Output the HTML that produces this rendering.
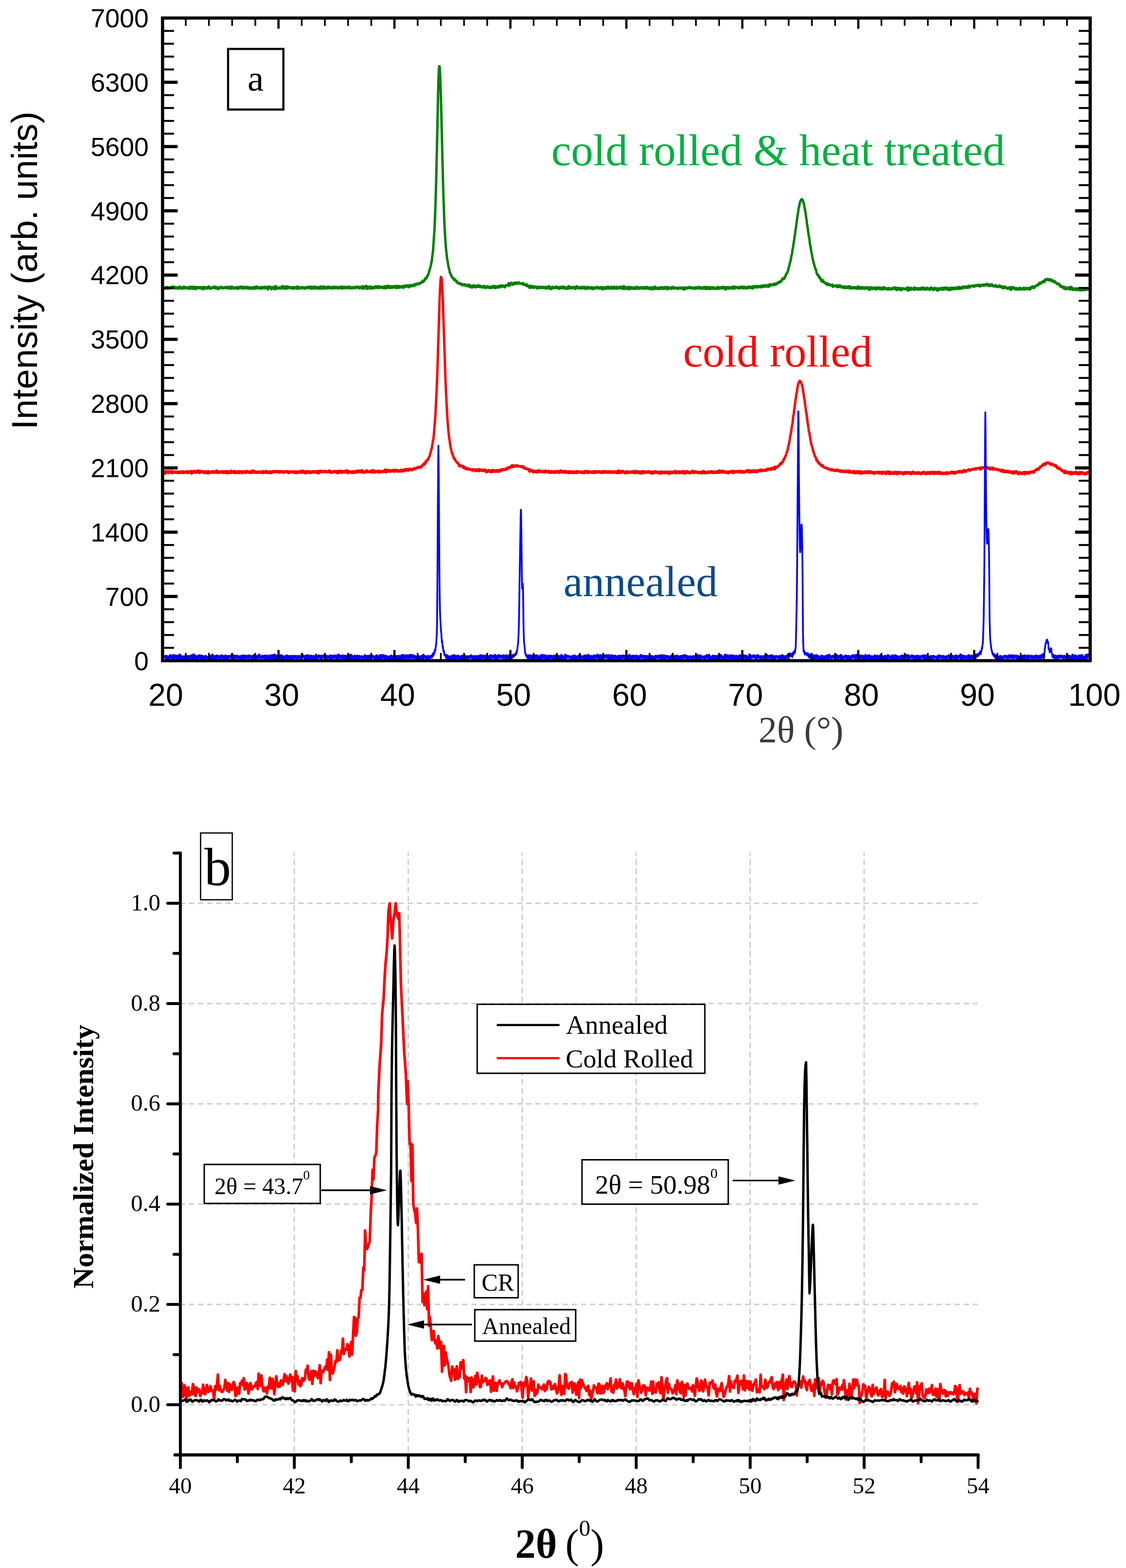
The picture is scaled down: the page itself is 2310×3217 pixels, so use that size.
<!DOCTYPE html><html><head><meta charset="utf-8"><title>XRD patterns</title><style>html,body{margin:0;padding:0;background:#fff;width:2310px;height:3217px;overflow:hidden}svg{display:block}</style></head><body><svg width="2310" height="3217" viewBox="0 0 2310 3217">
<rect width="100%" height="100%" fill="#fff"/>
<polyline fill="none" stroke="#008000" stroke-width="5" stroke-linejoin="round"  points="337,590.5 337.7,591.8 338.4,591.7 339.1,589.9 339.8,590.1 340.5,589.9 341.2,591 341.9,590.4 342.6,591.2 343.3,588.6 344,592 344.7,590.3 345.4,591.1 346.1,590.3 346.8,590.1 347.5,590.9 348.2,591.3 348.9,590.2 349.6,590.3 350.3,591.1 351,589.6 351.7,588.9 352.4,590.8 353.1,589.8 353.8,588.5 354.5,589.6 355.2,590 355.9,589.2 356.6,588.9 357.3,590.5 358,591.3 358.7,590.2 359.4,589.7 360.1,590.8 360.8,591.1 361.5,590.1 362.2,591 362.9,591.5 363.6,590.2 364.3,589.6 365,590.8 365.7,590.7 366.4,591.5 367.1,589.1 367.8,589.8 368.5,589.6 369.2,588.7 369.9,590.6 370.6,591 371.3,589.7 372,591.8 372.7,591.2 373.4,591.1 374.1,590.8 374.8,591.4 375.5,589.1 376.2,591 376.9,591 377.6,588.7 378.3,590.8 379,590.2 379.7,591.2 380.4,590 381.1,590.4 381.8,590.8 382.5,589.5 383.2,591 383.9,590.3 384.6,590.9 385.3,589.9 386,591.5 386.7,591 387.4,590.2 388.1,591.1 388.8,591.7 389.5,592.2 390.2,588.8 390.9,591.3 391.6,590.9 392.3,590.3 393,589.4 393.7,591.7 394.4,589.2 395.1,591 395.8,591.7 396.5,588.8 397.2,590.1 397.9,589.1 398.6,590.7 399.3,591.9 400,592.4 400.7,588.6 401.4,589.8 402.1,591.1 402.8,592 403.5,590.8 404.2,589.7 404.9,590.7 405.6,590.4 406.3,590.2 407,589.7 407.7,590.8 408.4,590.7 409.1,590.3 409.8,590.2 410.5,589.1 411.2,589.9 411.9,591.6 412.6,590.2 413.3,589 414,591.7 414.7,590.9 415.4,592.5 416.1,590.5 416.8,590 417.5,589 418.2,591.7 418.9,593 419.6,589.6 420.3,589.8 421,591 421.7,589.6 422.4,590.1 423.1,590.1 423.8,590.6 424.5,591.5 425.2,590.4 425.9,591.3 426.6,590 427.3,590.7 428,588.3 428.7,589 429.4,591.2 430.1,589.8 430.8,591 431.5,591 432.2,591.7 432.9,591.2 433.6,591.4 434.3,590.3 435,589.7 435.7,589.7 436.4,589.9 437.1,589.3 437.8,589.9 438.5,590.3 439.2,590.7 439.9,590.1 440.6,588.5 441.3,590.3 442,590.6 442.7,591.5 443.4,591 444.1,589.8 444.8,589.7 445.5,592.4 446.2,591.2 446.9,592.2 447.6,592.5 448.3,589.6 449,590.8 449.7,590.9 450.4,591 451.1,590.9 451.8,590.6 452.5,590.6 453.2,588.9 453.9,590.2 454.6,589.7 455.3,590.5 456,589.9 456.7,591 457.4,591.2 458.1,590.7 458.8,590.7 459.5,590.5 460.2,590 460.9,590.2 461.6,589.9 462.3,590.8 463,590.4 463.7,591 464.4,589.1 465.1,591.3 465.8,589.6 466.5,589.7 467.2,590.2 467.9,589.8 468.6,590.7 469.3,589.8 470,589.3 470.7,589.5 471.4,591.7 472.1,590.4 472.8,589.2 473.5,590.4 474.2,588.8 474.9,592.2 475.6,588.9 476.3,590.9 477,590.9 477.7,588.9 478.4,590.7 479.1,591.4 479.8,590.9 480.5,590.7 481.2,591.3 481.9,590.6 482.6,590.7 483.3,590.3 484,591 484.7,589.4 485.4,591.2 486.1,589.9 486.8,589.3 487.5,590.8 488.2,592.1 488.9,591.3 489.6,589.9 490.3,591.1 491,589.9 491.7,590.3 492.4,590.5 493.1,588.1 493.8,590.6 494.5,589.4 495.2,589.7 495.9,588.9 496.6,588.9 497.3,589.4 498,591.2 498.7,592 499.4,590.4 500.1,591.5 500.8,590.1 501.5,588.5 502.2,590.5 502.9,590.8 503.6,590 504.3,590.7 505,591 505.7,589.5 506.4,588.9 507.1,590.2 507.8,590.2 508.5,590 509.2,591.4 509.9,592.1 510.6,590 511.3,591.1 512,591.3 512.7,591.1 513.4,591.4 514.1,590 514.8,591.1 515.5,592.4 516.2,591.2 516.9,589.8 517.6,591 518.3,591.6 519,590.7 519.7,589.8 520.4,591.9 521.1,589.1 521.8,590.9 522.5,590.4 523.2,589.2 523.9,591.6 524.6,590.7 525.3,589.2 526,591 526.7,589.9 527.4,588.5 528.1,589.7 528.8,590.6 529.5,591 530.2,590.5 530.9,590.4 531.6,590.8 532.3,590.2 533,591.5 533.7,590.5 534.4,590.7 535.1,590.9 535.8,589.3 536.5,589.6 537.2,591.9 537.9,590.7 538.6,590.1 539.3,590.7 540,589.9 540.7,590.6 541.4,589.7 542.1,590.6 542.8,588.8 543.5,591.7 544.2,589.8 544.9,588.8 545.6,590.1 546.3,590 547,590.5 547.7,589.2 548.4,590.7 549.1,594 549.8,589.1 550.5,590.7 551.2,590 551.9,590.5 552.6,588.5 553.3,589.2 554,590.8 554.7,590.3 555.4,592 556.1,589.6 556.8,590.5 557.5,593.3 558.2,589.6 558.9,589.4 559.6,590.3 560.3,590.3 561,591.2 561.7,590.5 562.4,589.6 563.1,590.6 563.8,593 564.5,591.6 565.2,587.6 565.9,590.2 566.6,589.5 567.3,591 568,590.2 568.7,592.3 569.4,591.3 570.1,591.2 570.8,590.5 571.5,590.3 572.2,590.7 572.9,591.6 573.6,590.9 574.3,590 575,591.6 575.7,590.5 576.4,590.2 577.1,589.5 577.8,589.8 578.5,589.7 579.2,587.5 579.9,591.3 580.6,590.9 581.3,590.1 582,591.4 582.7,590.8 583.4,590.7 584.1,587.8 584.8,590.1 585.5,590.9 586.2,591.9 586.9,592.2 587.6,591.7 588.3,589.2 589,588.1 589.7,590.9 590.4,590.3 591.1,591.3 591.8,590.2 592.5,590.5 593.2,588.8 593.9,590.8 594.6,589.9 595.3,590.7 596,590.8 596.7,590.2 597.4,590.6 598.1,590.3 598.8,591.1 599.5,590.8 600.2,589.8 600.9,589.7 601.6,592 602.3,590.2 603,591.3 603.7,590.7 604.4,589.7 605.1,589.5 605.8,590.4 606.5,590.6 607.2,590.9 607.9,589 608.6,589.7 609.3,590.2 610,591.9 610.7,587.9 611.4,590.7 612.1,589.7 612.8,590.7 613.5,589.8 614.2,590.6 614.9,591.8 615.6,590.6 616.3,590.7 617,590.7 617.7,589.5 618.4,590.8 619.1,590.1 619.8,589.5 620.5,590.2 621.2,590 621.9,591 622.6,590.2 623.3,589.7 624,591.7 624.7,591.3 625.4,591.5 626.1,590.9 626.8,590.2 627.5,589.8 628.2,590 628.9,591.2 629.6,590.4 630.3,588.8 631,590.2 631.7,588.8 632.4,590.4 633.1,589.1 633.8,589 634.5,590.4 635.2,590.2 635.9,588.6 636.6,591 637.3,592.4 638,588.8 638.7,592.1 639.4,589.6 640.1,589.7 640.8,590.1 641.5,588.8 642.2,591.5 642.9,590.7 643.6,589.5 644.3,590 645,588.7 645.7,589.9 646.4,591.2 647.1,588.5 647.8,589.8 648.5,590.4 649.2,591.3 649.9,591.6 650.6,589.8 651.3,589.5 652,590.7 652.7,589.9 653.4,589.9 654.1,591.3 654.8,591.9 655.5,590.5 656.2,590 656.9,590.8 657.6,588.3 658.3,590.2 659,589.1 659.7,592.6 660.4,590.9 661.1,590.3 661.8,590 662.5,587.7 663.2,590.9 663.9,591.8 664.6,589.5 665.3,590.9 666,590.9 666.7,588.6 667.4,591.1 668.1,591.5 668.8,590.4 669.5,590.1 670.2,591 670.9,588.6 671.6,590.3 672.3,591.2 673,588.9 673.7,591.2 674.4,589.7 675.1,588.1 675.8,590.1 676.5,589.2 677.2,590.5 677.9,589 678.6,591.2 679.3,589.4 680,590.5 680.7,589.6 681.4,589.8 682.1,591.3 682.8,590.4 683.5,589.7 684.2,588.9 684.9,591.3 685.6,590.9 686.3,589.8 687,590.4 687.7,589.1 688.4,589.1 689.1,589.3 689.8,590.5 690.5,590.4 691.2,589.4 691.9,590.9 692.6,590.9 693.3,590.3 694,591.1 694.7,589.8 695.4,590 696.1,590.6 696.8,590.1 697.5,590.9 698.2,588.8 698.9,591.5 699.6,589.3 700.3,589.9 701,588.7 701.7,590.7 702.4,591.3 703.1,591.1 703.8,590.9 704.5,588.5 705.2,589.3 705.9,589.6 706.6,589.1 707.3,591.2 708,590.2 708.7,590 709.4,590.5 710.1,589.1 710.8,589.1 711.5,589.2 712.2,590.5 712.9,590.4 713.6,590.6 714.3,591.1 715,588.7 715.7,589.5 716.4,590.2 717.1,588.7 717.8,589.5 718.5,591 719.2,591.1 719.9,591.1 720.6,590 721.3,589.8 722,591.1 722.7,589.6 723.4,590.3 724.1,591.3 724.8,589.6 725.5,589.4 726.2,590 726.9,590.6 727.6,590.4 728.3,590.1 729,590.5 729.7,588.3 730.4,589.1 731.1,590.1 731.8,589 732.5,588.6 733.2,588.7 733.9,589 734.6,589.7 735.3,588.9 736,590.1 736.7,591.6 737.4,589.7 738.1,591.2 738.8,590.2 739.5,588.8 740.2,589.6 740.9,588.9 741.6,590.6 742.3,588.7 743,591.2 743.7,590.4 744.4,587.8 745.1,590.6 745.8,591.4 746.5,589 747.2,590.8 747.9,588 748.6,590.1 749.3,588.1 750,590.3 750.7,588 751.4,587.1 752.1,590.2 752.8,592.1 753.5,589.2 754.2,590.6 754.9,589.9 755.6,589.4 756.3,590.3 757,591.4 757.7,588.5 758.4,590.3 759.1,590 759.8,588.3 760.5,591.3 761.2,591.6 761.9,588.7 762.6,591.4 763.3,589.7 764,589.5 764.7,591.1 765.4,589.9 766.1,589.9 766.8,591.1 767.5,590.9 768.2,590.5 768.9,588.2 769.6,588 770.3,590.7 771,588.6 771.7,589.7 772.4,588.5 773.1,589.3 773.8,588.2 774.5,591.1 775.2,588.5 775.9,589.4 776.6,589.3 777.3,590.7 778,588 778.7,589.4 779.4,589.2 780.1,589.9 780.8,589.9 781.5,588.9 782.2,589.6 782.9,589 783.6,589.8 784.3,589.2 785,588.7 785.7,589.3 786.4,589.7 787.1,591.5 787.8,588.8 788.5,589.6 789.2,590.7 789.9,587.1 790.6,587.5 791.3,588 792,589.1 792.7,591.6 793.4,589.5 794.1,590.3 794.8,588.9 795.5,586.6 796.2,586.8 796.9,590.1 797.6,589.2 798.3,587.7 799,590.1 799.7,587.4 800.4,590.1 801.1,590.4 801.8,588.1 802.5,587.8 803.2,589.7 803.9,587.7 804.6,589.7 805.3,587.6 806,589.6 806.7,588.8 807.4,588.3 808.1,587.8 808.8,588.9 809.5,586.7 810.2,588.3 810.9,588.2 811.6,589.2 812.3,587.3 813,590.2 813.7,588.2 814.4,587.3 815.1,589.8 815.8,590 816.5,588.1 817.2,587.4 817.9,588.3 818.6,587.5 819.3,587.9 820,589.7 820.7,588.5 821.4,588.2 822.1,588.4 822.8,587.9 823.5,588.8 824.2,588.8 824.9,587.5 825.6,587.9 826.3,590.2 827,588.1 827.7,587.5 828.4,589.6 829.1,587.5 829.8,586.4 830.5,588.1 831.2,586.5 831.9,586.8 832.6,587.6 833.3,587 834,586.3 834.7,586.5 835.4,586.4 836.1,588 836.8,586.1 837.5,586.1 838.2,588.7 838.9,586 839.6,588 840.3,587.7 841,586.1 841.7,584.8 842.4,586.5 843.1,586.6 843.8,586.8 844.5,585.8 845.2,586.8 845.9,586.9 846.6,584.3 847.3,586.7 848,585.3 848.7,584.4 849.4,584.5 850.1,586.6 850.8,585.5 851.5,582.6 852.2,584.3 852.9,583.9 853.6,583.7 854.3,583.1 855,582 855.7,584.1 856.4,582.1 857.1,582.4 857.8,581.9 858.5,581.5 859.2,582.7 859.9,582.1 860.6,580.7 861.3,580.2 862,580.3 862.7,581.4 863.4,580.2 864.1,579.9 864.8,579 865.5,578.6 866.2,578.6 866.9,576.1 867.6,579 868.3,576.1 869,575.7 869.7,577 870.4,575.3 871.1,574.4 871.8,573 872.5,571.2 873.2,572.1 873.9,572.2 874.6,569.2 875.3,570.4 876,566.7 876.7,565.9 877.4,565.8 878.1,563.8 878.8,563 879.5,559.8 880.2,557.6 880.9,554.7 881.6,553.1 882.3,550.8 883,547.7 883.7,546.3 884.4,541.9 885.1,536.8 885.8,537 886.5,528.8 887.2,522.8 887.9,519 888.6,511.6 889.3,501 890,491 890.7,480.4 891.4,469.6 892.1,453.3 892.8,435.6 893.5,416.5 894.2,395.1 894.9,366.8 895.6,339.1 896.3,306.7 897,276.7 897.7,242.2 898.4,208.5 899.1,178.3 899.8,156.4 900.5,139.1 901.2,135.8 901.9,136.8 902.6,146.3 903.3,161.8 904,181.5 904.7,205.6 905.4,232 906.1,260.2 906.8,288.9 907.5,320.3 908.2,348 908.9,375.9 909.6,398 910.3,417.7 911,439 911.7,458.2 912.4,471 913.1,482.9 913.8,494.9 914.5,503.9 915.2,512.1 915.9,518.2 916.6,525 917.3,530.6 918,534.6 918.7,538.4 919.4,543.4 920.1,547.6 920.8,550.3 921.5,552.9 922.2,555.3 922.9,559.6 923.6,559.4 924.3,562 925,564.6 925.7,564.2 926.4,565.9 927.1,568 927.8,569.8 928.5,569.6 929.2,570.7 929.9,571.4 930.6,571 931.3,574.1 932,573.5 932.7,572.8 933.4,575.1 934.1,574.1 934.8,575.4 935.5,577 936.2,576.6 936.9,579.1 937.6,577 938.3,579.2 939,579.9 939.7,581.2 940.4,581.1 941.1,580.8 941.8,580.9 942.5,581.1 943.2,582.6 943.9,581.1 944.6,582.6 945.3,582.2 946,582.8 946.7,582.6 947.4,585.2 948.1,582.6 948.8,583.7 949.5,584 950.2,584.5 950.9,584.5 951.6,584.7 952.3,585.4 953,583.1 953.7,584.7 954.4,583.6 955.1,585.3 955.8,584 956.5,584.3 957.2,585.4 957.9,586.9 958.6,586.2 959.3,586.1 960,587.3 960.7,585.1 961.4,584 962.1,585.8 962.8,586 963.5,587.6 964.2,588.6 964.9,585.2 965.6,589.1 966.3,588.3 967,587.7 967.7,587.3 968.4,589.4 969.1,587.1 969.8,586.6 970.5,587.3 971.2,585.9 971.9,587.8 972.6,587.3 973.3,587.8 974,587.8 974.7,586.5 975.4,588.9 976.1,586.6 976.8,588.6 977.5,586.2 978.2,588.2 978.9,587 979.6,587.9 980.3,587.3 981,585.8 981.7,586.9 982.4,588.1 983.1,588.7 983.8,586.7 984.5,586.1 985.2,587.3 985.9,588 986.6,587.7 987.3,587.5 988,589.2 988.7,589.4 989.4,589.2 990.1,587.5 990.8,588.6 991.5,588.3 992.2,587.1 992.9,589.5 993.6,588.7 994.3,588.1 995,590.1 995.7,589.4 996.4,589.6 997.1,589.9 997.8,589.5 998.5,587.5 999.2,588.4 999.9,589.8 1000.6,588.1 1001.3,588.9 1002,589.3 1002.7,590.3 1003.4,590.2 1004.1,589.8 1004.8,588.8 1005.5,589.9 1006.2,589.5 1006.9,588.8 1007.6,590.3 1008.3,589.5 1009,588.3 1009.7,590.3 1010.4,588.8 1011.1,589.6 1011.8,587.5 1012.5,589 1013.2,588.1 1013.9,588 1014.6,587.1 1015.3,591.1 1016,588.8 1016.7,589.2 1017.4,590 1018.1,588.8 1018.8,589.4 1019.5,587.5 1020.2,589 1020.9,588.4 1021.6,589.2 1022.3,588.9 1023,587.3 1023.7,586.7 1024.4,587.5 1025.1,589.2 1025.8,588.8 1026.5,588.7 1027.2,586.2 1027.9,585.4 1028.6,587.4 1029.3,587.6 1030,587.2 1030.7,588 1031.4,587.4 1032.1,586.2 1032.8,586.4 1033.5,587.2 1034.2,587 1034.9,586.7 1035.6,588.9 1036.3,586.2 1037,586.4 1037.7,585.1 1038.4,585.5 1039.1,586.2 1039.8,586 1040.5,585.1 1041.2,585.5 1041.9,584.9 1042.6,582.7 1043.3,581.1 1044,586.5 1044.7,584.8 1045.4,583.7 1046.1,581.8 1046.8,582.1 1047.5,584.5 1048.2,580.1 1048.9,582.4 1049.6,583.4 1050.3,582.5 1051,582.9 1051.7,581.8 1052.4,584.2 1053.1,580.6 1053.8,580.2 1054.5,581.7 1055.2,582.7 1055.9,581.1 1056.6,582.1 1057.3,580.5 1058,579.7 1058.7,582.3 1059.4,582.4 1060.1,582.3 1060.8,580.4 1061.5,579.7 1062.2,579.7 1062.9,580.6 1063.6,581.5 1064.3,581.5 1065,579.6 1065.7,581.4 1066.4,581.3 1067.1,581.5 1067.8,581.5 1068.5,581.5 1069.2,582.4 1069.9,582.1 1070.6,582.4 1071.3,581.7 1072,583 1072.7,582.7 1073.4,580.9 1074.1,583.7 1074.8,583.2 1075.5,584.6 1076.2,583.7 1076.9,584 1077.6,584.5 1078.3,584.5 1079,584.3 1079.7,583.2 1080.4,587.1 1081.1,583.9 1081.8,585.3 1082.5,586.5 1083.2,586.5 1083.9,586.9 1084.6,587.3 1085.3,588 1086,587.2 1086.7,590 1087.4,586.2 1088.1,587.7 1088.8,587.2 1089.5,587.2 1090.2,588.2 1090.9,589.5 1091.6,587.5 1092.3,587.6 1093,589.2 1093.7,589.1 1094.4,590.6 1095.1,589.8 1095.8,589.1 1096.5,588.6 1097.2,589.3 1097.9,589 1098.6,587.9 1099.3,589.3 1100,589.2 1100.7,589.2 1101.4,589.1 1102.1,591.2 1102.8,590.3 1103.5,590.6 1104.2,589.1 1104.9,588.7 1105.6,589.5 1106.3,590 1107,589.5 1107.7,589.7 1108.4,590.8 1109.1,590.2 1109.8,588.9 1110.5,589.5 1111.2,589.3 1111.9,590.2 1112.6,588.8 1113.3,589.8 1114,590.7 1114.7,590.1 1115.4,589.1 1116.1,589.4 1116.8,590.2 1117.5,590.6 1118.2,590.9 1118.9,590 1119.6,588.8 1120.3,591.5 1121,590.4 1121.7,590.5 1122.4,590.4 1123.1,589.1 1123.8,589.8 1124.5,590.4 1125.2,591.2 1125.9,590.2 1126.6,587.1 1127.3,589.9 1128,590.5 1128.7,591.5 1129.4,590.9 1130.1,592.7 1130.8,591.6 1131.5,591.6 1132.2,591.1 1132.9,588.8 1133.6,591.1 1134.3,590.8 1135,589.7 1135.7,590.8 1136.4,590.6 1137.1,589.8 1137.8,590.1 1138.5,590 1139.2,590.5 1139.9,589.8 1140.6,590.8 1141.3,588.3 1142,590 1142.7,588.6 1143.4,589.8 1144.1,590.8 1144.8,590.3 1145.5,590.2 1146.2,590.4 1146.9,591.9 1147.6,589.2 1148.3,591.2 1149,588.8 1149.7,589.8 1150.4,590.5 1151.1,589.5 1151.8,590.5 1152.5,591 1153.2,589.1 1153.9,590.2 1154.6,590 1155.3,588.4 1156,590.1 1156.7,589.5 1157.4,591.7 1158.1,589.5 1158.8,592 1159.5,589.8 1160.2,592.3 1160.9,590.9 1161.6,590.8 1162.3,591.2 1163,591.3 1163.7,591.8 1164.4,592.1 1165.1,590 1165.8,589.1 1166.5,587.7 1167.2,590 1167.9,591.2 1168.6,590.8 1169.3,590.5 1170,590.1 1170.7,589.8 1171.4,590.1 1172.1,590.8 1172.8,588.6 1173.5,591.1 1174.2,589 1174.9,590.3 1175.6,589.8 1176.3,590.1 1177,589.4 1177.7,589.3 1178.4,590.2 1179.1,589.4 1179.8,592.9 1180.5,590 1181.2,589.8 1181.9,589.9 1182.6,589.4 1183.3,588 1184,590.2 1184.7,590.8 1185.4,589 1186.1,590.5 1186.8,589.3 1187.5,590.4 1188.2,590.8 1188.9,591 1189.6,590.9 1190.3,589.8 1191,591.4 1191.7,590 1192.4,590.8 1193.1,591.2 1193.8,590.2 1194.5,589.2 1195.2,591.1 1195.9,589.4 1196.6,589.6 1197.3,589.4 1198,591.4 1198.7,590.4 1199.4,588.3 1200.1,591.3 1200.8,592.6 1201.5,592.3 1202.2,590 1202.9,590.6 1203.6,591 1204.3,591.4 1205,590.6 1205.7,589.4 1206.4,591.3 1207.1,591.2 1207.8,589.2 1208.5,590.2 1209.2,590.8 1209.9,590.6 1210.6,591.1 1211.3,591.4 1212,591.1 1212.7,590.5 1213.4,589.2 1214.1,591.2 1214.8,592 1215.5,592.6 1216.2,590.5 1216.9,590.5 1217.6,592 1218.3,592 1219,590.9 1219.7,591.3 1220.4,589.8 1221.1,591.2 1221.8,589.8 1222.5,590.5 1223.2,590.5 1223.9,590.1 1224.6,588.5 1225.3,589.8 1226,590.9 1226.7,590.6 1227.4,590.2 1228.1,591.1 1228.8,591.3 1229.5,591.5 1230.2,589.8 1230.9,590.7 1231.6,590.3 1232.3,589.8 1233,589.1 1233.7,590.5 1234.4,589.8 1235.1,592.8 1235.8,590.6 1236.5,590.4 1237.2,590.3 1237.9,592.5 1238.6,589.7 1239.3,590.5 1240,589.9 1240.7,590.5 1241.4,590.6 1242.1,591.8 1242.8,589.3 1243.5,590.7 1244.2,592.3 1244.9,590.2 1245.6,590.5 1246.3,589.8 1247,588.1 1247.7,590.6 1248.4,591.9 1249.1,590.2 1249.8,588.9 1250.5,591 1251.2,590.8 1251.9,591.7 1252.6,591.6 1253.3,590.4 1254,591.1 1254.7,588.9 1255.4,591.8 1256.1,590.9 1256.8,591.8 1257.5,591.8 1258.2,590.4 1258.9,590.6 1259.6,589.9 1260.3,588.7 1261,590.6 1261.7,590.9 1262.4,589.7 1263.1,591.5 1263.8,590.8 1264.5,591.2 1265.2,590 1265.9,589 1266.6,591.5 1267.3,591.4 1268,590.6 1268.7,590.3 1269.4,590.5 1270.1,590.6 1270.8,590.3 1271.5,588.8 1272.2,591.6 1272.9,589.3 1273.6,590.4 1274.3,590.5 1275,591 1275.7,589.2 1276.4,592 1277.1,591.4 1277.8,591.6 1278.5,592.1 1279.2,590 1279.9,587.7 1280.6,591.1 1281.3,592.1 1282,592 1282.7,590.3 1283.4,590.7 1284.1,591.1 1284.8,589 1285.5,590.1 1286.2,590.2 1286.9,592.4 1287.6,590.2 1288.3,592.4 1289,590.8 1289.7,589.2 1290.4,593.1 1291.1,589.9 1291.8,591.5 1292.5,592.5 1293.2,590.3 1293.9,589.6 1294.6,591.9 1295.3,590.9 1296,589.6 1296.7,589.8 1297.4,590.5 1298.1,591.8 1298.8,590.6 1299.5,591.5 1300.2,592.5 1300.9,592.1 1301.6,592.3 1302.3,592.1 1303,589.3 1303.7,592.1 1304.4,591.2 1305.1,590.8 1305.8,589.8 1306.5,589.3 1307.2,589.8 1307.9,590.9 1308.6,589.7 1309.3,590.1 1310,590.3 1310.7,591.6 1311.4,590.6 1312.1,590.7 1312.8,592.2 1313.5,590.6 1314.2,591.5 1314.9,589.8 1315.6,591.2 1316.3,591 1317,591.1 1317.7,590.4 1318.4,589.9 1319.1,590.6 1319.8,590.4 1320.5,591.9 1321.2,591.8 1321.9,589.7 1322.6,591.5 1323.3,590.4 1324,591.4 1324.7,590.4 1325.4,589.5 1326.1,591.9 1326.8,591.4 1327.5,589.7 1328.2,589 1328.9,590.4 1329.6,589.8 1330.3,590.6 1331,591.6 1331.7,592.4 1332.4,590.6 1333.1,592.3 1333.8,592.1 1334.5,590.5 1335.2,589.3 1335.9,591.8 1336.6,591.6 1337.3,593.3 1338,592.4 1338.7,591.7 1339.4,592.6 1340.1,589.9 1340.8,591.2 1341.5,590.7 1342.2,592.7 1342.9,591.5 1343.6,587.9 1344.3,592.3 1345,590.1 1345.7,591.7 1346.4,590.5 1347.1,591.2 1347.8,591.6 1348.5,591.2 1349.2,590 1349.9,592.4 1350.6,591.4 1351.3,591 1352,591.7 1352.7,590.5 1353.4,592.9 1354.1,591.2 1354.8,591.4 1355.5,591.3 1356.2,590.1 1356.9,589.8 1357.6,591.2 1358.3,591.4 1359,592.3 1359.7,591.5 1360.4,589.9 1361.1,591.5 1361.8,591.8 1362.5,592 1363.2,591.3 1363.9,589.8 1364.6,592.2 1365.3,590.3 1366,591.6 1366.7,589.4 1367.4,591.8 1368.1,590.2 1368.8,592.1 1369.5,592.8 1370.2,592.2 1370.9,589.8 1371.6,590.1 1372.3,590.1 1373,591.7 1373.7,591.4 1374.4,591.2 1375.1,591.3 1375.8,591.6 1376.5,591.7 1377.2,592.7 1377.9,591 1378.6,591.2 1379.3,589.2 1380,589.7 1380.7,590.3 1381.4,589.8 1382.1,591.2 1382.8,592.1 1383.5,590.6 1384.2,590.5 1384.9,590.5 1385.6,591.1 1386.3,590.5 1387,591.4 1387.7,591.3 1388.4,591.4 1389.1,591.8 1389.8,591 1390.5,591.2 1391.2,592.8 1391.9,591 1392.6,591.8 1393.3,591.1 1394,590.6 1394.7,590.6 1395.4,590.2 1396.1,591 1396.8,590.4 1397.5,590.6 1398.2,592.2 1398.9,590.9 1399.6,592.1 1400.3,591.3 1401,591.9 1401.7,590.4 1402.4,591.2 1403.1,593.6 1403.8,591.8 1404.5,592 1405.2,591.2 1405.9,591.9 1406.6,589.8 1407.3,590.1 1408,591.4 1408.7,591.8 1409.4,590.6 1410.1,590.8 1410.8,590.6 1411.5,590.8 1412.2,589.8 1412.9,589.6 1413.6,590.9 1414.3,589.3 1415,590 1415.7,590.3 1416.4,589.9 1417.1,591.2 1417.8,590.5 1418.5,590.9 1419.2,590 1419.9,590.2 1420.6,591.5 1421.3,591.3 1422,590.5 1422.7,591.3 1423.4,591.2 1424.1,591.1 1424.8,592.6 1425.5,590.6 1426.2,591.4 1426.9,591.4 1427.6,590.7 1428.3,589.8 1429,591.6 1429.7,591.2 1430.4,591 1431.1,591 1431.8,591 1432.5,590 1433.2,591.2 1433.9,589.1 1434.6,590.9 1435.3,589.4 1436,590.6 1436.7,591.6 1437.4,590.7 1438.1,590.4 1438.8,591.4 1439.5,590.6 1440.2,590.5 1440.9,590.5 1441.6,592.4 1442.3,591.6 1443,591.4 1443.7,589.7 1444.4,591.5 1445.1,589.6 1445.8,591.4 1446.5,589.8 1447.2,592.8 1447.9,589.2 1448.6,592.1 1449.3,591.7 1450,589.1 1450.7,590.6 1451.4,592.3 1452.1,592 1452.8,589.2 1453.5,590.3 1454.2,589.7 1454.9,589.8 1455.6,590.2 1456.3,592.7 1457,590.9 1457.7,590.6 1458.4,590.5 1459.1,591.5 1459.8,591.5 1460.5,589.9 1461.2,592.3 1461.9,589.7 1462.6,590.5 1463.3,591.2 1464,592.5 1464.7,590.4 1465.4,591 1466.1,592.1 1466.8,591.4 1467.5,591.9 1468.2,591.8 1468.9,591 1469.6,591.4 1470.3,591.6 1471,590.7 1471.7,592.3 1472.4,588.7 1473.1,589.8 1473.8,592.1 1474.5,591.1 1475.2,590 1475.9,591.1 1476.6,591.8 1477.3,590.1 1478,591.4 1478.7,590.5 1479.4,590.5 1480.1,590.6 1480.8,591.8 1481.5,589.5 1482.2,590.3 1482.9,591.3 1483.6,589.4 1484.3,589 1485,591.2 1485.7,590.6 1486.4,590.4 1487.1,590.7 1487.8,589.6 1488.5,593.5 1489.2,589.6 1489.9,590.1 1490.6,589.1 1491.3,590.1 1492,592 1492.7,590.5 1493.4,591.1 1494.1,590 1494.8,592.3 1495.5,590.6 1496.2,589.2 1496.9,591.2 1497.6,590.1 1498.3,591 1499,590.6 1499.7,590.7 1500.4,590.5 1501.1,589.5 1501.8,588.9 1502.5,591.3 1503.2,590.2 1503.9,590.6 1504.6,589.9 1505.3,588.3 1506,589 1506.7,591.7 1507.4,589.5 1508.1,589.9 1508.8,588.8 1509.5,589.7 1510.2,589.8 1510.9,590 1511.6,590.1 1512.3,589.5 1513,589.6 1513.7,590.1 1514.4,590.5 1515.1,590 1515.8,591.8 1516.5,590.3 1517.2,590.2 1517.9,589.4 1518.6,591.1 1519.3,589 1520,588.4 1520.7,589 1521.4,590.6 1522.1,588.8 1522.8,591.2 1523.5,589.9 1524.2,588.4 1524.9,589.6 1525.6,591.6 1526.3,588.9 1527,588.5 1527.7,590.3 1528.4,591 1529.1,590.7 1529.8,589.4 1530.5,589.9 1531.2,590 1531.9,590.8 1532.6,591.7 1533.3,589.5 1534,590.8 1534.7,589.2 1535.4,590.1 1536.1,588.5 1536.8,588.7 1537.5,589.8 1538.2,588.5 1538.9,590.2 1539.6,588.8 1540.3,589.4 1541,589.2 1541.7,588.9 1542.4,589.3 1543.1,590.2 1543.8,592.2 1544.5,587.9 1545.2,589.3 1545.9,588.8 1546.6,588 1547.3,589.2 1548,588 1548.7,588.8 1549.4,590 1550.1,586.7 1550.8,588.9 1551.5,589.1 1552.2,587.6 1552.9,589.1 1553.6,588.9 1554.3,588.1 1555,589.6 1555.7,587 1556.4,588.9 1557.1,588 1557.8,587.1 1558.5,588 1559.2,587.7 1559.9,588.8 1560.6,586.5 1561.3,587.7 1562,587.4 1562.7,589.3 1563.4,586.6 1564.1,588.7 1564.8,585.8 1565.5,587.8 1566.2,587.3 1566.9,587.7 1567.6,586.5 1568.3,585.2 1569,585.5 1569.7,588.3 1570.4,587.1 1571.1,585.9 1571.8,587.6 1572.5,585.9 1573.2,585.8 1573.9,585.2 1574.6,587.5 1575.3,588.1 1576,585.1 1576.7,586.2 1577.4,586.8 1578.1,587.8 1578.8,583.2 1579.5,585.6 1580.2,586 1580.9,583.7 1581.6,585.4 1582.3,585.1 1583,585.5 1583.7,584 1584.4,584.8 1585.1,583.6 1585.8,584.7 1586.5,584.1 1587.2,583.3 1587.9,582.1 1588.6,585 1589.3,584.2 1590,583.8 1590.7,582 1591.4,582.1 1592.1,583.9 1592.8,582.7 1593.5,580.8 1594.2,581.4 1594.9,581.2 1595.6,580.6 1596.3,579.5 1597,581.4 1597.7,580.4 1598.4,579.2 1599.1,577.5 1599.8,578 1600.5,578.2 1601.2,578.6 1601.9,576.9 1602.6,577.8 1603.3,576.3 1604,574.8 1604.7,572.1 1605.4,573.1 1606.1,572 1606.8,572.6 1607.5,572.3 1608.2,572.4 1608.9,570.1 1609.6,567.9 1610.3,570.3 1611,567.1 1611.7,565.3 1612.4,564 1613.1,561.5 1613.8,561.9 1614.5,560 1615.2,559.5 1615.9,557.1 1616.6,554.9 1617.3,553.2 1618,549.4 1618.7,546.8 1619.4,544.7 1620.1,540.8 1620.8,539 1621.5,535.9 1622.2,533.7 1622.9,529.7 1623.6,524.3 1624.3,522.6 1625,520.2 1625.7,513 1626.4,509.9 1627.1,506.4 1627.8,500.6 1628.5,496.8 1629.2,492.7 1629.9,486.5 1630.6,483.2 1631.3,478.3 1632,471.5 1632.7,467.7 1633.4,463.6 1634.1,457.2 1634.8,452.7 1635.5,447.9 1636.2,442.2 1636.9,438.6 1637.6,433.5 1638.3,427.9 1639,425.4 1639.7,422.1 1640.4,418.8 1641.1,414.5 1641.8,413.2 1642.5,412.3 1643.2,409.8 1643.9,409.9 1644.6,409.7 1645.3,408.6 1646,410 1646.7,410.3 1647.4,413.4 1648.1,414.5 1648.8,416.6 1649.5,420.2 1650.2,423.5 1650.9,427.7 1651.6,431.7 1652.3,434.3 1653,439.3 1653.7,444.9 1654.4,449.7 1655.1,454.2 1655.8,461.6 1656.5,465.1 1657.2,468.8 1657.9,474.6 1658.6,480.1 1659.3,483.9 1660,486.6 1660.7,493.1 1661.4,497.6 1662.1,504.1 1662.8,504.4 1663.5,512 1664.2,514.3 1664.9,519.2 1665.6,521.7 1666.3,525.8 1667,530.1 1667.7,532.4 1668.4,536.4 1669.1,538.3 1669.8,540.7 1670.5,543.6 1671.2,545.8 1671.9,548.6 1672.6,552.3 1673.3,551.9 1674,553.5 1674.7,557 1675.4,560.5 1676.1,561.5 1676.8,563.3 1677.5,564.7 1678.2,564.1 1678.9,566.3 1679.6,564.7 1680.3,567.9 1681,570.2 1681.7,569 1682.4,569.4 1683.1,571.1 1683.8,573.4 1684.5,575.1 1685.2,577.3 1685.9,576.8 1686.6,574.5 1687.3,574.3 1688,577.3 1688.7,578.8 1689.4,576.6 1690.1,578.1 1690.8,578.7 1691.5,579.6 1692.2,579.8 1692.9,580.8 1693.6,581.7 1694.3,581.1 1695,582.1 1695.7,583.7 1696.4,581 1697.1,581.2 1697.8,583 1698.5,584.6 1699.2,583.2 1699.9,584.4 1700.6,583.2 1701.3,584.7 1702,583.3 1702.7,584.8 1703.4,584.8 1704.1,584.9 1704.8,586.1 1705.5,586 1706.2,584.5 1706.9,586.1 1707.6,583.7 1708.3,586.6 1709,588.5 1709.7,586.4 1710.4,586.5 1711.1,586.2 1711.8,587.1 1712.5,586 1713.2,587.2 1713.9,586.4 1714.6,586.4 1715.3,587.1 1716,587 1716.7,585.4 1717.4,589.3 1718.1,587.5 1718.8,585.8 1719.5,588.6 1720.2,587.6 1720.9,588 1721.6,588.6 1722.3,587 1723,585.1 1723.7,588 1724.4,588.4 1725.1,589.3 1725.8,587.6 1726.5,588.2 1727.2,588.9 1727.9,588.3 1728.6,588.4 1729.3,589 1730,587.8 1730.7,590.4 1731.4,588 1732.1,589 1732.8,588.7 1733.5,588.4 1734.2,589.7 1734.9,590.2 1735.6,590.7 1736.3,589.9 1737,588.9 1737.7,590.3 1738.4,588.1 1739.1,589.6 1739.8,590.1 1740.5,590.2 1741.2,588.5 1741.9,588.2 1742.6,591.4 1743.3,589.3 1744,588.2 1744.7,588.7 1745.4,590 1746.1,591.2 1746.8,590 1747.5,591.3 1748.2,590.3 1748.9,590.6 1749.6,591.2 1750.3,589.8 1751,590.6 1751.7,589.9 1752.4,589.7 1753.1,591 1753.8,589.6 1754.5,590.5 1755.2,589.7 1755.9,590.4 1756.6,590 1757.3,591.6 1758,590.7 1758.7,590.7 1759.4,592.3 1760.1,587.8 1760.8,589.6 1761.5,588 1762.2,590.7 1762.9,591.2 1763.6,591.4 1764.3,591.1 1765,590 1765.7,592.6 1766.4,591.2 1767.1,590.6 1767.8,589.8 1768.5,591.4 1769.2,590.5 1769.9,590.5 1770.6,591.2 1771.3,591.3 1772,590.2 1772.7,592.3 1773.4,590.1 1774.1,590 1774.8,591.5 1775.5,591.3 1776.2,591.3 1776.9,590.8 1777.6,591.3 1778.3,590.7 1779,589.6 1779.7,592 1780.4,590.3 1781.1,591.1 1781.8,592.1 1782.5,591.4 1783.2,594.1 1783.9,590 1784.6,590.7 1785.3,591.5 1786,592.8 1786.7,591.2 1787.4,590 1788.1,592.6 1788.8,590.6 1789.5,591.3 1790.2,592.4 1790.9,590.9 1791.6,591.1 1792.3,592.1 1793,591.4 1793.7,591.9 1794.4,590.7 1795.1,591.5 1795.8,590.6 1796.5,590.1 1797.2,593.4 1797.9,592.2 1798.6,592.6 1799.3,590.8 1800,591.7 1800.7,591.5 1801.4,590.3 1802.1,592.3 1802.8,591.1 1803.5,591.6 1804.2,590.3 1804.9,592.8 1805.6,592.6 1806.3,592.2 1807,590.9 1807.7,591.3 1808.4,593.1 1809.1,591.6 1809.8,592.1 1810.5,592 1811.2,590.8 1811.9,593.4 1812.6,589.9 1813.3,592.1 1814,591.8 1814.7,590.3 1815.4,592.3 1816.1,592.5 1816.8,592 1817.5,591.1 1818.2,592.4 1818.9,593.1 1819.6,592.2 1820.3,593.7 1821,592.9 1821.7,592.8 1822.4,593.4 1823.1,591.4 1823.8,591.5 1824.5,592.6 1825.2,592.6 1825.9,593.6 1826.6,593.2 1827.3,592.3 1828,592.3 1828.7,591.8 1829.4,591.7 1830.1,591.7 1830.8,593 1831.5,591.7 1832.2,591.8 1832.9,592.3 1833.6,591.6 1834.3,591.9 1835,590 1835.7,592.5 1836.4,591.9 1837.1,592.4 1837.8,592.6 1838.5,590.4 1839.2,594.6 1839.9,592.4 1840.6,592.4 1841.3,590.5 1842,592.9 1842.7,592.7 1843.4,591.9 1844.1,592.6 1844.8,593.6 1845.5,592 1846.2,591.5 1846.9,593.7 1847.6,592.7 1848.3,592.2 1849,594.7 1849.7,592.6 1850.4,592.2 1851.1,592.7 1851.8,592 1852.5,592.6 1853.2,592.6 1853.9,591.8 1854.6,592.2 1855.3,592.8 1856,592.8 1856.7,593 1857.4,593.2 1858.1,592.7 1858.8,593 1859.5,592.1 1860.2,592.2 1860.9,593.5 1861.6,590.5 1862.3,592.8 1863,595.6 1863.7,590.6 1864.4,594 1865.1,590.7 1865.8,592.8 1866.5,594.1 1867.2,594 1867.9,591.6 1868.6,591.2 1869.3,591 1870,593.2 1870.7,592.1 1871.4,592.5 1872.1,592.7 1872.8,592.9 1873.5,593 1874.2,592.6 1874.9,590.9 1875.6,593.9 1876.3,589.7 1877,593.7 1877.7,591.9 1878.4,592.3 1879.1,592 1879.8,592.1 1880.5,592.5 1881.2,592.2 1881.9,591.4 1882.6,593.3 1883.3,591.9 1884,593.8 1884.7,592.3 1885.4,591.8 1886.1,592.9 1886.8,593.4 1887.5,591.6 1888.2,592.2 1888.9,593.9 1889.6,591.5 1890.3,591.7 1891,592.7 1891.7,591.3 1892.4,590.1 1893.1,590.9 1893.8,592.9 1894.5,593.2 1895.2,593.1 1895.9,592.9 1896.6,591.3 1897.3,593.2 1898,593.7 1898.7,591.9 1899.4,593.5 1900.1,592.2 1900.8,592.7 1901.5,592.9 1902.2,591.1 1902.9,594 1903.6,591.7 1904.3,592.5 1905,592.1 1905.7,593 1906.4,593 1907.1,592.6 1907.8,594 1908.5,592.9 1909.2,592.2 1909.9,589.7 1910.6,592.3 1911.3,592.3 1912,591.7 1912.7,591.7 1913.4,593.2 1914.1,593.6 1914.8,594.5 1915.5,593.7 1916.2,591.9 1916.9,592.9 1917.6,591.2 1918.3,593.3 1919,593 1919.7,592 1920.4,592.5 1921.1,592.3 1921.8,592 1922.5,593.9 1923.2,595.7 1923.9,593.4 1924.6,593.7 1925.3,592.8 1926,592.2 1926.7,594.8 1927.4,592.2 1928.1,593 1928.8,592.5 1929.5,593.2 1930.2,592.5 1930.9,593.2 1931.6,591.3 1932.3,592.5 1933,593.9 1933.7,591.5 1934.4,591.9 1935.1,593.9 1935.8,592.9 1936.5,593.6 1937.2,590.3 1937.9,592.6 1938.6,591.2 1939.3,591.1 1940,592.9 1940.7,593.6 1941.4,590.9 1942.1,591.3 1942.8,591.8 1943.5,592.3 1944.2,591 1944.9,594.6 1945.6,592.9 1946.3,592 1947,591.8 1947.7,594.6 1948.4,594.5 1949.1,591.7 1949.8,592.6 1950.5,593.4 1951.2,591 1951.9,591.5 1952.6,593.4 1953.3,591.4 1954,591.6 1954.7,590.6 1955.4,591.2 1956.1,592.6 1956.8,591 1957.5,590.5 1958.2,591.1 1958.9,593.5 1959.6,591.9 1960.3,591.1 1961,591.7 1961.7,592 1962.4,591.6 1963.1,589.6 1963.8,591.7 1964.5,591.1 1965.2,592.1 1965.9,589.8 1966.6,592.2 1967.3,590.5 1968,589.3 1968.7,592.2 1969.4,590.3 1970.1,591.1 1970.8,590.5 1971.5,591.7 1972.2,591.6 1972.9,591.6 1973.6,591.1 1974.3,588.6 1975,588.5 1975.7,590.3 1976.4,589 1977.1,590.4 1977.8,590 1978.5,588.3 1979.2,588.6 1979.9,588.4 1980.6,588.5 1981.3,589.1 1982,589.9 1982.7,590.4 1983.4,588 1984.1,588.3 1984.8,590.3 1985.5,589.5 1986.2,588.8 1986.9,586.1 1987.6,587.3 1988.3,588.4 1989,587.5 1989.7,590 1990.4,587.9 1991.1,588 1991.8,586.5 1992.5,586.5 1993.2,586.7 1993.9,586.7 1994.6,586.9 1995.3,587.5 1996,587.2 1996.7,587.9 1997.4,585.4 1998.1,586.9 1998.8,586.8 1999.5,588 2000.2,586.1 2000.9,586.6 2001.6,585.3 2002.3,586.5 2003,586.4 2003.7,585.2 2004.4,585.3 2005.1,585.7 2005.8,586.2 2006.5,584.4 2007.2,586.4 2007.9,585.1 2008.6,587.2 2009.3,586.7 2010,584.8 2010.7,584.5 2011.4,587.6 2012.1,585.7 2012.8,585.6 2013.5,584.5 2014.2,584.8 2014.9,585.7 2015.6,585.5 2016.3,584 2017,586.1 2017.7,585.1 2018.4,583.8 2019.1,585.8 2019.8,584.6 2020.5,585.6 2021.2,584.2 2021.9,585.2 2022.6,583.2 2023.3,585.2 2024,583.3 2024.7,585 2025.4,582.3 2026.1,584.9 2026.8,585.7 2027.5,585.5 2028.2,586.3 2028.9,584 2029.6,586.8 2030.3,586.9 2031,584.1 2031.7,584.6 2032.4,584.9 2033.1,585.5 2033.8,585.8 2034.5,583.2 2035.2,586.4 2035.9,585.6 2036.6,584.9 2037.3,587 2038,585.8 2038.7,587.4 2039.4,586.9 2040.1,586.1 2040.8,587.7 2041.5,587.4 2042.2,586.2 2042.9,585.2 2043.6,586.4 2044.3,587.7 2045,586.9 2045.7,589.1 2046.4,587.7 2047.1,587.7 2047.8,588 2048.5,586.9 2049.2,587.7 2049.9,587.3 2050.6,585.7 2051.3,586.4 2052,589.1 2052.7,588 2053.4,588.4 2054.1,587.2 2054.8,588.2 2055.5,589.7 2056.2,589.1 2056.9,588.6 2057.6,590.8 2058.3,589.3 2059,589.1 2059.7,590.7 2060.4,587.9 2061.1,590.3 2061.8,588.7 2062.5,589.1 2063.2,589.3 2063.9,590.3 2064.6,590.3 2065.3,590.6 2066,590.6 2066.7,591.9 2067.4,592.3 2068.1,591.4 2068.8,591.5 2069.5,590.4 2070.2,589.8 2070.9,591.6 2071.6,591.1 2072.3,592 2073,589.3 2073.7,594 2074.4,590 2075.1,591.4 2075.8,592.4 2076.5,590.1 2077.2,591 2077.9,589.6 2078.6,590.2 2079.3,589.8 2080,591.9 2080.7,592.1 2081.4,591.6 2082.1,593.2 2082.8,593.4 2083.5,592 2084.2,591.8 2084.9,591.8 2085.6,591.7 2086.3,593.5 2087,592.4 2087.7,591.9 2088.4,592 2089.1,592.8 2089.8,591.9 2090.5,592.6 2091.2,592.3 2091.9,593.7 2092.6,593.5 2093.3,591 2094,592.2 2094.7,593.1 2095.4,592 2096.1,593.3 2096.8,592.8 2097.5,593 2098.2,592.4 2098.9,592.7 2099.6,593 2100.3,590.9 2101,591.5 2101.7,591.4 2102.4,594.1 2103.1,592.6 2103.8,592.7 2104.5,592.4 2105.2,591.7 2105.9,591.4 2106.6,593 2107.3,591.7 2108,593.6 2108.7,592.1 2109.4,591.9 2110.1,591.5 2110.8,591.5 2111.5,591.5 2112.2,592.9 2112.9,593.6 2113.6,590 2114.3,591.2 2115,591.5 2115.7,589.7 2116.4,589.8 2117.1,589.8 2117.8,587.6 2118.5,590.4 2119.2,589.5 2119.9,589.2 2120.6,589.1 2121.3,589 2122,590.7 2122.7,588.3 2123.4,588.6 2124.1,586.9 2124.8,587.4 2125.5,586.4 2126.2,586.2 2126.9,585 2127.6,584.7 2128.3,585.5 2129,585.4 2129.7,584.7 2130.4,583.1 2131.1,583.6 2131.8,580.3 2132.5,583.3 2133.2,581.9 2133.9,581.7 2134.6,582.1 2135.3,580.1 2136,581 2136.7,579.1 2137.4,579.6 2138.1,578.2 2138.8,578.5 2139.5,579.2 2140.2,576.7 2140.9,576.4 2141.6,576.3 2142.3,576.5 2143,578.6 2143.7,575 2144.4,573.2 2145.1,574.3 2145.8,573.2 2146.5,574 2147.2,574.4 2147.9,573.2 2148.6,573.4 2149.3,572.1 2150,574.1 2150.7,573.2 2151.4,575 2152.1,575 2152.8,573.1 2153.5,573.7 2154.2,574.3 2154.9,575.2 2155.6,572.9 2156.3,574.7 2157,576.9 2157.7,575.2 2158.4,575.9 2159.1,576 2159.8,575.1 2160.5,577.6 2161.2,577.3 2161.9,577.6 2162.6,578.6 2163.3,579.1 2164,576.8 2164.7,579.7 2165.4,579.1 2166.1,580.3 2166.8,579.9 2167.5,580.2 2168.2,582.5 2168.9,582 2169.6,582.2 2170.3,582.7 2171,583.5 2171.7,583.9 2172.4,582 2173.1,583.9 2173.8,585 2174.5,586.4 2175.2,587.4 2175.9,585.5 2176.6,588.8 2177.3,587.3 2178,588.1 2178.7,587.4 2179.4,587.6 2180.1,590 2180.8,588.7 2181.5,589.1 2182.2,590.6 2182.9,591.4 2183.6,588.4 2184.3,590 2185,590.4 2185.7,592.4 2186.4,593.3 2187.1,590.9 2187.8,591.5 2188.5,592.2 2189.2,592.6 2189.9,591.3 2190.6,592.6 2191.3,591.1 2192,589.3 2192.7,590.7 2193.4,592.4 2194.1,593 2194.8,590 2195.5,590.6 2196.2,592.4 2196.9,589.1 2197.6,593.1 2198.3,593.6 2199,589.7 2199.7,593.5 2200.4,592.5 2201.1,594.2 2201.8,593.1 2202.5,592.6 2203.2,593 2203.9,593.8 2204.6,593.1 2205.3,592.9 2206,591.5 2206.7,593.4 2207.4,593 2208.1,594.8 2208.8,593 2209.5,592.9 2210.2,592.4 2210.9,593.7 2211.6,592.8 2212.3,592.3 2213,594.6 2213.7,594.8 2214.4,592.6 2215.1,592 2215.8,594.2 2216.5,592.2 2217.2,595.9 2217.9,592.9 2218.6,594 2219.3,591.7 2220,593 2220.7,594.1 2221.4,593.5 2222.1,592.5 2222.8,595.5 2223.5,593.8 2224.2,592.8 2224.9,592.4 2225.6,592.8 2226.3,594.4 2227,592.3 2227.7,593.1 2228.4,592.2 2229.1,594.3 2229.8,592.9 2230.5,593.9 2231.2,593.6 2231.9,592.5 2232.6,593.8"/>
<polyline fill="none" stroke="#008000" stroke-width="6" stroke-linejoin="round"  points="337,590.5 338.4,591.7 339.8,590.1 341.2,591 342.6,591.2 344,592 345.4,591.1 346.8,590.1 348.2,591.3 349.6,590.3 351,589.6 352.4,590.8 353.8,588.5 355.2,590 356.6,588.9 358,591.3 359.4,589.7 360.8,591.1 362.2,591 363.6,590.2 365,590.8 366.4,591.5 367.8,589.8 369.2,588.7 370.6,591 372,591.8 373.4,591.1 374.8,591.4 376.2,591 377.6,588.7 379,590.2 380.4,590 381.8,590.8 383.2,591 384.6,590.9 386,591.5 387.4,590.2 388.8,591.7 390.2,588.8 391.6,590.9 393,589.4 394.4,589.2 395.8,591.7 397.2,590.1 398.6,590.7 400,592.4 401.4,589.8 402.8,592 404.2,589.7 405.6,590.4 407,589.7 408.4,590.7 409.8,590.2 411.2,589.9 412.6,590.2 414,591.7 415.4,592.5 416.8,590 418.2,591.7 419.6,589.6 421,591 422.4,590.1 423.8,590.6 425.2,590.4 426.6,590 428,588.3 429.4,591.2 430.8,591 432.2,591.7 433.6,591.4 435,589.7 436.4,589.9 437.8,589.9 439.2,590.7 440.6,588.5 442,590.6 443.4,591 444.8,589.7 446.2,591.2 447.6,592.5 449,590.8 450.4,591 451.8,590.6 453.2,588.9 454.6,589.7 456,589.9 457.4,591.2 458.8,590.7 460.2,590 461.6,589.9 463,590.4 464.4,589.1 465.8,589.6 467.2,590.2 468.6,590.7 470,589.3 471.4,591.7 472.8,589.2 474.2,588.8 475.6,588.9 477,590.9 478.4,590.7 479.8,590.9 481.2,591.3 482.6,590.7 484,591 485.4,591.2 486.8,589.3 488.2,592.1 489.6,589.9 491,589.9 492.4,590.5 493.8,590.6 495.2,589.7 496.6,588.9 498,591.2 499.4,590.4 500.8,590.1 502.2,590.5 503.6,590 505,591 506.4,588.9 507.8,590.2 509.2,591.4 510.6,590 512,591.3 513.4,591.4 514.8,591.1 516.2,591.2 517.6,591 519,590.7 520.4,591.9 521.8,590.9 523.2,589.2 524.6,590.7 526,591 527.4,588.5 528.8,590.6 530.2,590.5 531.6,590.8 533,591.5 534.4,590.7 535.8,589.3 537.2,591.9 538.6,590.1 540,589.9 541.4,589.7 542.8,588.8 544.2,589.8 545.6,590.1 547,590.5 548.4,590.7 549.8,589.1 551.2,590 552.6,588.5 554,590.8 555.4,592 556.8,590.5 558.2,589.6 559.6,590.3 561,591.2 562.4,589.6 563.8,593 565.2,587.6 566.6,589.5 568,590.2 569.4,591.3 570.8,590.5 572.2,590.7 573.6,590.9 575,591.6 576.4,590.2 577.8,589.8 579.2,587.5 580.6,590.9 582,591.4 583.4,590.7 584.8,590.1 586.2,591.9 587.6,591.7 589,588.1 590.4,590.3 591.8,590.2 593.2,588.8 594.6,589.9 596,590.8 597.4,590.6 598.8,591.1 600.2,589.8 601.6,592 603,591.3 604.4,589.7 605.8,590.4 607.2,590.9 608.6,589.7 610,591.9 611.4,590.7 612.8,590.7 614.2,590.6 615.6,590.6 617,590.7 618.4,590.8 619.8,589.5 621.2,590 622.6,590.2 624,591.7 625.4,591.5 626.8,590.2 628.2,590 629.6,590.4 631,590.2 632.4,590.4 633.8,589 635.2,590.2 636.6,591 638,588.8 639.4,589.6 640.8,590.1 642.2,591.5 643.6,589.5 645,588.7 646.4,591.2 647.8,589.8 649.2,591.3 650.6,589.8 652,590.7 653.4,589.9 654.8,591.9 656.2,590 657.6,588.3 659,589.1 660.4,590.9 661.8,590 663.2,590.9 664.6,589.5 666,590.9 667.4,591.1 668.8,590.4 670.2,591 671.6,590.3 673,588.9 674.4,589.7 675.8,590.1 677.2,590.5 678.6,591.2 680,590.5 681.4,589.8 682.8,590.4 684.2,588.9 685.6,590.9 687,590.4 688.4,589.1 689.8,590.5 691.2,589.4 692.6,590.9 694,591.1 695.4,590 696.8,590.1 698.2,588.8 699.6,589.3 701,588.7 702.4,591.3 703.8,590.9 705.2,589.3 706.6,589.1 708,590.2 709.4,590.5 710.8,589.1 712.2,590.5 713.6,590.6 715,588.7 716.4,590.2 717.8,589.5 719.2,591.1 720.6,590 722,591.1 723.4,590.3 724.8,589.6 726.2,590 727.6,590.4 729,590.5 730.4,589.1 731.8,589 733.2,588.7 734.6,589.7 736,590.1 737.4,589.7 738.8,590.2 740.2,589.6 741.6,590.6 743,591.2 744.4,587.8 745.8,591.4 747.2,590.8 748.6,590.1 750,590.3 751.4,587.1 752.8,592.1 754.2,590.6 755.6,589.4 757,591.4 758.4,590.3 759.8,588.3 761.2,591.6 762.6,591.4 764,589.5 765.4,589.9 766.8,591.1 768.2,590.5 769.6,588 771,588.6 772.4,588.5 773.8,588.2 775.2,588.5 776.6,589.3 778,588 779.4,589.2 780.8,589.9 782.2,589.6 783.6,589.8 785,588.7 786.4,589.7 787.8,588.8 789.2,590.7 790.6,587.5 792,589.1 793.4,589.5 794.8,588.9 796.2,586.8 797.6,589.2 799,590.1 800.4,590.1 801.8,588.1 803.2,589.7 804.6,589.7 806,589.6 807.4,588.3 808.8,588.9 810.2,588.3 811.6,589.2 813,590.2 814.4,587.3 815.8,590 817.2,587.4 818.6,587.5 820,589.7 821.4,588.2 822.8,587.9 824.2,588.8 825.6,587.9 827,588.1 828.4,589.6 829.8,586.4 831.2,586.5 832.6,587.6 834,586.3 835.4,586.4 836.8,586.1 838.2,588.7 839.6,588 841,586.1"/><polyline fill="none" stroke="#008000" stroke-width="6" stroke-linejoin="round"  points="842.4,586.5 843.8,586.8 845.2,586.8 845.9,586.9"/><polyline fill="none" stroke="#008000" stroke-width="6" stroke-linejoin="round"  points="957.9,586.9 959.3,586.1 960,587.3"/><polyline fill="none" stroke="#008000" stroke-width="6" stroke-linejoin="round"  points="962.1,585.8 963.5,587.6 964.2,588.6"/><polyline fill="none" stroke="#008000" stroke-width="6" stroke-linejoin="round"  points="965.6,589.1 967,587.7 968.4,589.4 969.8,586.6 971.2,585.9 972.6,587.3 974,587.8 975.4,588.9 976.8,588.6 978.2,588.2 979.6,587.9 981,585.8 982.4,588.1 983.8,586.7 985.2,587.3 986.6,587.7 988,589.2 989.4,589.2 990.8,588.6 992.2,587.1 993.6,588.7 995,590.1 996.4,589.6 997.8,589.5 999.2,588.4 1000.6,588.1 1002,589.3 1003.4,590.2 1004.8,588.8 1006.2,589.5 1007.6,590.3 1009,588.3 1010.4,588.8 1011.8,587.5 1013.2,588.1 1014.6,587.1 1016,588.8 1017.4,590 1018.8,589.4 1020.2,589 1021.6,589.2 1023,587.3 1024.4,587.5 1025.8,588.8 1027.2,586.2"/><polyline fill="none" stroke="#008000" stroke-width="6" stroke-linejoin="round"  points="1028.6,587.4 1030,587.2 1031.4,587.4 1032.8,586.4 1034.2,587 1035.6,588.9 1037,586.4"/><polyline fill="none" stroke="#008000" stroke-width="6" stroke-linejoin="round"  points="1038.4,585.5 1039.8,586"/><polyline fill="none" stroke="#008000" stroke-width="6" stroke-linejoin="round"  points="1082.5,586.5 1083.9,586.9 1085.3,588 1086.7,590 1088.1,587.7 1089.5,587.2 1090.9,589.5 1092.3,587.6 1093.7,589.1 1095.1,589.8 1096.5,588.6 1097.9,589 1099.3,589.3 1100.7,589.2 1102.1,591.2 1103.5,590.6 1104.9,588.7 1106.3,590 1107.7,589.7 1109.1,590.2 1110.5,589.5 1111.9,590.2 1113.3,589.8 1114.7,590.1 1116.1,589.4 1117.5,590.6 1118.9,590 1120.3,591.5 1121.7,590.5 1123.1,589.1 1124.5,590.4 1125.9,590.2 1127.3,589.9 1128.7,591.5 1130.1,592.7 1131.5,591.6 1132.9,588.8 1134.3,590.8 1135.7,590.8 1137.1,589.8 1138.5,590 1139.9,589.8 1141.3,588.3 1142.7,588.6 1144.1,590.8 1145.5,590.2 1146.9,591.9 1148.3,591.2 1149.7,589.8 1151.1,589.5 1152.5,591 1153.9,590.2 1155.3,588.4 1156.7,589.5 1158.1,589.5 1159.5,589.8 1160.9,590.9 1162.3,591.2 1163.7,591.8 1165.1,590 1166.5,587.7 1167.9,591.2 1169.3,590.5 1170.7,589.8 1172.1,590.8 1173.5,591.1 1174.9,590.3 1176.3,590.1 1177.7,589.3 1179.1,589.4 1180.5,590 1181.9,589.9 1183.3,588 1184.7,590.8 1186.1,590.5 1187.5,590.4 1188.9,591 1190.3,589.8 1191.7,590 1193.1,591.2 1194.5,589.2 1195.9,589.4 1197.3,589.4 1198.7,590.4 1200.1,591.3 1201.5,592.3 1202.9,590.6 1204.3,591.4 1205.7,589.4 1207.1,591.2 1208.5,590.2 1209.9,590.6 1211.3,591.4 1212.7,590.5 1214.1,591.2 1215.5,592.6 1216.9,590.5 1218.3,592 1219.7,591.3 1221.1,591.2 1222.5,590.5 1223.9,590.1 1225.3,589.8 1226.7,590.6 1228.1,591.1 1229.5,591.5 1230.9,590.7 1232.3,589.8 1233.7,590.5 1235.1,592.8 1236.5,590.4 1237.9,592.5 1239.3,590.5 1240.7,590.5 1242.1,591.8 1243.5,590.7 1244.9,590.2 1246.3,589.8 1247.7,590.6 1249.1,590.2 1250.5,591 1251.9,591.7 1253.3,590.4 1254.7,588.9 1256.1,590.9 1257.5,591.8 1258.9,590.6 1260.3,588.7 1261.7,590.9 1263.1,591.5 1264.5,591.2 1265.9,589 1267.3,591.4 1268.7,590.3 1270.1,590.6 1271.5,588.8 1272.9,589.3 1274.3,590.5 1275.7,589.2 1277.1,591.4 1278.5,592.1 1279.9,587.7 1281.3,592.1 1282.7,590.3 1284.1,591.1 1285.5,590.1 1286.9,592.4 1288.3,592.4 1289.7,589.2 1291.1,589.9 1292.5,592.5 1293.9,589.6 1295.3,590.9 1296.7,589.8 1298.1,591.8 1299.5,591.5 1300.9,592.1 1302.3,592.1 1303.7,592.1 1305.1,590.8 1306.5,589.3 1307.9,590.9 1309.3,590.1 1310.7,591.6 1312.1,590.7 1313.5,590.6 1314.9,589.8 1316.3,591 1317.7,590.4 1319.1,590.6 1320.5,591.9 1321.9,589.7 1323.3,590.4 1324.7,590.4 1326.1,591.9 1327.5,589.7 1328.9,590.4 1330.3,590.6 1331.7,592.4 1333.1,592.3 1334.5,590.5 1335.9,591.8 1337.3,593.3 1338.7,591.7 1340.1,589.9 1341.5,590.7 1342.9,591.5 1344.3,592.3 1345.7,591.7 1347.1,591.2 1348.5,591.2 1349.9,592.4 1351.3,591 1352.7,590.5 1354.1,591.2 1355.5,591.3 1356.9,589.8 1358.3,591.4 1359.7,591.5 1361.1,591.5 1362.5,592 1363.9,589.8 1365.3,590.3 1366.7,589.4 1368.1,590.2 1369.5,592.8 1370.9,589.8 1372.3,590.1 1373.7,591.4 1375.1,591.3 1376.5,591.7 1377.9,591 1379.3,589.2 1380.7,590.3 1382.1,591.2 1383.5,590.6 1384.9,590.5 1386.3,590.5 1387.7,591.3 1389.1,591.8 1390.5,591.2 1391.9,591 1393.3,591.1 1394.7,590.6 1396.1,591 1397.5,590.6 1398.9,590.9 1400.3,591.3 1401.7,590.4 1403.1,593.6 1404.5,592 1405.9,591.9 1407.3,590.1 1408.7,591.8 1410.1,590.8 1411.5,590.8 1412.9,589.6 1414.3,589.3 1415.7,590.3 1417.1,591.2 1418.5,590.9 1419.9,590.2 1421.3,591.3 1422.7,591.3 1424.1,591.1 1425.5,590.6 1426.9,591.4 1428.3,589.8 1429.7,591.2 1431.1,591 1432.5,590 1433.9,589.1 1435.3,589.4 1436.7,591.6 1438.1,590.4 1439.5,590.6 1440.9,590.5 1442.3,591.6 1443.7,589.7 1445.1,589.6 1446.5,589.8 1447.9,589.2 1449.3,591.7 1450.7,590.6 1452.1,592 1453.5,590.3 1454.9,589.8 1456.3,592.7 1457.7,590.6 1459.1,591.5 1460.5,589.9 1461.9,589.7 1463.3,591.2 1464.7,590.4 1466.1,592.1 1467.5,591.9 1468.9,591 1470.3,591.6 1471.7,592.3 1473.1,589.8 1474.5,591.1 1475.9,591.1 1477.3,590.1 1478.7,590.5 1480.1,590.6 1481.5,589.5 1482.9,591.3 1484.3,589 1485.7,590.6 1487.1,590.7 1488.5,593.5 1489.9,590.1 1491.3,590.1 1492.7,590.5 1494.1,590 1495.5,590.6 1496.9,591.2 1498.3,591 1499.7,590.7 1501.1,589.5 1502.5,591.3 1503.9,590.6 1505.3,588.3 1506.7,591.7 1508.1,589.9 1509.5,589.7 1510.9,590 1512.3,589.5 1513.7,590.1 1515.1,590 1516.5,590.3 1517.9,589.4 1519.3,589 1520.7,589 1522.1,588.8 1523.5,589.9 1524.9,589.6 1526.3,588.9 1527.7,590.3 1529.1,590.7 1530.5,589.9 1531.9,590.8 1533.3,589.5 1534.7,589.2 1536.1,588.5 1537.5,589.8 1538.9,590.2 1540.3,589.4 1541.7,588.9 1543.1,590.2 1544.5,587.9 1545.9,588.8 1547.3,589.2 1548.7,588.8 1549.4,590"/><polyline fill="none" stroke="#008000" stroke-width="6" stroke-linejoin="round"  points="1550.8,588.9 1552.2,587.6 1553.6,588.9 1555,589.6"/><polyline fill="none" stroke="#008000" stroke-width="6" stroke-linejoin="round"  points="1558.5,588 1559.9,588.8"/><polyline fill="none" stroke="#008000" stroke-width="6" stroke-linejoin="round"  points="1561.3,587.7 1562.7,589.3"/><polyline fill="none" stroke="#008000" stroke-width="6" stroke-linejoin="round"  points="1565.5,587.8 1566.9,587.7"/><polyline fill="none" stroke="#008000" stroke-width="6" stroke-linejoin="round"  points="1723.7,588 1725.1,589.3"/><polyline fill="none" stroke="#008000" stroke-width="6" stroke-linejoin="round"  points="1726.5,588.2 1727.9,588.3 1729.3,589 1730.7,590.4 1732.1,589 1733.5,588.4 1734.9,590.2 1736.3,589.9 1737.7,590.3 1739.1,589.6 1740.5,590.2 1741.9,588.2 1743.3,589.3 1744.7,588.7 1746.1,591.2 1747.5,591.3 1748.9,590.6 1750.3,589.8 1751.7,589.9 1753.1,591 1754.5,590.5 1755.9,590.4 1757.3,591.6 1758.7,590.7 1759.4,592.3"/><polyline fill="none" stroke="#008000" stroke-width="6" stroke-linejoin="round"  points="1760.8,589.6 1762.2,590.7 1763.6,591.4 1765,590 1766.4,591.2 1767.8,589.8 1769.2,590.5 1770.6,591.2 1772,590.2 1773.4,590.1 1774.8,591.5 1776.2,591.3 1777.6,591.3 1779,589.6 1780.4,590.3 1781.8,592.1 1783.2,594.1 1784.6,590.7 1786,592.8 1787.4,590 1788.8,590.6 1790.2,592.4 1791.6,591.1 1793,591.4 1794.4,590.7 1795.8,590.6 1797.2,593.4 1798.6,592.6 1800,591.7 1801.4,590.3 1802.8,591.1 1804.2,590.3 1805.6,592.6 1807,590.9 1808.4,593.1 1809.8,592.1 1811.2,590.8 1812.6,589.9 1814,591.8 1815.4,592.3 1816.8,592 1818.2,592.4 1819.6,592.2 1821,592.9 1822.4,593.4 1823.8,591.5 1825.2,592.6 1826.6,593.2 1828,592.3 1829.4,591.7 1830.8,593 1832.2,591.8 1833.6,591.6 1835,590 1836.4,591.9 1837.8,592.6 1839.2,594.6 1840.6,592.4 1842,592.9 1843.4,591.9 1844.8,593.6 1846.2,591.5 1847.6,592.7 1849,594.7 1850.4,592.2 1851.8,592 1853.2,592.6 1854.6,592.2 1856,592.8 1857.4,593.2 1858.8,593 1860.2,592.2 1861.6,590.5 1863,595.6 1864.4,594 1865.8,592.8 1867.2,594 1868.6,591.2 1870,593.2 1871.4,592.5 1872.8,592.9 1874.2,592.6 1875.6,593.9 1877,593.7 1878.4,592.3 1879.8,592.1 1881.2,592.2 1882.6,593.3 1884,593.8 1885.4,591.8 1886.8,593.4 1888.2,592.2 1889.6,591.5 1891,592.7 1892.4,590.1 1893.8,592.9 1895.2,593.1 1896.6,591.3 1898,593.7 1899.4,593.5 1900.8,592.7 1902.2,591.1 1903.6,591.7 1905,592.1 1906.4,593 1907.8,594 1909.2,592.2 1910.6,592.3 1912,591.7 1913.4,593.2 1914.8,594.5 1916.2,591.9 1917.6,591.2 1919,593 1920.4,592.5 1921.8,592 1923.2,595.7 1924.6,593.7 1926,592.2 1927.4,592.2 1928.8,592.5 1930.2,592.5 1931.6,591.3 1933,593.9 1934.4,591.9 1935.8,592.9 1937.2,590.3 1938.6,591.2 1940,592.9 1941.4,590.9 1942.8,591.8 1944.2,591 1945.6,592.9 1947,591.8 1948.4,594.5 1949.8,592.6 1951.2,591 1952.6,593.4 1954,591.6 1955.4,591.2 1956.8,591 1958.2,591.1 1959.6,591.9 1961,591.7 1962.4,591.6 1963.8,591.7 1965.2,592.1 1966.6,592.2 1968,589.3 1969.4,590.3 1970.8,590.5 1972.2,591.6 1973.6,591.1 1975,588.5 1976.4,589 1977.8,590 1979.2,588.6 1980.6,588.5 1982,589.9 1982.7,590.4"/><polyline fill="none" stroke="#008000" stroke-width="6" stroke-linejoin="round"  points="1984.1,588.3 1985.5,589.5 1986.2,588.8"/><polyline fill="none" stroke="#008000" stroke-width="6" stroke-linejoin="round"  points="2054.8,588.2 2056.2,589.1 2057.6,590.8 2059,589.1 2059.7,590.7"/><polyline fill="none" stroke="#008000" stroke-width="6" stroke-linejoin="round"  points="2061.1,590.3 2062.5,589.1 2063.9,590.3 2065.3,590.6 2066.7,591.9 2068.1,591.4 2069.5,590.4 2070.9,591.6 2072.3,592 2073.7,594 2075.1,591.4 2076.5,590.1 2077.9,589.6 2079.3,589.8 2080.7,592.1 2082.1,593.2 2083.5,592 2084.9,591.8 2086.3,593.5 2087.7,591.9 2089.1,592.8 2090.5,592.6 2091.9,593.7 2093.3,591 2094.7,593.1 2096.1,593.3 2097.5,593 2098.9,592.7 2100.3,590.9 2101.7,591.4 2103.1,592.6 2104.5,592.4 2105.9,591.4 2107.3,591.7 2108.7,592.1 2110.1,591.5 2111.5,591.5 2112.9,593.6 2114.3,591.2 2115.7,589.7 2117.1,589.8"/><polyline fill="none" stroke="#008000" stroke-width="6" stroke-linejoin="round"  points="2118.5,590.4 2119.9,589.2 2121.3,589 2122.7,588.3 2123.4,588.6"/><polyline fill="none" stroke="#008000" stroke-width="6" stroke-linejoin="round"  points="2180.1,590 2181.5,589.1 2182.9,591.4 2184.3,590 2185.7,592.4 2187.1,590.9 2188.5,592.2 2189.9,591.3 2191.3,591.1 2192.7,590.7 2194.1,593 2195.5,590.6 2196.9,589.1 2198.3,593.6 2199.7,593.5 2201.1,594.2 2202.5,592.6 2203.9,593.8 2205.3,592.9 2206.7,593.4 2208.1,594.8 2209.5,592.9 2210.9,593.7 2212.3,592.3 2213.7,594.8 2215.1,592 2216.5,592.2 2217.9,592.9 2219.3,591.7 2220.7,594.1 2222.1,592.5 2223.5,593.8 2224.9,592.4 2226.3,594.4 2227.7,593.1 2229.1,594.3 2230.5,593.9 2231.9,592.5 2232.6,593.8"/>
<polyline fill="none" stroke="#ff0000" stroke-width="5" stroke-linejoin="round"  points="337,969.5 337.7,967.4 338.4,969.3 339.1,972.1 339.8,968.3 340.5,969.2 341.2,967.2 341.9,969 342.6,968 343.3,969.3 344,968.5 344.7,967.4 345.4,969.7 346.1,968.4 346.8,967.5 347.5,968.6 348.2,967.6 348.9,969 349.6,968.5 350.3,968.2 351,969.2 351.7,967.3 352.4,969.5 353.1,966.5 353.8,970.2 354.5,968.8 355.2,968.3 355.9,967.8 356.6,969.1 357.3,968.4 358,968.4 358.7,969.6 359.4,968.1 360.1,968.3 360.8,969 361.5,969.7 362.2,968.4 362.9,968.7 363.6,968.6 364.3,969.3 365,970.1 365.7,967.6 366.4,968.4 367.1,968.5 367.8,969.2 368.5,970.1 369.2,968.5 369.9,968.8 370.6,969.7 371.3,967.3 372,967.8 372.7,968.1 373.4,968.6 374.1,968.8 374.8,968 375.5,970.3 376.2,967.8 376.9,968.4 377.6,969.7 378.3,969.3 379,968.5 379.7,968.9 380.4,969.4 381.1,968.5 381.8,969.2 382.5,967.6 383.2,968.6 383.9,966.9 384.6,967.6 385.3,967.4 386,969.8 386.7,968.1 387.4,968.8 388.1,967.6 388.8,968.3 389.5,968.3 390.2,967.7 390.9,969.4 391.6,966.9 392.3,969.2 393,971.2 393.7,967.7 394.4,968.6 395.1,966.9 395.8,968.5 396.5,966.8 397.2,969.2 397.9,968 398.6,966.6 399.3,967.2 400,966.9 400.7,968.2 401.4,969.4 402.1,968.1 402.8,967.3 403.5,967.6 404.2,968.6 404.9,966 405.6,969.1 406.3,968.9 407,966 407.7,969.7 408.4,966.8 409.1,968.2 409.8,969.7 410.5,966.8 411.2,966.6 411.9,967.3 412.6,967.3 413.3,968.3 414,967.9 414.7,967.9 415.4,967.9 416.1,968.2 416.8,967.6 417.5,968.8 418.2,968.4 418.9,967.4 419.6,970.3 420.3,967.1 421,969.2 421.7,967.7 422.4,968.8 423.1,969 423.8,969.3 424.5,969.9 425.2,967.6 425.9,971.4 426.6,968.9 427.3,967.6 428,967.1 428.7,970.8 429.4,970.1 430.1,968.4 430.8,969.2 431.5,969.8 432.2,968.6 432.9,968 433.6,968.4 434.3,969.3 435,968.5 435.7,967.2 436.4,969.2 437.1,966.7 437.8,967.7 438.5,969.7 439.2,968.7 439.9,968.7 440.6,968.6 441.3,969.5 442,968.4 442.7,966.5 443.4,968.7 444.1,965.3 444.8,966.4 445.5,970.1 446.2,969.5 446.9,968 447.6,968.4 448.3,968.5 449,969.5 449.7,967.7 450.4,967.6 451.1,967.8 451.8,968.6 452.5,968.7 453.2,968 453.9,969.2 454.6,967.4 455.3,968.4 456,967.7 456.7,967.4 457.4,969.7 458.1,968.1 458.8,967.4 459.5,968.5 460.2,967.4 460.9,969.1 461.6,969.3 462.3,969.5 463,967.4 463.7,968.3 464.4,970.3 465.1,968.2 465.8,969.7 466.5,970 467.2,967 467.9,969.7 468.6,969.2 469.3,969.3 470,970.2 470.7,968.9 471.4,968.5 472.1,969.1 472.8,968.1 473.5,968.9 474.2,966.4 474.9,970.2 475.6,967.9 476.3,969 477,968.8 477.7,968.5 478.4,968.6 479.1,968.5 479.8,966.8 480.5,967.9 481.2,969.7 481.9,967.4 482.6,967.4 483.3,970.6 484,969.7 484.7,970 485.4,968.4 486.1,968.7 486.8,969.2 487.5,969 488.2,968.3 488.9,966.9 489.6,967.7 490.3,966.9 491,970 491.7,968 492.4,968.2 493.1,968.7 493.8,968.4 494.5,969 495.2,967.8 495.9,966.9 496.6,970.2 497.3,967.7 498,967.9 498.7,967.6 499.4,967.8 500.1,968.4 500.8,969.2 501.5,967.3 502.2,968.7 502.9,967.7 503.6,969.6 504.3,967.1 505,968.5 505.7,969.1 506.4,967 507.1,968.5 507.8,968.5 508.5,967.6 509.2,968.2 509.9,969.4 510.6,968.6 511.3,968 512,968.2 512.7,968.8 513.4,969.7 514.1,969.2 514.8,969.1 515.5,969.9 516.2,966.8 516.9,966.9 517.6,966.1 518.3,969.2 519,966 519.7,968.3 520.4,969.1 521.1,966.9 521.8,967.7 522.5,968.1 523.2,969.1 523.9,966.8 524.6,968.7 525.3,969 526,968.5 526.7,968.5 527.4,969.6 528.1,968.6 528.8,968.3 529.5,968 530.2,969 530.9,968 531.6,969 532.3,968.4 533,969.5 533.7,967.5 534.4,968.4 535.1,968.7 535.8,968.7 536.5,969.5 537.2,968.7 537.9,969.2 538.6,970.3 539.3,969.2 540,967.3 540.7,966.9 541.4,969 542.1,967.9 542.8,968.6 543.5,968.1 544.2,969.6 544.9,969.5 545.6,967.2 546.3,968.6 547,968 547.7,967 548.4,969 549.1,968.2 549.8,968.8 550.5,970.8 551.2,969.6 551.9,969.4 552.6,967.9 553.3,967.1 554,969.6 554.7,968 555.4,968.4 556.1,967.9 556.8,968.4 557.5,970.7 558.2,968 558.9,968 559.6,968.5 560.3,968.6 561,967.1 561.7,966.5 562.4,967.7 563.1,968.1 563.8,967.5 564.5,967.3 565.2,967.3 565.9,967.9 566.6,968.2 567.3,966.6 568,967.7 568.7,968.6 569.4,968.1 570.1,966.9 570.8,967.9 571.5,968.2 572.2,969 572.9,966.6 573.6,968.9 574.3,967.8 575,968.5 575.7,968.9 576.4,967.4 577.1,967.4 577.8,968.1 578.5,969 579.2,967.7 579.9,966.8 580.6,967.5 581.3,968.6 582,969.4 582.7,967.7 583.4,967.9 584.1,968.1 584.8,968.1 585.5,967.3 586.2,967.8 586.9,968.4 587.6,968.3 588.3,968.2 589,967.2 589.7,967.7 590.4,967.5 591.1,969.3 591.8,969.7 592.5,968.6 593.2,969.8 593.9,967.9 594.6,967.9 595.3,966.9 596,968.4 596.7,967.8 597.4,968.3 598.1,968.7 598.8,968 599.5,967.1 600.2,968.2 600.9,968.1 601.6,968.2 602.3,968.9 603,968 603.7,967.9 604.4,969.9 605.1,969.3 605.8,968.1 606.5,967.3 607.2,967.8 607.9,968.6 608.6,969 609.3,970.6 610,968 610.7,968.4 611.4,967.9 612.1,968.3 612.8,967.8 613.5,967.2 614.2,969.2 614.9,968.3 615.6,969.5 616.3,967.7 617,968.5 617.7,968.9 618.4,966.4 619.1,966.9 619.8,969 620.5,968.3 621.2,966.4 621.9,967.5 622.6,967.2 623.3,967.7 624,969.7 624.7,967.6 625.4,970.2 626.1,968 626.8,967.5 627.5,969.8 628.2,969.2 628.9,969.6 629.6,970.1 630.3,969.3 631,969.4 631.7,966.5 632.4,967.4 633.1,968.7 633.8,968.4 634.5,968.9 635.2,967.7 635.9,969.3 636.6,970.2 637.3,968.8 638,969 638.7,968.7 639.4,969.1 640.1,968.4 640.8,967.7 641.5,968.4 642.2,968.3 642.9,966.7 643.6,968.4 644.3,968.2 645,968.4 645.7,967.7 646.4,968.7 647.1,968.8 647.8,967.5 648.5,968.5 649.2,969 649.9,968.9 650.6,967.3 651.3,967.2 652,968.2 652.7,967.1 653.4,970.7 654.1,967.4 654.8,967.4 655.5,968.8 656.2,967.7 656.9,965.8 657.6,968 658.3,967.2 659,967.6 659.7,966.5 660.4,967.2 661.1,967.9 661.8,968 662.5,967 663.2,967.4 663.9,967.2 664.6,968.2 665.3,967.9 666,966.8 666.7,968.7 667.4,967.4 668.1,968.4 668.8,967.1 669.5,968.3 670.2,967.9 670.9,968.1 671.6,968.5 672.3,968.5 673,968.2 673.7,968.2 674.4,966.8 675.1,968 675.8,965.9 676.5,965.8 677.2,967.7 677.9,967.8 678.6,969.5 679.3,968.7 680,969.1 680.7,967.7 681.4,968.4 682.1,969.1 682.8,968.5 683.5,968.3 684.2,968.1 684.9,967.1 685.6,967.1 686.3,966.6 687,968.4 687.7,967.7 688.4,967.3 689.1,968.3 689.8,967.4 690.5,969 691.2,969.9 691.9,968.4 692.6,967.3 693.3,966.5 694,970 694.7,968.4 695.4,966.8 696.1,969 696.8,966.3 697.5,967.5 698.2,967.7 698.9,967.6 699.6,966.8 700.3,970.3 701,967.6 701.7,968.3 702.4,968 703.1,966.4 703.8,967.4 704.5,968.1 705.2,968.9 705.9,967.6 706.6,968.3 707.3,967.6 708,968.5 708.7,965.5 709.4,968.5 710.1,967.3 710.8,967.3 711.5,965.1 712.2,966.8 712.9,968.5 713.6,970.2 714.3,967.2 715,967.2 715.7,968.4 716.4,968.2 717.1,967.3 717.8,967.7 718.5,967.5 719.2,968.5 719.9,968.6 720.6,969.6 721.3,968.8 722,968.5 722.7,968 723.4,968.8 724.1,966.9 724.8,970 725.5,968.1 726.2,969.2 726.9,967 727.6,968.8 728.3,968.2 729,967.6 729.7,967.1 730.4,966.9 731.1,969.6 731.8,969 732.5,967.9 733.2,968 733.9,967 734.6,965.9 735.3,966 736,967.1 736.7,967.6 737.4,966.6 738.1,968.5 738.8,968.2 739.5,967.9 740.2,966 740.9,967.5 741.6,967.7 742.3,966.4 743,965.5 743.7,969.6 744.4,968.3 745.1,967.3 745.8,969.2 746.5,968.8 747.2,968.1 747.9,967.9 748.6,968.4 749.3,969.1 750,967.7 750.7,967.4 751.4,968.2 752.1,964.8 752.8,967.7 753.5,967.2 754.2,967.5 754.9,967.4 755.6,967.9 756.3,967.6 757,967.6 757.7,967.4 758.4,968 759.1,967 759.8,968.5 760.5,965.8 761.2,967.7 761.9,967.9 762.6,966.2 763.3,967 764,968.8 764.7,967.3 765.4,966.5 766.1,964.4 766.8,967.7 767.5,967.5 768.2,968 768.9,969.4 769.6,967.3 770.3,967.5 771,966.6 771.7,967.2 772.4,967.3 773.1,968 773.8,967.8 774.5,966.5 775.2,966.8 775.9,968.6 776.6,966.3 777.3,968 778,968.8 778.7,967.8 779.4,967.4 780.1,968.5 780.8,967.5 781.5,967.1 782.2,966.9 782.9,968.2 783.6,967.8 784.3,968.6 785,966.7 785.7,966.7 786.4,966.6 787.1,967.3 787.8,966.3 788.5,967.9 789.2,967.3 789.9,965.9 790.6,963.9 791.3,965.1 792,968.3 792.7,966.8 793.4,967 794.1,966.4 794.8,967.2 795.5,964.8 796.2,964.7 796.9,965.1 797.6,966.8 798.3,967.4 799,967.1 799.7,966.5 800.4,965.3 801.1,967.4 801.8,966.3 802.5,966.5 803.2,966.4 803.9,966 804.6,965.7 805.3,965.8 806,965.1 806.7,966.6 807.4,966.1 808.1,967.3 808.8,964.4 809.5,967.4 810.2,966.1 810.9,966 811.6,965.3 812.3,965.3 813,964.6 813.7,966.9 814.4,965.8 815.1,966.7 815.8,966.7 816.5,965.4 817.2,965.6 817.9,965.4 818.6,966.8 819.3,965.8 820,965.8 820.7,966.3 821.4,965.5 822.1,967.5 822.8,964.5 823.5,966.7 824.2,966.7 824.9,964.1 825.6,966.1 826.3,965.5 827,966 827.7,963.9 828.4,965.2 829.1,964 829.8,964.5 830.5,966.2 831.2,964.6 831.9,962.4 832.6,963.2 833.3,963.4 834,965.5 834.7,963.7 835.4,962.7 836.1,965.3 836.8,964.4 837.5,964.4 838.2,963.1 838.9,965.3 839.6,963.6 840.3,961.7 841,962.4 841.7,962.6 842.4,963.1 843.1,964 843.8,962.3 844.5,962.3 845.2,965 845.9,962.8 846.6,962 847.3,962.4 848,961 848.7,962.6 849.4,962.9 850.1,961.2 850.8,962.6 851.5,961.2 852.2,961.6 852.9,960.3 853.6,960.1 854.3,959.2 855,960.7 855.7,959.9 856.4,959.7 857.1,958.6 857.8,958.3 858.5,958.6 859.2,959.4 859.9,959 860.6,957.7 861.3,958.4 862,959.5 862.7,957.5 863.4,959 864.1,957.1 864.8,957.6 865.5,955.3 866.2,956.5 866.9,953.7 867.6,954.7 868.3,953.6 869,951.3 869.7,951.4 870.4,953.3 871.1,952 871.8,952.1 872.5,950.3 873.2,946.4 873.9,948.7 874.6,947 875.3,946.2 876,945.2 876.7,943.8 877.4,942.5 878.1,943.5 878.8,941.3 879.5,938.8 880.2,937.5 880.9,937.2 881.6,934.8 882.3,932.7 883,929.1 883.7,927.5 884.4,924.2 885.1,920.6 885.8,920.2 886.5,915.5 887.2,911.5 887.9,906.5 888.6,903.3 889.3,899.1 890,891.4 890.7,884.8 891.4,874.7 892.1,867.3 892.8,857.3 893.5,847.4 894.2,833.5 894.9,818.6 895.6,804 896.3,786.7 897,770 897.7,749.1 898.4,727.3 899.1,704.5 899.8,681.9 900.5,657.3 901.2,634.4 901.9,612.7 902.6,597.9 903.3,583.1 904,573.5 904.7,568.1 905.4,569.7 906.1,571.7 906.8,582.8 907.5,593.2 908.2,609.3 908.9,626.7 909.6,648.1 910.3,669 911,691.6 911.7,712.5 912.4,733 913.1,755.4 913.8,775.3 914.5,792.5 915.2,808 915.9,823.3 916.6,834.7 917.3,848.1 918,860.4 918.7,869.4 919.4,876.7 920.1,886.1 920.8,891.9 921.5,898.9 922.2,902.1 922.9,907.8 923.6,913 924.3,916.8 925,920.5 925.7,923.1 926.4,925.7 927.1,928.9 927.8,931.6 928.5,931.4 929.2,934.5 929.9,936.4 930.6,938.4 931.3,940.8 932,939.9 932.7,943 933.4,942 934.1,944.1 934.8,945.4 935.5,946.6 936.2,947.2 936.9,948.1 937.6,949.1 938.3,950 939,949.1 939.7,950.2 940.4,951.8 941.1,953.4 941.8,954.5 942.5,956.8 943.2,954.6 943.9,954.2 944.6,955.6 945.3,956.6 946,956.4 946.7,955.6 947.4,957 948.1,957.4 948.8,956.4 949.5,956.9 950.2,959.6 950.9,956.5 951.6,959.2 952.3,959 953,960.9 953.7,960.4 954.4,959.2 955.1,961.5 955.8,959.9 956.5,962.7 957.2,962.5 957.9,961 958.6,962 959.3,961.6 960,960.7 960.7,962.9 961.4,962.4 962.1,963 962.8,963.3 963.5,963.8 964.2,963.6 964.9,962.6 965.6,962.9 966.3,963.4 967,963 967.7,963 968.4,965.2 969.1,963.9 969.8,965.4 970.5,962.9 971.2,963.7 971.9,963.4 972.6,963.5 973.3,963.7 974,964 974.7,963.8 975.4,966.1 976.1,965 976.8,963.7 977.5,964 978.2,965.3 978.9,965.2 979.6,964.1 980.3,965.7 981,963.4 981.7,964.5 982.4,966.7 983.1,962.5 983.8,964.9 984.5,966.1 985.2,965.1 985.9,964.5 986.6,964.5 987.3,963.3 988,964.1 988.7,965.5 989.4,965 990.1,965.6 990.8,965.5 991.5,966 992.2,964.1 992.9,965.4 993.6,965.5 994.3,965.5 995,965 995.7,963.7 996.4,966.6 997.1,966.8 997.8,968.4 998.5,966.8 999.2,967.7 999.9,966.7 1000.6,965.8 1001.3,966.7 1002,965 1002.7,966.5 1003.4,966.1 1004.1,965.2 1004.8,967.5 1005.5,967.4 1006.2,966.8 1006.9,967.2 1007.6,968 1008.3,966.2 1009,965 1009.7,965.5 1010.4,967.1 1011.1,966.6 1011.8,964.9 1012.5,967.7 1013.2,966.6 1013.9,968 1014.6,967.5 1015.3,965.9 1016,966.4 1016.7,965.6 1017.4,965.4 1018.1,965.9 1018.8,966.7 1019.5,967.5 1020.2,965.2 1020.9,966.7 1021.6,966 1022.3,965.7 1023,967 1023.7,965.4 1024.4,967 1025.1,965.2 1025.8,964.5 1026.5,966.1 1027.2,963.8 1027.9,963.9 1028.6,964.7 1029.3,964.8 1030,964.3 1030.7,962.5 1031.4,962.9 1032.1,964.6 1032.8,964.4 1033.5,962.6 1034.2,963.7 1034.9,963.4 1035.6,964 1036.3,962 1037,963.9 1037.7,961.9 1038.4,963.4 1039.1,962.6 1039.8,960.4 1040.5,960.8 1041.2,961.1 1041.9,961.6 1042.6,958.9 1043.3,959.5 1044,960.3 1044.7,959.9 1045.4,958.1 1046.1,957.9 1046.8,959 1047.5,957.3 1048.2,958.2 1048.9,958.7 1049.6,957.5 1050.3,954.6 1051,958.2 1051.7,958 1052.4,958 1053.1,957.3 1053.8,954.6 1054.5,957.5 1055.2,956.3 1055.9,956.8 1056.6,955.6 1057.3,955.5 1058,955.4 1058.7,957.2 1059.4,955.9 1060.1,955.4 1060.8,954.3 1061.5,956.1 1062.2,955.7 1062.9,955.9 1063.6,956.9 1064.3,956.7 1065,956.1 1065.7,956.5 1066.4,956.6 1067.1,957.4 1067.8,957.6 1068.5,957.2 1069.2,956.5 1069.9,958.4 1070.6,958.7 1071.3,957 1072,958.7 1072.7,958.2 1073.4,956.7 1074.1,959.2 1074.8,960.5 1075.5,959.1 1076.2,959.4 1076.9,961.4 1077.6,959.6 1078.3,960.1 1079,961 1079.7,962.2 1080.4,962.5 1081.1,961.7 1081.8,962.2 1082.5,962.9 1083.2,962.7 1083.9,962.5 1084.6,962.5 1085.3,964.5 1086,963.9 1086.7,967.2 1087.4,965.2 1088.1,964 1088.8,965 1089.5,965.5 1090.2,965.7 1090.9,966 1091.6,966.2 1092.3,965.7 1093,966.7 1093.7,968.3 1094.4,965.9 1095.1,966 1095.8,967.3 1096.5,967.9 1097.2,967.6 1097.9,968.1 1098.6,966.9 1099.3,966.8 1100,967.8 1100.7,967.9 1101.4,968.9 1102.1,968.9 1102.8,965.6 1103.5,968.2 1104.2,966.8 1104.9,965.4 1105.6,968 1106.3,967.5 1107,967.3 1107.7,966.4 1108.4,966.7 1109.1,967.5 1109.8,966.3 1110.5,967.7 1111.2,967.9 1111.9,967.7 1112.6,968.2 1113.3,967.8 1114,966.7 1114.7,966.9 1115.4,968.1 1116.1,968.9 1116.8,968.1 1117.5,967.5 1118.2,968.1 1118.9,966.2 1119.6,967 1120.3,967.6 1121,967.9 1121.7,967.7 1122.4,967.7 1123.1,966.8 1123.8,967.5 1124.5,968.3 1125.2,966.2 1125.9,966.9 1126.6,967.7 1127.3,969.5 1128,968.7 1128.7,969.6 1129.4,969.4 1130.1,967.6 1130.8,968 1131.5,966.9 1132.2,969.3 1132.9,968.8 1133.6,968.7 1134.3,968.8 1135,968.6 1135.7,968.3 1136.4,968.4 1137.1,969.3 1137.8,967.3 1138.5,967.1 1139.2,968.1 1139.9,969.3 1140.6,968.4 1141.3,968 1142,969 1142.7,968.3 1143.4,966.3 1144.1,967.2 1144.8,966.1 1145.5,968 1146.2,967.7 1146.9,968.6 1147.6,970.3 1148.3,967.6 1149,968.2 1149.7,967.8 1150.4,965.4 1151.1,967.5 1151.8,967.5 1152.5,968.5 1153.2,967.4 1153.9,966.9 1154.6,968.8 1155.3,968.2 1156,967.4 1156.7,967.5 1157.4,968 1158.1,969.1 1158.8,969.7 1159.5,967 1160.2,969.4 1160.9,968.3 1161.6,968.6 1162.3,969.3 1163,967.3 1163.7,969.1 1164.4,967 1165.1,967.8 1165.8,967.5 1166.5,970 1167.2,969.9 1167.9,969.1 1168.6,968.8 1169.3,967.8 1170,970.1 1170.7,969.7 1171.4,969.2 1172.1,968.2 1172.8,968 1173.5,968.3 1174.2,969.7 1174.9,967.4 1175.6,968.5 1176.3,970 1177,969.3 1177.7,970.1 1178.4,968.8 1179.1,968.8 1179.8,969.8 1180.5,969 1181.2,968.7 1181.9,967.9 1182.6,966.9 1183.3,969.9 1184,968 1184.7,967.7 1185.4,969.3 1186.1,967.6 1186.8,967.1 1187.5,967.9 1188.2,968.4 1188.9,968.7 1189.6,969 1190.3,969.4 1191,968.3 1191.7,968.8 1192.4,968.4 1193.1,967.8 1193.8,968.9 1194.5,968.8 1195.2,970.3 1195.9,969.1 1196.6,967.8 1197.3,969.1 1198,968.3 1198.7,970.1 1199.4,966.8 1200.1,967.9 1200.8,967.9 1201.5,968.6 1202.2,968.4 1202.9,967 1203.6,966.7 1204.3,968.7 1205,970 1205.7,970 1206.4,968.1 1207.1,969 1207.8,967.7 1208.5,967.1 1209.2,969.8 1209.9,969.2 1210.6,968.2 1211.3,968.2 1212,969.5 1212.7,968.9 1213.4,968.2 1214.1,968.9 1214.8,968.6 1215.5,968.2 1216.2,967.9 1216.9,969.5 1217.6,968.1 1218.3,967.4 1219,970.4 1219.7,969.8 1220.4,969.1 1221.1,968.5 1221.8,968.8 1222.5,967.2 1223.2,968.6 1223.9,968.9 1224.6,968.4 1225.3,969.1 1226,967.9 1226.7,968.8 1227.4,967.1 1228.1,968.6 1228.8,968 1229.5,967.3 1230.2,968.2 1230.9,968.7 1231.6,968.1 1232.3,969.5 1233,968 1233.7,969.6 1234.4,969.4 1235.1,968.1 1235.8,970.1 1236.5,967.3 1237.2,969.2 1237.9,968.7 1238.6,969.4 1239.3,967.1 1240,967.5 1240.7,967.8 1241.4,968.7 1242.1,968.7 1242.8,968.7 1243.5,968.4 1244.2,968 1244.9,967.3 1245.6,968.2 1246.3,969.2 1247,969.7 1247.7,968.2 1248.4,969.7 1249.1,967.3 1249.8,969.4 1250.5,967.6 1251.2,968.9 1251.9,967.7 1252.6,967.7 1253.3,968.2 1254,970.1 1254.7,968 1255.4,969.3 1256.1,968.8 1256.8,969 1257.5,969 1258.2,969.3 1258.9,967.5 1259.6,968.7 1260.3,969 1261,968.1 1261.7,969.1 1262.4,967.7 1263.1,969.4 1263.8,968 1264.5,968.4 1265.2,969.5 1265.9,969.8 1266.6,968.2 1267.3,968.1 1268,969.7 1268.7,965.9 1269.4,970 1270.1,970 1270.8,967.7 1271.5,969.9 1272.2,969.1 1272.9,969.2 1273.6,966.5 1274.3,968.3 1275,968.6 1275.7,968.4 1276.4,968.4 1277.1,968.5 1277.8,966 1278.5,968.6 1279.2,968.1 1279.9,968.7 1280.6,968.3 1281.3,968.8 1282,969.1 1282.7,970.5 1283.4,968 1284.1,970.4 1284.8,968.5 1285.5,967.9 1286.2,967.4 1286.9,969.6 1287.6,967.3 1288.3,969.7 1289,969.1 1289.7,968.2 1290.4,968.1 1291.1,969.3 1291.8,968.9 1292.5,969.5 1293.2,968.8 1293.9,968.3 1294.6,969.3 1295.3,967.6 1296,969.6 1296.7,968.9 1297.4,967.7 1298.1,967.8 1298.8,968.5 1299.5,967 1300.2,970.2 1300.9,969.8 1301.6,967.7 1302.3,968.7 1303,970.5 1303.7,969.2 1304.4,967.8 1305.1,966.7 1305.8,967.2 1306.5,970 1307.2,969.1 1307.9,967.6 1308.6,969.5 1309.3,968.5 1310,968.2 1310.7,968.3 1311.4,968.4 1312.1,970.5 1312.8,967.9 1313.5,968.5 1314.2,970.2 1314.9,970.3 1315.6,967.9 1316.3,970.9 1317,969.9 1317.7,967.4 1318.4,970.6 1319.1,967.4 1319.8,969.5 1320.5,967.7 1321.2,967.1 1321.9,969.7 1322.6,969.3 1323.3,968.8 1324,969.1 1324.7,968.8 1325.4,968.6 1326.1,967.8 1326.8,969.5 1327.5,968.9 1328.2,968.6 1328.9,968.3 1329.6,968.6 1330.3,967.4 1331,968.6 1331.7,967.9 1332.4,970.2 1333.1,968 1333.8,968.5 1334.5,968.9 1335.2,969.7 1335.9,969.4 1336.6,968.9 1337.3,971 1338,968.9 1338.7,969.2 1339.4,971.6 1340.1,968 1340.8,969.9 1341.5,969.4 1342.2,967.6 1342.9,968.3 1343.6,969.7 1344.3,967.5 1345,968.7 1345.7,969.8 1346.4,968.7 1347.1,969.2 1347.8,968.3 1348.5,968.3 1349.2,968.3 1349.9,968.6 1350.6,969.6 1351.3,969 1352,970.9 1352.7,969.5 1353.4,969.2 1354.1,971.2 1354.8,968.8 1355.5,968.1 1356.2,969.1 1356.9,967.9 1357.6,969.4 1358.3,970.3 1359,969.6 1359.7,968.5 1360.4,968.8 1361.1,969.4 1361.8,970.1 1362.5,968.5 1363.2,968.5 1363.9,970 1364.6,969.2 1365.3,969.3 1366,969.4 1366.7,968.2 1367.4,968.8 1368.1,970 1368.8,968.8 1369.5,968.8 1370.2,969.3 1370.9,969.3 1371.6,971.5 1372.3,968.2 1373,969.1 1373.7,971 1374.4,969 1375.1,969.3 1375.8,967.5 1376.5,969.9 1377.2,969.8 1377.9,969.8 1378.6,968.8 1379.3,969.3 1380,968.9 1380.7,969.8 1381.4,969 1382.1,969.7 1382.8,967.6 1383.5,968.6 1384.2,966.1 1384.9,968.8 1385.6,969.7 1386.3,968.7 1387,971.3 1387.7,968 1388.4,968.6 1389.1,968 1389.8,968.5 1390.5,968.5 1391.2,967.5 1391.9,968 1392.6,971 1393.3,968.7 1394,969.9 1394.7,967.7 1395.4,968.9 1396.1,969.5 1396.8,968.8 1397.5,968.5 1398.2,968.8 1398.9,969 1399.6,969.8 1400.3,970.2 1401,967.7 1401.7,966.9 1402.4,968.8 1403.1,969 1403.8,969.7 1404.5,970 1405.2,968.3 1405.9,971 1406.6,969.2 1407.3,967.2 1408,969.9 1408.7,969.2 1409.4,969.2 1410.1,967.4 1410.8,968.7 1411.5,969.1 1412.2,968.8 1412.9,969.6 1413.6,970.2 1414.3,970.5 1415,970.2 1415.7,968.8 1416.4,970.7 1417.1,969.2 1417.8,969.8 1418.5,968.7 1419.2,967.6 1419.9,966.7 1420.6,969.1 1421.3,968.3 1422,968.9 1422.7,969.8 1423.4,967.4 1424.1,967.2 1424.8,969.2 1425.5,969.3 1426.2,968.7 1426.9,968.4 1427.6,967.3 1428.3,968.8 1429,968.2 1429.7,969.3 1430.4,969.9 1431.1,968.4 1431.8,969.3 1432.5,969.1 1433.2,969.6 1433.9,970.4 1434.6,969.6 1435.3,969.6 1436,969.7 1436.7,968.5 1437.4,968.9 1438.1,969.2 1438.8,970.1 1439.5,970.2 1440.2,971.1 1440.9,967.8 1441.6,968.8 1442.3,967.2 1443,968.3 1443.7,967.2 1444.4,970 1445.1,969.6 1445.8,967.8 1446.5,969.2 1447.2,969.6 1447.9,970.6 1448.6,969.7 1449.3,969 1450,968.8 1450.7,969.5 1451.4,969.1 1452.1,968.4 1452.8,967.6 1453.5,969.9 1454.2,968.1 1454.9,968.6 1455.6,969.6 1456.3,968.8 1457,969.9 1457.7,967.7 1458.4,969.6 1459.1,967.5 1459.8,967.3 1460.5,967.7 1461.2,968.9 1461.9,968.1 1462.6,967.4 1463.3,970 1464,967.8 1464.7,968.6 1465.4,969 1466.1,968.3 1466.8,969.1 1467.5,969.4 1468.2,968.6 1468.9,969.8 1469.6,968.1 1470.3,967.7 1471,968.9 1471.7,967.7 1472.4,969.1 1473.1,968.6 1473.8,968.2 1474.5,969.3 1475.2,969.2 1475.9,965.7 1476.6,968.3 1477.3,968.8 1478,969.1 1478.7,968.1 1479.4,967.5 1480.1,968.7 1480.8,969.3 1481.5,966.6 1482.2,967.1 1482.9,968 1483.6,966 1484.3,968 1485,969.4 1485.7,967.5 1486.4,968.7 1487.1,967.7 1487.8,968.9 1488.5,969.2 1489.2,969.8 1489.9,968.6 1490.6,969.5 1491.3,968.9 1492,968 1492.7,969.9 1493.4,967.9 1494.1,968.6 1494.8,970.9 1495.5,969.3 1496.2,967.6 1496.9,968.7 1497.6,967.8 1498.3,968.2 1499,966.9 1499.7,968.6 1500.4,966.8 1501.1,968.7 1501.8,968.7 1502.5,969.1 1503.2,970.5 1503.9,966.6 1504.6,967.1 1505.3,967.2 1506,967.7 1506.7,969.1 1507.4,967.9 1508.1,967.6 1508.8,967 1509.5,967.5 1510.2,967.7 1510.9,968 1511.6,966.7 1512.3,968 1513,968.6 1513.7,968.4 1514.4,966.8 1515.1,968.8 1515.8,968.8 1516.5,968.3 1517.2,966.7 1517.9,966.5 1518.6,968 1519.3,966.9 1520,966.5 1520.7,968.7 1521.4,968.7 1522.1,968.5 1522.8,969.1 1523.5,968.7 1524.2,966.6 1524.9,968.9 1525.6,967.8 1526.3,968.1 1527,969.2 1527.7,968.1 1528.4,969.2 1529.1,967.6 1529.8,967.2 1530.5,966.8 1531.2,967.4 1531.9,965.8 1532.6,967.4 1533.3,967.3 1534,966.8 1534.7,965.1 1535.4,965.2 1536.1,968 1536.8,966.3 1537.5,968.6 1538.2,966.5 1538.9,967.5 1539.6,965.7 1540.3,966.4 1541,966.8 1541.7,967.6 1542.4,968.6 1543.1,967.9 1543.8,965.4 1544.5,966.8 1545.2,966.6 1545.9,966.1 1546.6,967.3 1547.3,968.2 1548,966.2 1548.7,967.7 1549.4,967.9 1550.1,965.4 1550.8,968.2 1551.5,968 1552.2,966.6 1552.9,968 1553.6,966.4 1554.3,967.3 1555,966.7 1555.7,965.2 1556.4,966.2 1557.1,965.7 1557.8,965.3 1558.5,964.6 1559.2,964.9 1559.9,964.4 1560.6,966.7 1561.3,963.5 1562,965.5 1562.7,964.7 1563.4,964 1564.1,965.9 1564.8,964.3 1565.5,966.2 1566.2,964.7 1566.9,965.1 1567.6,964.6 1568.3,965.3 1569,965.4 1569.7,964 1570.4,964.3 1571.1,966 1571.8,963.5 1572.5,965.8 1573.2,963.5 1573.9,963.2 1574.6,961.9 1575.3,962.6 1576,961.6 1576.7,962.6 1577.4,963.7 1578.1,962.8 1578.8,962.2 1579.5,961.6 1580.2,961.8 1580.9,960.8 1581.6,960.8 1582.3,963.9 1583,962 1583.7,960.6 1584.4,962 1585.1,962.6 1585.8,960.3 1586.5,960.6 1587.2,959.2 1587.9,958.6 1588.6,961.4 1589.3,963.2 1590,958.7 1590.7,957.5 1591.4,960.3 1592.1,959.6 1592.8,958.7 1593.5,959.4 1594.2,957.2 1594.9,957.4 1595.6,957.5 1596.3,956 1597,956.3 1597.7,955.2 1598.4,955.3 1599.1,954.5 1599.8,951.8 1600.5,953.3 1601.2,951.1 1601.9,951 1602.6,949.4 1603.3,951.1 1604,949.1 1604.7,948.1 1605.4,948.8 1606.1,947.2 1606.8,945.2 1607.5,942.1 1608.2,943.6 1608.9,941.3 1609.6,939.7 1610.3,939.2 1611,936.2 1611.7,934.9 1612.4,934 1613.1,931.6 1613.8,928.2 1614.5,928 1615.2,925.2 1615.9,923.4 1616.6,918.6 1617.3,916 1618,913.8 1618.7,909.9 1619.4,906.2 1620.1,902.4 1620.8,898.4 1621.5,894.2 1622.2,890.1 1622.9,886.9 1623.6,881.8 1624.3,876.1 1625,872.9 1625.7,869.6 1626.4,864.4 1627.1,856 1627.8,852 1628.5,848.4 1629.2,842.4 1629.9,837.1 1630.6,831.6 1631.3,826.6 1632,820.4 1632.7,817.5 1633.4,810.4 1634.1,806.7 1634.8,804 1635.5,799.4 1636.2,794.6 1636.9,791.2 1637.6,787.8 1638.3,785.4 1639,783.8 1639.7,783.9 1640.4,781.3 1641.1,782 1641.8,782.1 1642.5,782.8 1643.2,783.4 1643.9,786.2 1644.6,787.9 1645.3,790.5 1646,793.1 1646.7,794.9 1647.4,801.5 1648.1,805.7 1648.8,808.7 1649.5,813.6 1650.2,818.8 1650.9,822.4 1651.6,829.1 1652.3,834.1 1653,839.3 1653.7,844.5 1654.4,846.7 1655.1,854.2 1655.8,858.2 1656.5,864.6 1657.2,869.3 1657.9,873.8 1658.6,877.4 1659.3,884.7 1660,886.1 1660.7,889.3 1661.4,895.3 1662.1,896.7 1662.8,903.7 1663.5,906.3 1664.2,910 1664.9,912.9 1665.6,915.3 1666.3,916.5 1667,919.9 1667.7,923.7 1668.4,925.4 1669.1,928.2 1669.8,929.4 1670.5,931.3 1671.2,934.3 1671.9,936.6 1672.6,937.6 1673.3,938.2 1674,939.1 1674.7,944.1 1675.4,942.3 1676.1,943.8 1676.8,945.1 1677.5,947.8 1678.2,947.2 1678.9,949.5 1679.6,950.1 1680.3,949.5 1681,951.6 1681.7,951 1682.4,952.7 1683.1,954.3 1683.8,953.9 1684.5,953.8 1685.2,954.8 1685.9,955.6 1686.6,956.6 1687.3,954.4 1688,955.3 1688.7,958 1689.4,957.8 1690.1,958.3 1690.8,958.9 1691.5,958.8 1692.2,958.9 1692.9,959.7 1693.6,960.6 1694.3,960.5 1695,960.5 1695.7,959.7 1696.4,961.2 1697.1,960 1697.8,960.7 1698.5,961.8 1699.2,961.9 1699.9,963.1 1700.6,963.1 1701.3,962.9 1702,962.3 1702.7,962.8 1703.4,962.7 1704.1,964.8 1704.8,963.7 1705.5,962.8 1706.2,962.7 1706.9,965 1707.6,963 1708.3,964.4 1709,964.3 1709.7,965.3 1710.4,963.5 1711.1,965 1711.8,964.8 1712.5,965.5 1713.2,966.2 1713.9,965.1 1714.6,964.9 1715.3,966.1 1716,963.9 1716.7,965.6 1717.4,964.5 1718.1,964.4 1718.8,964.1 1719.5,964.1 1720.2,966.7 1720.9,966.8 1721.6,966.1 1722.3,967.1 1723,966.2 1723.7,965.8 1724.4,965.3 1725.1,967.2 1725.8,967.3 1726.5,967.8 1727.2,965.8 1727.9,966.4 1728.6,965.4 1729.3,967.9 1730,967.6 1730.7,967.4 1731.4,967 1732.1,966.9 1732.8,966.8 1733.5,968.2 1734.2,966.6 1734.9,968.2 1735.6,967.6 1736.3,966.4 1737,966 1737.7,966.7 1738.4,967.5 1739.1,966.3 1739.8,968.2 1740.5,968.8 1741.2,968.3 1741.9,966.1 1742.6,965.5 1743.3,968.7 1744,969.4 1744.7,967.5 1745.4,968.5 1746.1,967.7 1746.8,967.4 1747.5,969.1 1748.2,967.6 1748.9,969 1749.6,969.9 1750.3,968.1 1751,970.1 1751.7,967 1752.4,969.2 1753.1,968.4 1753.8,970.9 1754.5,968.5 1755.2,967.7 1755.9,970.1 1756.6,967 1757.3,969 1758,967.8 1758.7,970 1759.4,968.5 1760.1,969.5 1760.8,968.7 1761.5,967.6 1762.2,966.6 1762.9,970.6 1763.6,969 1764.3,967.7 1765,968.5 1765.7,969.9 1766.4,967.4 1767.1,971.2 1767.8,968.7 1768.5,968.6 1769.2,970.3 1769.9,969.2 1770.6,968 1771.3,970 1772,969.5 1772.7,970.2 1773.4,968.2 1774.1,968 1774.8,969.8 1775.5,968.8 1776.2,967.1 1776.9,968.6 1777.6,969.9 1778.3,968.5 1779,970.6 1779.7,968.8 1780.4,969.2 1781.1,967.7 1781.8,968.6 1782.5,969.2 1783.2,970 1783.9,969.6 1784.6,970.5 1785.3,967.3 1786,969.5 1786.7,969.3 1787.4,968.4 1788.1,969.5 1788.8,968.8 1789.5,970 1790.2,969.2 1790.9,970.1 1791.6,968.7 1792.3,970.9 1793,970 1793.7,971.4 1794.4,969.5 1795.1,969.2 1795.8,969.8 1796.5,969.2 1797.2,968.7 1797.9,969.7 1798.6,969.7 1799.3,969.1 1800,969.4 1800.7,968.8 1801.4,969.9 1802.1,968.4 1802.8,971.5 1803.5,969.8 1804.2,970.8 1804.9,968.6 1805.6,970.2 1806.3,969.7 1807,970.8 1807.7,970.7 1808.4,968.2 1809.1,971 1809.8,968.4 1810.5,971.2 1811.2,969.9 1811.9,968.7 1812.6,970.6 1813.3,970 1814,968.9 1814.7,969.2 1815.4,970.4 1816.1,968.6 1816.8,969.1 1817.5,971.8 1818.2,969.2 1818.9,970.4 1819.6,970.5 1820.3,971 1821,970.9 1821.7,967.5 1822.4,969.5 1823.1,971.2 1823.8,969.3 1824.5,971.9 1825.2,970.3 1825.9,968.8 1826.6,970.6 1827.3,972 1828,969.4 1828.7,970.7 1829.4,969.2 1830.1,969.5 1830.8,970.2 1831.5,970.6 1832.2,970.5 1832.9,970.3 1833.6,972.6 1834.3,969.1 1835,968.3 1835.7,970.7 1836.4,970.4 1837.1,968.7 1837.8,971.9 1838.5,969.5 1839.2,968.8 1839.9,970.6 1840.6,970.8 1841.3,972.6 1842,968.7 1842.7,968.9 1843.4,969.9 1844.1,969.8 1844.8,970.2 1845.5,969.5 1846.2,968.7 1846.9,969.8 1847.6,971 1848.3,971.1 1849,969.6 1849.7,970.8 1850.4,970.7 1851.1,969.8 1851.8,969.9 1852.5,970.3 1853.2,973.1 1853.9,970.5 1854.6,969.4 1855.3,970.1 1856,969.8 1856.7,971.5 1857.4,968.1 1858.1,969.2 1858.8,971.2 1859.5,970.8 1860.2,970.4 1860.9,971.1 1861.6,969 1862.3,970.7 1863,969.2 1863.7,969.1 1864.4,970.9 1865.1,969.6 1865.8,970 1866.5,971 1867.2,969.3 1867.9,971 1868.6,972.7 1869.3,970.2 1870,971.4 1870.7,971.2 1871.4,969.1 1872.1,969 1872.8,970.4 1873.5,968.3 1874.2,970.5 1874.9,970.7 1875.6,970.9 1876.3,970.9 1877,971.8 1877.7,970.1 1878.4,971.8 1879.1,971 1879.8,971 1880.5,970.3 1881.2,971.4 1881.9,969.7 1882.6,971.2 1883.3,971.6 1884,969.8 1884.7,969.5 1885.4,969.7 1886.1,970.4 1886.8,970.9 1887.5,971.4 1888.2,972.4 1888.9,972.1 1889.6,970.8 1890.3,970.1 1891,969.3 1891.7,971.3 1892.4,971 1893.1,970.2 1893.8,970.3 1894.5,970.4 1895.2,967.9 1895.9,970.5 1896.6,970.9 1897.3,970.4 1898,969.5 1898.7,970.6 1899.4,971 1900.1,972.4 1900.8,971.6 1901.5,971.1 1902.2,970.5 1902.9,969.2 1903.6,970.1 1904.3,969.2 1905,970.4 1905.7,971.6 1906.4,971.6 1907.1,971.5 1907.8,970.6 1908.5,971.6 1909.2,970.3 1909.9,968.6 1910.6,970.7 1911.3,970.6 1912,968.8 1912.7,970 1913.4,968.1 1914.1,970.1 1914.8,971.8 1915.5,969.9 1916.2,971.9 1916.9,970.8 1917.6,969.8 1918.3,968.8 1919,971.3 1919.7,971.2 1920.4,969.1 1921.1,970.1 1921.8,971.7 1922.5,969.8 1923.2,971 1923.9,968.6 1924.6,969.6 1925.3,971.3 1926,969.3 1926.7,969.1 1927.4,969.1 1928.1,970.2 1928.8,968.9 1929.5,970.4 1930.2,971.1 1930.9,972.1 1931.6,970.1 1932.3,972.1 1933,971.1 1933.7,970.3 1934.4,971 1935.1,972 1935.8,972 1936.5,971.2 1937.2,970.3 1937.9,971.3 1938.6,970.6 1939.3,970.5 1940,970.6 1940.7,972.2 1941.4,969.1 1942.1,970.2 1942.8,969.2 1943.5,971.1 1944.2,971.4 1944.9,971.6 1945.6,969.8 1946.3,970.2 1947,970.9 1947.7,970.3 1948.4,970.4 1949.1,970.2 1949.8,970.3 1950.5,969.9 1951.2,970.4 1951.9,968.4 1952.6,969.4 1953.3,968.5 1954,969.7 1954.7,969 1955.4,970.2 1956.1,970.9 1956.8,968.3 1957.5,968.7 1958.2,969.8 1958.9,970.8 1959.6,970.1 1960.3,969.7 1961,969.1 1961.7,968.7 1962.4,969.4 1963.1,969.5 1963.8,969 1964.5,968.2 1965.2,967.1 1965.9,967.8 1966.6,968.1 1967.3,967.3 1968,968.7 1968.7,966.8 1969.4,967.8 1970.1,968.4 1970.8,968.8 1971.5,968.1 1972.2,968.9 1972.9,967 1973.6,966.7 1974.3,968.5 1975,966.3 1975.7,967 1976.4,965.2 1977.1,968 1977.8,967.4 1978.5,965.8 1979.2,964.7 1979.9,966.6 1980.6,966.4 1981.3,967.2 1982,967.8 1982.7,966 1983.4,965.4 1984.1,965.2 1984.8,965 1985.5,963.8 1986.2,964.1 1986.9,964.7 1987.6,963 1988.3,963.2 1989,965.6 1989.7,963.5 1990.4,964.9 1991.1,965 1991.8,963.7 1992.5,964.4 1993.2,963.2 1993.9,962.4 1994.6,963 1995.3,963 1996,962.9 1996.7,962.7 1997.4,962.1 1998.1,963.4 1998.8,962 1999.5,961.7 2000.2,962.9 2000.9,960.8 2001.6,961.7 2002.3,963 2003,961.5 2003.7,962.7 2004.4,960.9 2005.1,960.6 2005.8,960.8 2006.5,960.3 2007.2,960.4 2007.9,960.2 2008.6,961.4 2009.3,960.9 2010,960.2 2010.7,959.6 2011.4,963.5 2012.1,960 2012.8,961.5 2013.5,958.9 2014.2,959.3 2014.9,961.2 2015.6,958.8 2016.3,958.8 2017,959.8 2017.7,959.1 2018.4,959.5 2019.1,960 2019.8,960.7 2020.5,960 2021.2,960.1 2021.9,961.2 2022.6,961.3 2023.3,959.5 2024,958 2024.7,958.9 2025.4,961.1 2026.1,959.6 2026.8,959.4 2027.5,959.7 2028.2,961.8 2028.9,960.4 2029.6,960 2030.3,959.8 2031,959.4 2031.7,963.5 2032.4,960.7 2033.1,961 2033.8,960.6 2034.5,962.1 2035.2,960.2 2035.9,959.4 2036.6,960.8 2037.3,961.9 2038,963.9 2038.7,961.7 2039.4,961.1 2040.1,961.9 2040.8,961.4 2041.5,961.6 2042.2,962.6 2042.9,963 2043.6,962.1 2044.3,964.1 2045,963 2045.7,963.4 2046.4,962.9 2047.1,964 2047.8,964.2 2048.5,964.6 2049.2,963.2 2049.9,964.9 2050.6,963.8 2051.3,964.6 2052,965.4 2052.7,966.4 2053.4,964.6 2054.1,964 2054.8,965.5 2055.5,966.7 2056.2,965.3 2056.9,968.2 2057.6,964 2058.3,967.6 2059,967.4 2059.7,967.5 2060.4,965.7 2061.1,968 2061.8,967.9 2062.5,968.2 2063.2,966.8 2063.9,966.9 2064.6,968.6 2065.3,967.8 2066,967.2 2066.7,966.8 2067.4,968.1 2068.1,966.5 2068.8,968.6 2069.5,968.3 2070.2,966.7 2070.9,968.8 2071.6,969.6 2072.3,968.8 2073,967.3 2073.7,968.1 2074.4,969.7 2075.1,967.6 2075.8,968.6 2076.5,970.2 2077.2,968.9 2077.9,968.6 2078.6,970.1 2079.3,971 2080,969.8 2080.7,968.2 2081.4,967.9 2082.1,969.4 2082.8,967.9 2083.5,969.7 2084.2,970.7 2084.9,967.2 2085.6,969.7 2086.3,970.3 2087,969.5 2087.7,970.4 2088.4,970.6 2089.1,971.2 2089.8,972.9 2090.5,970.5 2091.2,969.3 2091.9,969.2 2092.6,969 2093.3,971 2094,970.7 2094.7,970.8 2095.4,970.5 2096.1,972 2096.8,971.5 2097.5,971.4 2098.2,969.7 2098.9,970 2099.6,969.1 2100.3,969.7 2101,970.4 2101.7,969.1 2102.4,969.7 2103.1,972.3 2103.8,970.1 2104.5,968.7 2105.2,968.9 2105.9,970 2106.6,970.9 2107.3,969.9 2108,970.8 2108.7,970.1 2109.4,968.6 2110.1,970.7 2110.8,969.1 2111.5,971.3 2112.2,968.7 2112.9,969 2113.6,968.4 2114.3,968.5 2115,969.1 2115.7,968.2 2116.4,969.4 2117.1,968.4 2117.8,969.3 2118.5,967.6 2119.2,968.5 2119.9,968.1 2120.6,966.5 2121.3,968.9 2122,967.5 2122.7,966.2 2123.4,965.1 2124.1,964.8 2124.8,964.3 2125.5,964.4 2126.2,962.5 2126.9,963.3 2127.6,962.2 2128.3,964 2129,962.6 2129.7,963 2130.4,963.3 2131.1,960.8 2131.8,961.9 2132.5,959.7 2133.2,959.4 2133.9,957.3 2134.6,957.8 2135.3,958.7 2136,957.2 2136.7,955.8 2137.4,955.7 2138.1,954.5 2138.8,954 2139.5,952.8 2140.2,954.9 2140.9,954.4 2141.6,952.8 2142.3,951.2 2143,951.9 2143.7,953.8 2144.4,950.1 2145.1,950.7 2145.8,950.4 2146.5,951.5 2147.2,949.2 2147.9,950.6 2148.6,949.3 2149.3,949.7 2150,948.8 2150.7,950.5 2151.4,949.5 2152.1,949.4 2152.8,951.2 2153.5,950.5 2154.2,952.7 2154.9,950.9 2155.6,950.8 2156.3,951.1 2157,954 2157.7,952.8 2158.4,951.6 2159.1,952.5 2159.8,952.1 2160.5,953.7 2161.2,952.9 2161.9,953.3 2162.6,954.8 2163.3,956.2 2164,956.2 2164.7,956.5 2165.4,956.3 2166.1,954.4 2166.8,957.2 2167.5,957.6 2168.2,958.9 2168.9,960.7 2169.6,960.2 2170.3,958.2 2171,960.5 2171.7,960.7 2172.4,962.2 2173.1,961.9 2173.8,960.5 2174.5,962 2175.2,963 2175.9,961.7 2176.6,964.1 2177.3,964.3 2178,966.1 2178.7,965.3 2179.4,965.1 2180.1,966 2180.8,966.5 2181.5,967.7 2182.2,966.1 2182.9,965.1 2183.6,970.4 2184.3,968.6 2185,968.1 2185.7,970.8 2186.4,967.4 2187.1,967.9 2187.8,968.5 2188.5,969.6 2189.2,968.8 2189.9,970.2 2190.6,969.2 2191.3,971 2192,970.3 2192.7,968.2 2193.4,970 2194.1,968.9 2194.8,970 2195.5,970.3 2196.2,972.6 2196.9,970.1 2197.6,968.8 2198.3,970.6 2199,969.4 2199.7,972.4 2200.4,971.3 2201.1,972.3 2201.8,970.3 2202.5,969.7 2203.2,971 2203.9,969.4 2204.6,969.8 2205.3,970 2206,970.7 2206.7,969.3 2207.4,968.7 2208.1,972.3 2208.8,970.3 2209.5,970.7 2210.2,971.5 2210.9,971.3 2211.6,970.2 2212.3,970.4 2213,972.5 2213.7,972.2 2214.4,971.7 2215.1,972.6 2215.8,969 2216.5,971.1 2217.2,970.6 2217.9,969 2218.6,971.3 2219.3,971.6 2220,971.2 2220.7,969.1 2221.4,970.7 2222.1,971.2 2222.8,970.7 2223.5,971.2 2224.2,971.5 2224.9,972.4 2225.6,971.2 2226.3,973.6 2227,971.2 2227.7,971.2 2228.4,971.8 2229.1,970.9 2229.8,970.6 2230.5,972.2 2231.2,968.8 2231.9,969.2 2232.6,973.1"/>
<polyline fill="none" stroke="#ff0000" stroke-width="6" stroke-linejoin="round"  points="337,969.5 338.4,969.3 339.8,968.3 341.2,967.2 342.6,968 344,968.5 345.4,969.7 346.8,967.5 348.2,967.6 349.6,968.5 351,969.2 352.4,969.5 353.8,970.2 355.2,968.3 356.6,969.1 358,968.4 359.4,968.1 360.8,969 362.2,968.4 363.6,968.6 365,970.1 366.4,968.4 367.8,969.2 369.2,968.5 370.6,969.7 372,967.8 373.4,968.6 374.8,968 376.2,967.8 377.6,969.7 379,968.5 380.4,969.4 381.8,969.2 383.2,968.6 384.6,967.6 386,969.8 387.4,968.8 388.8,968.3 390.2,967.7 391.6,966.9 393,971.2 394.4,968.6 395.8,968.5 397.2,969.2 398.6,966.6 400,966.9 401.4,969.4 402.8,967.3 404.2,968.6 405.6,969.1 407,966 408.4,966.8 409.8,969.7 411.2,966.6 412.6,967.3 414,967.9 415.4,967.9 416.8,967.6 418.2,968.4 419.6,970.3 421,969.2 422.4,968.8 423.8,969.3 425.2,967.6 426.6,968.9 428,967.1 429.4,970.1 430.8,969.2 432.2,968.6 433.6,968.4 435,968.5 436.4,969.2 437.8,967.7 439.2,968.7 440.6,968.6 442,968.4 443.4,968.7 444.8,966.4 446.2,969.5 447.6,968.4 449,969.5 450.4,967.6 451.8,968.6 453.2,968 454.6,967.4 456,967.7 457.4,969.7 458.8,967.4 460.2,967.4 461.6,969.3 463,967.4 464.4,970.3 465.8,969.7 467.2,967 468.6,969.2 470,970.2 471.4,968.5 472.8,968.1 474.2,966.4 475.6,967.9 477,968.8 478.4,968.6 479.8,966.8 481.2,969.7 482.6,967.4 484,969.7 485.4,968.4 486.8,969.2 488.2,968.3 489.6,967.7 491,970 492.4,968.2 493.8,968.4 495.2,967.8 496.6,970.2 498,967.9 499.4,967.8 500.8,969.2 502.2,968.7 503.6,969.6 505,968.5 506.4,967 507.8,968.5 509.2,968.2 510.6,968.6 512,968.2 513.4,969.7 514.8,969.1 516.2,966.8 517.6,966.1 519,966 520.4,969.1 521.8,967.7 523.2,969.1 524.6,968.7 526,968.5 527.4,969.6 528.8,968.3 530.2,969 531.6,969 533,969.5 534.4,968.4 535.8,968.7 537.2,968.7 538.6,970.3 540,967.3 541.4,969 542.8,968.6 544.2,969.6 545.6,967.2 547,968 548.4,969 549.8,968.8 551.2,969.6 552.6,967.9 554,969.6 555.4,968.4 556.8,968.4 558.2,968 559.6,968.5 561,967.1 562.4,967.7 563.8,967.5 565.2,967.3 566.6,968.2 568,967.7 569.4,968.1 570.8,967.9 572.2,969 573.6,968.9 575,968.5 576.4,967.4 577.8,968.1 579.2,967.7 580.6,967.5 582,969.4 583.4,967.9 584.8,968.1 586.2,967.8 587.6,968.3 589,967.2 590.4,967.5 591.8,969.7 593.2,969.8 594.6,967.9 596,968.4 597.4,968.3 598.8,968 600.2,968.2 601.6,968.2 603,968 604.4,969.9 605.8,968.1 607.2,967.8 608.6,969 610,968 611.4,967.9 612.8,967.8 614.2,969.2 615.6,969.5 617,968.5 618.4,966.4 619.8,969 621.2,966.4 622.6,967.2 624,969.7 625.4,970.2 626.8,967.5 628.2,969.2 629.6,970.1 631,969.4 632.4,967.4 633.8,968.4 635.2,967.7 636.6,970.2 638,969 639.4,969.1 640.8,967.7 642.2,968.3 643.6,968.4 645,968.4 646.4,968.7 647.8,967.5 649.2,969 650.6,967.3 652,968.2 653.4,970.7 654.8,967.4 656.2,967.7 657.6,968 659,967.6 660.4,967.2 661.8,968 663.2,967.4 664.6,968.2 666,966.8 667.4,967.4 668.8,967.1 670.2,967.9 671.6,968.5 673,968.2 674.4,966.8 675.8,965.9 677.2,967.7 678.6,969.5 680,969.1 681.4,968.4 682.8,968.5 684.2,968.1 685.6,967.1 687,968.4 688.4,967.3 689.8,967.4 691.2,969.9 692.6,967.3 694,970 695.4,966.8 696.8,966.3 698.2,967.7 699.6,966.8 701,967.6 702.4,968 703.8,967.4 705.2,968.9 706.6,968.3 708,968.5 709.4,968.5 710.8,967.3 712.2,966.8 713.6,970.2 715,967.2 716.4,968.2 717.8,967.7 719.2,968.5 720.6,969.6 722,968.5 723.4,968.8 724.8,970 726.2,969.2 727.6,968.8 729,967.6 730.4,966.9 731.8,969 733.2,968 734.6,965.9 736,967.1 737.4,966.6 738.8,968.2 740.2,966 741.6,967.7 743,965.5 744.4,968.3 745.8,969.2 747.2,968.1 748.6,968.4 750,967.7 751.4,968.2 752.8,967.7 754.2,967.5 755.6,967.9 757,967.6 758.4,968 759.8,968.5 761.2,967.7 762.6,966.2 764,968.8 765.4,966.5 766.8,967.7 768.2,968 769.6,967.3 771,966.6 772.4,967.3 773.8,967.8 775.2,966.8 776.6,966.3 778,968.8 779.4,967.4 780.8,967.5 782.2,966.9 783.6,967.8 785,966.7 786.4,966.6 787.8,966.3 789.2,967.3 790.6,963.9 792,968.3 793.4,967 794.8,967.2 796.2,964.7 797.6,966.8 799,967.1 800.4,965.3 801.8,966.3 803.2,966.4 804.6,965.7 806,965.1 807.4,966.1 808.8,964.4 810.2,966.1 811.6,965.3 813,964.6 814.4,965.8 815.8,966.7 817.2,965.6 818.6,966.8 820,965.8 821.4,965.5 822.8,964.5 824.2,966.7 825.6,966.1 827,966 828.4,965.2 829.8,964.5 831.2,964.6"/><polyline fill="none" stroke="#ff0000" stroke-width="6" stroke-linejoin="round"  points="836.1,965.3 837.5,964.4"/><polyline fill="none" stroke="#ff0000" stroke-width="6" stroke-linejoin="round"  points="968.4,965.2 969.8,965.4"/><polyline fill="none" stroke="#ff0000" stroke-width="6" stroke-linejoin="round"  points="972.6,963.5 974,964 975.4,966.1 976.8,963.7 978.2,965.3 979.6,964.1 980.3,965.7"/><polyline fill="none" stroke="#ff0000" stroke-width="6" stroke-linejoin="round"  points="983.8,964.9 985.2,965.1 986.6,964.5"/><polyline fill="none" stroke="#ff0000" stroke-width="6" stroke-linejoin="round"  points="988,964.1 989.4,965 990.8,965.5 992.2,964.1 993.6,965.5 995,965 996.4,966.6 997.8,968.4 999.2,967.7 1000.6,965.8 1002,965 1003.4,966.1 1004.8,967.5 1006.2,966.8 1007.6,968 1009,965 1010.4,967.1 1011.8,964.9 1013.2,966.6 1014.6,967.5 1016,966.4 1017.4,965.4 1018.8,966.7 1020.2,965.2 1021.6,966 1023,967 1024.4,967 1025.8,964.5 1027.2,963.8 1028.6,964.7 1030,964.3"/><polyline fill="none" stroke="#ff0000" stroke-width="6" stroke-linejoin="round"  points="1085.3,964.5 1086.7,967.2 1088.1,964 1089.5,965.5 1090.9,966 1092.3,965.7 1093.7,968.3 1095.1,966 1096.5,967.9 1097.9,968.1 1099.3,966.8 1100.7,967.9 1102.1,968.9 1103.5,968.2 1104.9,965.4 1106.3,967.5 1107.7,966.4 1109.1,967.5 1110.5,967.7 1111.9,967.7 1113.3,967.8 1114.7,966.9 1116.1,968.9 1117.5,967.5 1118.9,966.2 1120.3,967.6 1121.7,967.7 1123.1,966.8 1124.5,968.3 1125.9,966.9 1127.3,969.5 1128.7,969.6 1130.1,967.6 1131.5,966.9 1132.9,968.8 1134.3,968.8 1135.7,968.3 1137.1,969.3 1138.5,967.1 1139.9,969.3 1141.3,968 1142.7,968.3 1144.1,967.2 1145.5,968 1146.9,968.6 1148.3,967.6 1149.7,967.8 1151.1,967.5 1152.5,968.5 1153.9,966.9 1155.3,968.2 1156.7,967.5 1158.1,969.1 1159.5,967 1160.9,968.3 1162.3,969.3 1163.7,969.1 1165.1,967.8 1166.5,970 1167.9,969.1 1169.3,967.8 1170.7,969.7 1172.1,968.2 1173.5,968.3 1174.9,967.4 1176.3,970 1177.7,970.1 1179.1,968.8 1180.5,969 1181.9,967.9 1183.3,969.9 1184.7,967.7 1186.1,967.6 1187.5,967.9 1188.9,968.7 1190.3,969.4 1191.7,968.8 1193.1,967.8 1194.5,968.8 1195.9,969.1 1197.3,969.1 1198.7,970.1 1200.1,967.9 1201.5,968.6 1202.9,967 1204.3,968.7 1205.7,970 1207.1,969 1208.5,967.1 1209.9,969.2 1211.3,968.2 1212.7,968.9 1214.1,968.9 1215.5,968.2 1216.9,969.5 1218.3,967.4 1219.7,969.8 1221.1,968.5 1222.5,967.2 1223.9,968.9 1225.3,969.1 1226.7,968.8 1228.1,968.6 1229.5,967.3 1230.9,968.7 1232.3,969.5 1233.7,969.6 1235.1,968.1 1236.5,967.3 1237.9,968.7 1239.3,967.1 1240.7,967.8 1242.1,968.7 1243.5,968.4 1244.9,967.3 1246.3,969.2 1247.7,968.2 1249.1,967.3 1250.5,967.6 1251.9,967.7 1253.3,968.2 1254.7,968 1256.1,968.8 1257.5,969 1258.9,967.5 1260.3,969 1261.7,969.1 1263.1,969.4 1264.5,968.4 1265.9,969.8 1267.3,968.1 1268.7,965.9 1270.1,970 1271.5,969.9 1272.9,969.2 1274.3,968.3 1275.7,968.4 1277.1,968.5 1278.5,968.6 1279.9,968.7 1281.3,968.8 1282.7,970.5 1284.1,970.4 1285.5,967.9 1286.9,969.6 1288.3,969.7 1289.7,968.2 1291.1,969.3 1292.5,969.5 1293.9,968.3 1295.3,967.6 1296.7,968.9 1298.1,967.8 1299.5,967 1300.9,969.8 1302.3,968.7 1303.7,969.2 1305.1,966.7 1306.5,970 1307.9,967.6 1309.3,968.5 1310.7,968.3 1312.1,970.5 1313.5,968.5 1314.9,970.3 1316.3,970.9 1317.7,967.4 1319.1,967.4 1320.5,967.7 1321.9,969.7 1323.3,968.8 1324.7,968.8 1326.1,967.8 1327.5,968.9 1328.9,968.3 1330.3,967.4 1331.7,967.9 1333.1,968 1334.5,968.9 1335.9,969.4 1337.3,971 1338.7,969.2 1340.1,968 1341.5,969.4 1342.9,968.3 1344.3,967.5 1345.7,969.8 1347.1,969.2 1348.5,968.3 1349.9,968.6 1351.3,969 1352.7,969.5 1354.1,971.2 1355.5,968.1 1356.9,967.9 1358.3,970.3 1359.7,968.5 1361.1,969.4 1362.5,968.5 1363.9,970 1365.3,969.3 1366.7,968.2 1368.1,970 1369.5,968.8 1370.9,969.3 1372.3,968.2 1373.7,971 1375.1,969.3 1376.5,969.9 1377.9,969.8 1379.3,969.3 1380.7,969.8 1382.1,969.7 1383.5,968.6 1384.9,968.8 1386.3,968.7 1387.7,968 1389.1,968 1390.5,968.5 1391.9,968 1393.3,968.7 1394.7,967.7 1396.1,969.5 1397.5,968.5 1398.9,969 1400.3,970.2 1401.7,966.9 1403.1,969 1404.5,970 1405.9,971 1407.3,967.2 1408.7,969.2 1410.1,967.4 1411.5,969.1 1412.9,969.6 1414.3,970.5 1415.7,968.8 1417.1,969.2 1418.5,968.7 1419.9,966.7 1421.3,968.3 1422.7,969.8 1424.1,967.2 1425.5,969.3 1426.9,968.4 1428.3,968.8 1429.7,969.3 1431.1,968.4 1432.5,969.1 1433.9,970.4 1435.3,969.6 1436.7,968.5 1438.1,969.2 1439.5,970.2 1440.9,967.8 1442.3,967.2 1443.7,967.2 1445.1,969.6 1446.5,969.2 1447.9,970.6 1449.3,969 1450.7,969.5 1452.1,968.4 1453.5,969.9 1454.9,968.6 1456.3,968.8 1457.7,967.7 1459.1,967.5 1460.5,967.7 1461.9,968.1 1463.3,970 1464.7,968.6 1466.1,968.3 1467.5,969.4 1468.9,969.8 1470.3,967.7 1471.7,967.7 1473.1,968.6 1474.5,969.3 1475.9,965.7 1477.3,968.8 1478.7,968.1 1480.1,968.7 1481.5,966.6 1482.9,968 1484.3,968 1485.7,967.5 1487.1,967.7 1488.5,969.2 1489.9,968.6 1491.3,968.9 1492.7,969.9 1494.1,968.6 1495.5,969.3 1496.9,968.7 1498.3,968.2 1499.7,968.6 1501.1,968.7 1502.5,969.1 1503.9,966.6 1505.3,967.2 1506.7,969.1 1508.1,967.6 1509.5,967.5 1510.9,968 1512.3,968 1513.7,968.4 1515.1,968.8 1516.5,968.3 1517.9,966.5 1519.3,966.9 1520.7,968.7 1522.1,968.5 1523.5,968.7 1524.9,968.9 1526.3,968.1 1527.7,968.1 1529.1,967.6 1530.5,966.8 1531.9,965.8 1533.3,967.3 1534.7,965.1 1536.1,968 1537.5,968.6 1538.9,967.5 1540.3,966.4 1541.7,967.6 1543.1,967.9 1544.5,966.8 1545.9,966.1 1547.3,968.2 1548.7,967.7 1550.1,965.4 1551.5,968 1552.9,968 1554.3,967.3 1555.7,965.2 1557.1,965.7 1557.8,965.3"/><polyline fill="none" stroke="#ff0000" stroke-width="6" stroke-linejoin="round"  points="1720.2,966.7 1721.6,966.1 1723,966.2 1723.7,965.8"/><polyline fill="none" stroke="#ff0000" stroke-width="6" stroke-linejoin="round"  points="1725.1,967.2 1726.5,967.8 1727.9,966.4"/><polyline fill="none" stroke="#ff0000" stroke-width="6" stroke-linejoin="round"  points="1729.3,967.9 1730.7,967.4 1732.1,966.9 1733.5,968.2 1734.9,968.2 1736.3,966.4 1737.7,966.7 1739.1,966.3 1740.5,968.8 1741.9,966.1"/><polyline fill="none" stroke="#ff0000" stroke-width="6" stroke-linejoin="round"  points="1743.3,968.7 1744.7,967.5 1746.1,967.7 1747.5,969.1 1748.9,969 1750.3,968.1 1751.7,967 1753.1,968.4 1754.5,968.5 1755.9,970.1 1757.3,969 1758.7,970 1760.1,969.5 1761.5,967.6 1762.9,970.6 1764.3,967.7 1765.7,969.9 1767.1,971.2 1768.5,968.6 1769.9,969.2 1771.3,970 1772.7,970.2 1774.1,968 1775.5,968.8 1776.9,968.6 1778.3,968.5 1779.7,968.8 1781.1,967.7 1782.5,969.2 1783.9,969.6 1785.3,967.3 1786.7,969.3 1788.1,969.5 1789.5,970 1790.9,970.1 1792.3,970.9 1793.7,971.4 1795.1,969.2 1796.5,969.2 1797.9,969.7 1799.3,969.1 1800.7,968.8 1802.1,968.4 1803.5,969.8 1804.9,968.6 1806.3,969.7 1807.7,970.7 1809.1,971 1810.5,971.2 1811.9,968.7 1813.3,970 1814.7,969.2 1816.1,968.6 1817.5,971.8 1818.9,970.4 1820.3,971 1821.7,967.5 1823.1,971.2 1824.5,971.9 1825.9,968.8 1827.3,972 1828.7,970.7 1830.1,969.5 1831.5,970.6 1832.9,970.3 1834.3,969.1 1835.7,970.7 1837.1,968.7 1838.5,969.5 1839.9,970.6 1841.3,972.6 1842.7,968.9 1844.1,969.8 1845.5,969.5 1846.9,969.8 1848.3,971.1 1849.7,970.8 1851.1,969.8 1852.5,970.3 1853.9,970.5 1855.3,970.1 1856.7,971.5 1858.1,969.2 1859.5,970.8 1860.9,971.1 1862.3,970.7 1863.7,969.1 1865.1,969.6 1866.5,971 1867.9,971 1869.3,970.2 1870.7,971.2 1872.1,969 1873.5,968.3 1874.9,970.7 1876.3,970.9 1877.7,970.1 1879.1,971 1880.5,970.3 1881.9,969.7 1883.3,971.6 1884.7,969.5 1886.1,970.4 1887.5,971.4 1888.9,972.1 1890.3,970.1 1891.7,971.3 1893.1,970.2 1894.5,970.4 1895.9,970.5 1897.3,970.4 1898.7,970.6 1900.1,972.4 1901.5,971.1 1902.9,969.2 1904.3,969.2 1905.7,971.6 1907.1,971.5 1908.5,971.6 1909.9,968.6 1911.3,970.6 1912.7,970 1914.1,970.1 1915.5,969.9 1916.9,970.8 1918.3,968.8 1919.7,971.2 1921.1,970.1 1922.5,969.8 1923.9,968.6 1925.3,971.3 1926.7,969.1 1928.1,970.2 1929.5,970.4 1930.9,972.1 1932.3,972.1 1933.7,970.3 1935.1,972 1936.5,971.2 1937.9,971.3 1939.3,970.5 1940.7,972.2 1942.1,970.2 1943.5,971.1 1944.9,971.6 1946.3,970.2 1947.7,970.3 1949.1,970.2 1950.5,969.9 1951.9,968.4 1953.3,968.5 1954.7,969 1956.1,970.9 1957.5,968.7 1958.9,970.8 1960.3,969.7 1961.7,968.7 1963.1,969.5 1964.5,968.2 1965.9,967.8 1967.3,967.3 1968.7,966.8 1970.1,968.4 1971.5,968.1 1972.9,967 1974.3,968.5 1975.7,967"/><polyline fill="none" stroke="#ff0000" stroke-width="6" stroke-linejoin="round"  points="1979.9,966.6 1981.3,967.2 1982,967.8"/><polyline fill="none" stroke="#ff0000" stroke-width="6" stroke-linejoin="round"  points="2058.3,967.6 2059.7,967.5"/><polyline fill="none" stroke="#ff0000" stroke-width="6" stroke-linejoin="round"  points="2061.1,968 2062.5,968.2 2063.9,966.9 2065.3,967.8 2066.7,966.8 2068.1,966.5 2069.5,968.3 2070.9,968.8 2072.3,968.8 2073.7,968.1 2075.1,967.6 2076.5,970.2 2077.9,968.6 2079.3,971 2080.7,968.2 2082.1,969.4 2083.5,969.7 2084.9,967.2 2086.3,970.3 2087.7,970.4 2089.1,971.2 2090.5,970.5 2091.9,969.2 2093.3,971 2094.7,970.8 2096.1,972 2097.5,971.4 2098.9,970 2100.3,969.7 2101.7,969.1 2103.1,972.3 2104.5,968.7 2105.9,970 2107.3,969.9 2108.7,970.1 2110.1,970.7 2111.5,971.3 2112.9,969 2114.3,968.5 2115.7,968.2 2117.1,968.4 2118.5,967.6 2119.9,968.1 2121.3,968.9 2122.7,966.2"/><polyline fill="none" stroke="#ff0000" stroke-width="6" stroke-linejoin="round"  points="2180.8,966.5 2182.2,966.1"/><polyline fill="none" stroke="#ff0000" stroke-width="6" stroke-linejoin="round"  points="2183.6,970.4 2185,968.1 2186.4,967.4 2187.8,968.5 2189.2,968.8 2190.6,969.2 2192,970.3 2193.4,970 2194.8,970 2196.2,972.6 2197.6,968.8 2199,969.4 2200.4,971.3 2201.8,970.3 2203.2,971 2204.6,969.8 2206,970.7 2207.4,968.7 2208.8,970.3 2210.2,971.5 2211.6,970.2 2213,972.5 2214.4,971.7 2215.8,969 2217.2,970.6 2218.6,971.3 2220,971.2 2221.4,970.7 2222.8,970.7 2224.2,971.5 2225.6,971.2 2227,971.2 2228.4,971.8 2229.8,970.6 2231.2,968.8 2232.6,973.1"/>
<polyline fill="none" stroke="#0000ff" stroke-width="3.6" stroke-linejoin="round"  points="337,1349.4 337.4,1349.1 337.8,1348.6 338.2,1348.6 338.6,1346.5 339,1347.6 339.4,1346.3 339.8,1350.1 340.2,1349.2 340.6,1348.5 341,1348.8 341.4,1347.9 341.8,1346.1 342.2,1351.1 342.6,1349.3 343,1347.8 343.4,1349.2 343.8,1350.3 344.2,1350.2 344.6,1349.3 345,1349.6 345.4,1347.7 345.8,1350.5 346.2,1349.8 346.6,1349.8 347,1345.9 347.4,1349.3 347.8,1349.3 348.2,1349.5 348.6,1343.6 349,1344.9 349.4,1348.6 349.8,1346.5 350.2,1348.8 350.6,1348 351,1349.6 351.4,1347.1 351.8,1346.3 352.2,1349 352.6,1347.6 353,1346.1 353.4,1344.6 353.8,1353.6 354.2,1347.5 354.6,1347.7 355,1344.7 355.4,1346.3 355.8,1347.8 356.2,1348.7 356.6,1349.4 357,1346.8 357.4,1348.9 357.8,1350.1 358.2,1347.2 358.6,1348 359,1344.9 359.4,1346.6 359.8,1345.7 360.2,1349.2 360.6,1347.8 361,1350.8 361.4,1348.4 361.8,1349.5 362.2,1349 362.6,1348.4 363,1346.2 363.4,1351 363.8,1347.9 364.2,1344.9 364.6,1347.1 365,1346.1 365.4,1350.1 365.8,1349.9 366.2,1350.8 366.6,1351.9 367,1346.9 367.4,1344.8 367.8,1346.4 368.2,1348.8 368.6,1343.3 369,1347 369.4,1349.6 369.8,1346.6 370.2,1347.9 370.6,1346.5 371,1351.1 371.4,1351.5 371.8,1346.3 372.2,1346.6 372.6,1348.3 373,1349.3 373.4,1348.9 373.8,1349.3 374.2,1349.9 374.6,1350.3 375,1351.5 375.4,1348.5 375.8,1347.4 376.2,1348.1 376.6,1352.2 377,1349.7 377.4,1349.5 377.8,1350.6 378.2,1350.5 378.6,1352.4 379,1346.9 379.4,1348.6 379.8,1349.6 380.2,1349.7 380.6,1347.6 381,1345.4 381.4,1347.8 381.8,1347 382.2,1348.1 382.6,1350.2 383,1349.5 383.4,1346.2 383.8,1346.9 384.2,1348.6 384.6,1350.3 385,1348.1 385.4,1348.6 385.8,1345.5 386.2,1347.4 386.6,1346.8 387,1348.6 387.4,1347.7 387.8,1346.6 388.2,1346.3 388.6,1348.5 389,1347 389.4,1350.2 389.8,1348.4 390.2,1347.7 390.6,1349.7 391,1346 391.4,1349.7 391.8,1346.8 392.2,1349.4 392.6,1346.9 393,1346.4 393.4,1344.8 393.8,1348.2 394.2,1348.9 394.6,1345.6 395,1351.2 395.4,1348.1 395.8,1346.1 396.2,1351.5 396.6,1347.4 397,1350.7 397.4,1343.1 397.8,1351.9 398.2,1348.4 398.6,1348.1 399,1348.6 399.4,1346 399.8,1349.7 400.2,1348.8 400.6,1348.6 401,1347.1 401.4,1346 401.8,1348.7 402.2,1349.5 402.6,1348.3 403,1347.7 403.4,1347.1 403.8,1349.3 404.2,1350.6 404.6,1347.8 405,1346.5 405.4,1352.4 405.8,1345.3 406.2,1348.5 406.6,1347.9 407,1350.4 407.4,1347.8 407.8,1345.1 408.2,1346.1 408.6,1348.2 409,1348 409.4,1346.9 409.8,1347.1 410.2,1345.3 410.6,1345.4 411,1346.9 411.4,1346.8 411.8,1347.8 412.2,1346 412.6,1350.8 413,1345 413.4,1349.6 413.8,1349 414.2,1350.8 414.6,1350.5 415,1345.8 415.4,1348.7 415.8,1349.4 416.2,1349.7 416.6,1349 417,1347.1 417.4,1350.4 417.8,1347.9 418.2,1347.2 418.6,1348.4 419,1347.3 419.4,1346.9 419.8,1348.3 420.2,1352.7 420.6,1348.7 421,1348.3 421.4,1347.3 421.8,1348.7 422.2,1346.1 422.6,1349 423,1348.6 423.4,1348.3 423.8,1349 424.2,1347.8 424.6,1349.3 425,1349.1 425.4,1349.1 425.8,1348.1 426.2,1349.7 426.6,1347.8 427,1350.4 427.4,1347.9 427.8,1350.4 428.2,1348.6 428.6,1348.1 429,1346.4 429.4,1349.2 429.8,1348.8 430.2,1348.2 430.6,1348.8 431,1348.4 431.4,1346.5 431.8,1346.1 432.2,1349.2 432.6,1348.4 433,1350.8 433.4,1351.6 433.8,1349.6 434.2,1349.2 434.6,1349.1 435,1348.3 435.4,1347 435.8,1343.5 436.2,1349.5 436.6,1349.2 437,1348.2 437.4,1348.4 437.8,1349.8 438.2,1349.7 438.6,1348.5 439,1347.7 439.4,1349.2 439.8,1349.5 440.2,1352 440.6,1346.5 441,1349 441.4,1346.6 441.8,1347.3 442.2,1352.2 442.6,1347.4 443,1347.9 443.4,1347.1 443.8,1349.6 444.2,1347.4 444.6,1345.2 445,1348.4 445.4,1349.6 445.8,1348.1 446.2,1348.4 446.6,1346.9 447,1346.5 447.4,1348.1 447.8,1346.1 448.2,1347.3 448.6,1346.4 449,1347.7 449.4,1349.5 449.8,1348 450.2,1350.1 450.6,1348.7 451,1347.9 451.4,1346.5 451.8,1348.3 452.2,1346.1 452.6,1349.4 453,1345.7 453.4,1345.7 453.8,1346.6 454.2,1345.2 454.6,1348.3 455,1346.7 455.4,1347.3 455.8,1349.2 456.2,1344.2 456.6,1347.6 457,1348.7 457.4,1349.9 457.8,1348.3 458.2,1346.9 458.6,1349.7 459,1349.7 459.4,1351.9 459.8,1351.8 460.2,1347.7 460.6,1350.5 461,1348.4 461.4,1346.3 461.8,1349.3 462.2,1350.4 462.6,1344 463,1350.4 463.4,1346.6 463.8,1350.9 464.2,1348.5 464.6,1348.3 465,1350.5 465.4,1347.5 465.8,1351.7 466.2,1346.4 466.6,1347 467,1346.2 467.4,1349 467.8,1347.9 468.2,1349.5 468.6,1350 469,1349.4 469.4,1349.9 469.8,1350 470.2,1347.9 470.6,1346.8 471,1346.3 471.4,1349.3 471.8,1347.1 472.2,1346.3 472.6,1346.6 473,1347.6 473.4,1348.4 473.8,1347.6 474.2,1346.2 474.6,1349 475,1344.1 475.4,1347.4 475.8,1349.8 476.2,1348.5 476.6,1350.1 477,1348.2 477.4,1349 477.8,1348 478.2,1347.2 478.6,1348.6 479,1349.7 479.4,1344.5 479.8,1346.5 480.2,1344.3 480.6,1346.3 481,1345.7 481.4,1347.1 481.8,1347.4 482.2,1349.6 482.6,1350 483,1346.5 483.4,1347 483.8,1349 484.2,1346.8 484.6,1347.2 485,1344.7 485.4,1349.2 485.8,1348.3 486.2,1346.2 486.6,1345.6 487,1346 487.4,1348.6 487.8,1347 488.2,1345.8 488.6,1347.3 489,1349.4 489.4,1350.1 489.8,1350.2 490.2,1348.1 490.6,1348.4 491,1348.4 491.4,1349.1 491.8,1349 492.2,1346.3 492.6,1346.7 493,1347.3 493.4,1349.2 493.8,1347.1 494.2,1346.6 494.6,1349.7 495,1350.5 495.4,1346.4 495.8,1347.7 496.2,1349.9 496.6,1347.3 497,1349.5 497.4,1345.5 497.8,1347.6 498.2,1349.1 498.6,1350.6 499,1349.6 499.4,1345.1 499.8,1345.3 500.2,1346.4 500.6,1349.4 501,1349.2 501.4,1349.8 501.8,1349.1 502.2,1346.9 502.6,1347.3 503,1346.4 503.4,1349.4 503.8,1345.8 504.2,1348 504.6,1348.4 505,1350.1 505.4,1346.6 505.8,1348.6 506.2,1346.2 506.6,1349.7 507,1347.3 507.4,1347.4 507.8,1346.3 508.2,1346.9 508.6,1346.8 509,1346.9 509.4,1349.9 509.8,1346.2 510.2,1348.4 510.6,1349.4 511,1346 511.4,1344.2 511.8,1348.8 512.2,1345.1 512.6,1346.6 513,1347.8 513.4,1348.4 513.8,1347.5 514.2,1346.7 514.6,1349.7 515,1348.3 515.4,1351.3 515.8,1346.4 516.2,1347.8 516.6,1347.9 517,1348.9 517.4,1348.3 517.8,1348 518.2,1351.3 518.6,1347.7 519,1348.7 519.4,1348.3 519.8,1346.9 520.2,1349.2 520.6,1344.7 521,1349.9 521.4,1345.3 521.8,1347.4 522.2,1348.1 522.6,1347.1 523,1347 523.4,1350 523.8,1352.1 524.2,1349.7 524.6,1348.2 525,1346.9 525.4,1346.6 525.8,1350 526.2,1349.5 526.6,1350.2 527,1349.7 527.4,1350.2 527.8,1346.9 528.2,1346.6 528.6,1346.2 529,1347.9 529.4,1347.6 529.8,1348.1 530.2,1345.9 530.6,1348.2 531,1349.3 531.4,1348.1 531.8,1343.3 532.2,1347.9 532.6,1347.3 533,1349.5 533.4,1347.7 533.8,1349 534.2,1347.3 534.6,1348.5 535,1349.6 535.4,1347.5 535.8,1348.5 536.2,1348.2 536.6,1349 537,1347.7 537.4,1348.8 537.8,1344.8 538.2,1347.5 538.6,1349.4 539,1349.1 539.4,1346.3 539.8,1346.6 540.2,1348.6 540.6,1348.6 541,1348.7 541.4,1348 541.8,1348.1 542.2,1349.7 542.6,1346.3 543,1345.6 543.4,1349.7 543.8,1346.6 544.2,1349.1 544.6,1346.8 545,1346 545.4,1350.6 545.8,1347.8 546.2,1345.5 546.6,1347.6 547,1347.6 547.4,1347.6 547.8,1348.2 548.2,1346 548.6,1347.4 549,1348.7 549.4,1349 549.8,1348.1 550.2,1346.5 550.6,1344.5 551,1350.4 551.4,1346 551.8,1347.1 552.2,1347.9 552.6,1348.7 553,1347.9 553.4,1346.5 553.8,1347.9 554.2,1351.5 554.6,1352.2 555,1347.5 555.4,1349 555.8,1344.9 556.2,1348.3 556.6,1349.1 557,1347.4 557.4,1351 557.8,1349.4 558.2,1349 558.6,1343.5 559,1346.9 559.4,1349.1 559.8,1347.1 560.2,1344.9 560.6,1346.9 561,1350.5 561.4,1349.1 561.8,1349.4 562.2,1348.3 562.6,1350.7 563,1343.2 563.4,1345.9 563.8,1351.2 564.2,1349.7 564.6,1348.4 565,1347.4 565.4,1344.9 565.8,1347.2 566.2,1347.7 566.6,1346.4 567,1350.3 567.4,1349.7 567.8,1347.5 568.2,1349.5 568.6,1347.9 569,1348.4 569.4,1347.1 569.8,1352.2 570.2,1345.4 570.6,1347.7 571,1349.7 571.4,1349.7 571.8,1345.2 572.2,1346.3 572.6,1347.8 573,1346.6 573.4,1346.8 573.8,1347.5 574.2,1347.7 574.6,1349.8 575,1345.1 575.4,1349.8 575.8,1347.6 576.2,1349 576.6,1347.4 577,1352 577.4,1344.9 577.8,1350 578.2,1347.2 578.6,1347.6 579,1350.4 579.4,1347.6 579.8,1349.5 580.2,1350.5 580.6,1347 581,1351.4 581.4,1350.1 581.8,1347.6 582.2,1348.4 582.6,1346.8 583,1348.5 583.4,1349.5 583.8,1349.7 584.2,1348.4 584.6,1347.1 585,1346.9 585.4,1346.4 585.8,1347.5 586.2,1349 586.6,1347 587,1346.8 587.4,1346.2 587.8,1349 588.2,1347.5 588.6,1345.2 589,1349.9 589.4,1349.8 589.8,1348 590.2,1347.4 590.6,1347.9 591,1346.4 591.4,1349.7 591.8,1350.3 592.2,1349.7 592.6,1348.4 593,1348.4 593.4,1348.9 593.8,1350.9 594.2,1346.6 594.6,1348 595,1346.8 595.4,1345.9 595.8,1348.6 596.2,1349.9 596.6,1346.2 597,1349.7 597.4,1349.1 597.8,1348.8 598.2,1350.3 598.6,1346.9 599,1350.7 599.4,1347.4 599.8,1348.9 600.2,1345.4 600.6,1349.6 601,1348 601.4,1347 601.8,1346.2 602.2,1348.3 602.6,1350.2 603,1348.9 603.4,1347.4 603.8,1346.7 604.2,1346.2 604.6,1347.4 605,1345.2 605.4,1347.3 605.8,1349.8 606.2,1347.9 606.6,1347.7 607,1346.9 607.4,1349.2 607.8,1349 608.2,1350.4 608.6,1346.8 609,1346.1 609.4,1346.9 609.8,1345.9 610.2,1347.9 610.6,1347.2 611,1346.5 611.4,1347.9 611.8,1349.7 612.2,1349.2 612.6,1346.9 613,1348 613.4,1348.5 613.8,1349.1 614.2,1347.4 614.6,1345.7 615,1348.5 615.4,1346.3 615.8,1347.3 616.2,1347.5 616.6,1349.5 617,1347.1 617.4,1348.2 617.8,1347.6 618.2,1347 618.6,1349.4 619,1347.1 619.4,1348.7 619.8,1348.4 620.2,1344.8 620.6,1345.1 621,1342.6 621.4,1348.4 621.8,1348.4 622.2,1347 622.6,1347 623,1347.4 623.4,1346.9 623.8,1347.9 624.2,1347.9 624.6,1346.4 625,1350.4 625.4,1349.7 625.8,1347.2 626.2,1351.6 626.6,1352.1 627,1350 627.4,1350 627.8,1347 628.2,1347.4 628.6,1345.3 629,1347.2 629.4,1349.6 629.8,1347.3 630.2,1345.1 630.6,1350.7 631,1351.3 631.4,1350.5 631.8,1345.4 632.2,1349.4 632.6,1346.5 633,1347.7 633.4,1349.1 633.8,1350.6 634.2,1346.9 634.6,1347.4 635,1345.8 635.4,1348 635.8,1346.3 636.2,1347.1 636.6,1349.3 637,1347.9 637.4,1348.2 637.8,1348.4 638.2,1349.3 638.6,1350.3 639,1346 639.4,1345.2 639.8,1348.8 640.2,1349.1 640.6,1350.3 641,1349.3 641.4,1350.9 641.8,1348.8 642.2,1346.9 642.6,1349.7 643,1346.4 643.4,1346.8 643.8,1348.7 644.2,1347.5 644.6,1349.6 645,1347.3 645.4,1351.1 645.8,1346.2 646.2,1349.2 646.6,1347.2 647,1350.4 647.4,1347 647.8,1349.3 648.2,1342.6 648.6,1346.7 649,1350.8 649.4,1348.3 649.8,1348.1 650.2,1349.5 650.6,1352.1 651,1346.1 651.4,1347.8 651.8,1347.2 652.2,1349.2 652.6,1346.8 653,1345.3 653.4,1345.4 653.8,1349.1 654.2,1348.3 654.6,1349.5 655,1345.3 655.4,1346.5 655.8,1347.1 656.2,1349.4 656.6,1348.8 657,1347.7 657.4,1346.3 657.8,1348.3 658.2,1347.2 658.6,1349.5 659,1351 659.4,1348.2 659.8,1346.1 660.2,1352.1 660.6,1349.1 661,1348.9 661.4,1348.2 661.8,1348.3 662.2,1348.2 662.6,1348.5 663,1345.4 663.4,1346.8 663.8,1347.9 664.2,1348.3 664.6,1348.3 665,1348.7 665.4,1344.9 665.8,1346.4 666.2,1346.9 666.6,1348.2 667,1347.7 667.4,1351.4 667.8,1347.4 668.2,1347.6 668.6,1345.4 669,1351.1 669.4,1348.2 669.8,1347.8 670.2,1346.9 670.6,1348.2 671,1347.4 671.4,1350.1 671.8,1346.6 672.2,1347.3 672.6,1347.1 673,1349 673.4,1348.6 673.8,1349.7 674.2,1348.9 674.6,1349 675,1348.1 675.4,1349.6 675.8,1348.8 676.2,1348.6 676.6,1345.3 677,1347.2 677.4,1346.8 677.8,1344.9 678.2,1350.3 678.6,1350.5 679,1349.9 679.4,1349 679.8,1350.6 680.2,1345.2 680.6,1350.2 681,1344.6 681.4,1348.3 681.8,1348.2 682.2,1348.9 682.6,1349.1 683,1349.2 683.4,1346.8 683.8,1346.8 684.2,1346.6 684.6,1348.2 685,1347.4 685.4,1345.3 685.8,1349.6 686.2,1346.1 686.6,1347.2 687,1346.7 687.4,1346.7 687.8,1349 688.2,1346.8 688.6,1345.5 689,1346.9 689.4,1346.2 689.8,1345.4 690.2,1349.5 690.6,1350 691,1345.5 691.4,1350.7 691.8,1351.1 692.2,1345.6 692.6,1348.7 693,1347.5 693.4,1349.4 693.8,1343 694.2,1349.1 694.6,1347.4 695,1348.8 695.4,1349.5 695.8,1344 696.2,1347.9 696.6,1348 697,1349 697.4,1349.9 697.8,1349.3 698.2,1346.7 698.6,1349.2 699,1346.7 699.4,1349.3 699.8,1347.7 700.2,1347.7 700.6,1348.2 701,1345.3 701.4,1347.4 701.8,1346 702.2,1349.6 702.6,1350.2 703,1345.5 703.4,1344.2 703.8,1348.4 704.2,1347 704.6,1346.4 705,1351.9 705.4,1347.3 705.8,1346.2 706.2,1347.5 706.6,1348.5 707,1350.7 707.4,1348.5 707.8,1345.9 708.2,1347.2 708.6,1351.1 709,1345 709.4,1347.9 709.8,1350 710.2,1348.4 710.6,1347.6 711,1346.5 711.4,1348.3 711.8,1348.9 712.2,1348.4 712.6,1349.7 713,1348.3 713.4,1350.2 713.8,1348.2 714.2,1349.6 714.6,1347.5 715,1351 715.4,1350.1 715.8,1349.2 716.2,1346.3 716.6,1348.3 717,1343 717.4,1347.4 717.8,1348.3 718.2,1346.5 718.6,1348.3 719,1349.1 719.4,1351.1 719.8,1348 720.2,1345.3 720.6,1344 721,1347.7 721.4,1349.6 721.8,1349.9 722.2,1348.2 722.6,1346.9 723,1346.8 723.4,1347.8 723.8,1348.2 724.2,1349 724.6,1348.2 725,1351.4 725.4,1348.3 725.8,1348.9 726.2,1349.8 726.6,1349.6 727,1346.9 727.4,1345.3 727.8,1345.8 728.2,1348.7 728.6,1349 729,1348.6 729.4,1349.4 729.8,1350.2 730.2,1346.7 730.6,1352.4 731,1352.6 731.4,1349.3 731.8,1347.8 732.2,1348.5 732.6,1345.7 733,1348.1 733.4,1346.7 733.8,1347.9 734.2,1347.5 734.6,1351.6 735,1346.6 735.4,1348.6 735.8,1347.4 736.2,1350.8 736.6,1349.9 737,1345.5 737.4,1346.4 737.8,1348.5 738.2,1347 738.6,1348.8 739,1348.2 739.4,1346.2 739.8,1347.5 740.2,1348.9 740.6,1347.9 741,1348.3 741.4,1348.7 741.8,1347.8 742.2,1350.4 742.6,1345.9 743,1348.9 743.4,1347.2 743.8,1348.7 744.2,1349.5 744.6,1349.1 745,1349.2 745.4,1349.4 745.8,1349 746.2,1347.7 746.6,1349.3 747,1349.7 747.4,1349.5 747.8,1348.5 748.2,1348.5 748.6,1344.7 749,1346.7 749.4,1347.7 749.8,1349.8 750.2,1350.1 750.6,1348.3 751,1346.1 751.4,1348.9 751.8,1349.7 752.2,1349.4 752.6,1346.9 753,1346.2 753.4,1346.5 753.8,1346.2 754.2,1349.8 754.6,1348.6 755,1351.7 755.4,1350.9 755.8,1349.8 756.2,1346.9 756.6,1349.2 757,1348.8 757.4,1345.6 757.8,1345.9 758.2,1346.8 758.6,1350.2 759,1347.4 759.4,1345.7 759.8,1348.2 760.2,1349.1 760.6,1346 761,1351.3 761.4,1346.8 761.8,1349.8 762.2,1349.2 762.6,1346.8 763,1347.8 763.4,1348.1 763.8,1347.4 764.2,1349.3 764.6,1348.1 765,1345.1 765.4,1348.2 765.8,1346.1 766.2,1347.6 766.6,1348.4 767,1347.8 767.4,1349.8 767.8,1347.9 768.2,1347.1 768.6,1350.8 769,1349.3 769.4,1347.8 769.8,1348 770.2,1347.3 770.6,1348.2 771,1346.4 771.4,1351 771.8,1350.1 772.2,1344.2 772.6,1346.4 773,1347.9 773.4,1346.9 773.8,1344.4 774.2,1349.2 774.6,1346 775,1349.2 775.4,1348.8 775.8,1350.6 776.2,1346.5 776.6,1351.1 777,1345.9 777.4,1350.6 777.8,1349.8 778.2,1348.8 778.6,1346.1 779,1350.8 779.4,1349.4 779.8,1345.2 780.2,1343.6 780.6,1346.9 781,1346.5 781.4,1349.2 781.8,1348.2 782.2,1348.6 782.6,1347.1 783,1349.6 783.4,1347 783.8,1345.4 784.2,1343.9 784.6,1348.9 785,1347 785.4,1345.1 785.8,1346.5 786.2,1347.3 786.6,1349.2 787,1344.4 787.4,1347.3 787.8,1349.3 788.2,1348.8 788.6,1349.4 789,1351.4 789.4,1346.6 789.8,1347 790.2,1349.9 790.6,1350.8 791,1348.6 791.4,1347.5 791.8,1346.1 792.2,1349.1 792.6,1348.7 793,1346.2 793.4,1347.2 793.8,1346.4 794.2,1349.1 794.6,1347.8 795,1350.2 795.4,1350.4 795.8,1348.7 796.2,1350.1 796.6,1349.9 797,1350.7 797.4,1347.3 797.8,1349.2 798.2,1351.3 798.6,1349.3 799,1347.4 799.4,1348.6 799.8,1352.1 800.2,1347.5 800.6,1347.1 801,1349.7 801.4,1347.5 801.8,1345.5 802.2,1345.4 802.6,1348.2 803,1347.1 803.4,1350.7 803.8,1347.1 804.2,1345.8 804.6,1346.8 805,1346 805.4,1350.2 805.8,1346.8 806.2,1350.8 806.6,1349.1 807,1351.7 807.4,1348 807.8,1349.6 808.2,1344.6 808.6,1347.4 809,1346.9 809.4,1350.2 809.8,1347.9 810.2,1349.3 810.6,1346.9 811,1346 811.4,1348 811.8,1350.4 812.2,1348.1 812.6,1350.9 813,1347.6 813.4,1347.6 813.8,1347.6 814.2,1347.7 814.6,1347 815,1347.8 815.4,1346.8 815.8,1346.4 816.2,1350.8 816.6,1349.7 817,1347.7 817.4,1347.1 817.8,1345.5 818.2,1349.2 818.6,1347 819,1351.5 819.4,1345.2 819.8,1348.8 820.2,1350.3 820.6,1347.3 821,1351.7 821.4,1349.9 821.8,1349.9 822.2,1346.7 822.6,1350 823,1349.9 823.4,1348.4 823.8,1351.3 824.2,1348.8 824.6,1344.3 825,1348.8 825.4,1351.2 825.8,1347.2 826.2,1349.5 826.6,1347.1 827,1348.2 827.4,1343.5 827.8,1345.1 828.2,1347.7 828.6,1347.2 829,1345 829.4,1349.4 829.8,1348.8 830.2,1346.7 830.6,1344.6 831,1349.2 831.4,1347.3 831.8,1349.4 832.2,1350.1 832.6,1347.6 833,1347.8 833.4,1349.5 833.8,1347.7 834.2,1344.7 834.6,1349.2 835,1348.7 835.4,1347.1 835.8,1349 836.2,1347.4 836.6,1347.4 837,1349.4 837.4,1345.7 837.8,1345.2 838.2,1347.8 838.6,1345.8 839,1349.5 839.4,1346.7 839.8,1345 840.2,1347.3 840.6,1344.2 841,1350.4 841.4,1348 841.8,1349.2 842.2,1348.9 842.6,1348.4 843,1346.2 843.4,1349.4 843.8,1347.5 844.2,1346.7 844.6,1344.5 845,1350.2 845.4,1347.6 845.8,1347.3 846.2,1344.7 846.6,1349.6 847,1347.8 847.4,1349.8 847.8,1348 848.2,1346.6 848.6,1349 849,1345.3 849.4,1345.3 849.8,1347.9 850.2,1349.3 850.6,1350 851,1347.9 851.4,1347.8 851.8,1348.4 852.2,1347.7 852.6,1347.2 853,1348.9 853.4,1347.2 853.8,1347.7 854.2,1350.1 854.6,1348.4 855,1347.1 855.4,1349.2 855.8,1347.8 856.2,1349.2 856.6,1346.5 857,1346.7 857.4,1345.6 857.8,1350 858.2,1350.4 858.6,1350.1 859,1348.6 859.4,1348.4 859.8,1347.6 860.2,1349 860.6,1347.7 861,1346.3 861.4,1349.7 861.8,1349.6 862.2,1348.9 862.6,1347.9 863,1347.4 863.4,1348.2 863.8,1348.4 864.2,1346 864.6,1347.2 865,1346.2 865.4,1349.9 865.8,1345.7 866.2,1345.9 866.6,1346.5 867,1348.3 867.4,1346.4 867.8,1351 868.2,1349.2 868.6,1343.9 869,1348.4 869.4,1348.6 869.8,1345.8 870.2,1347.8 870.6,1348.1 871,1346.9 871.4,1347.8 871.8,1348.6 872.2,1347.1 872.6,1347.9 873,1345.9 873.4,1349.1 873.8,1346.9 874.2,1350.1 874.6,1351.5 875,1350.8 875.4,1347.2 875.8,1348.7 876.2,1347.5 876.6,1348.8 877,1346.6 877.4,1346.2 877.8,1347.9 878.2,1346.6 878.6,1350.1 879,1349.2 879.4,1348.5 879.8,1347.6 880.2,1347.5 880.6,1349.4 881,1347.8 881.4,1347.6 881.8,1350.6 882.2,1347.6 882.6,1346.8 883,1346.7 883.4,1349.2 883.8,1346 884.2,1345.9 884.6,1348.4 885,1348.4 885.4,1348.6 885.8,1344.6 886.2,1346.6 886.6,1344.7 887,1346.1 887.4,1342.4 887.8,1344.4 888.2,1346.2 888.6,1344.2 889,1339.3 889.4,1344.6 889.8,1342.8 890.2,1340.9 890.6,1340.3 891,1338.7 891.4,1340 891.8,1336.6 892.2,1332.6 892.6,1332.3 893,1334.9 893.4,1332.1 893.8,1329.3 894.2,1324 894.6,1323.1 895,1320 895.4,1313.2 895.8,1307.1 896.2,1298 896.6,1280.6 897,1237.4 897.4,1185 897.8,1112.6 898.2,1047.5 898.6,990.7 899,939.7 899.4,914.3 899.8,939.4 900.2,990.8 900.6,1046.4 901,1109.3 901.4,1168.1 901.8,1203.2 902.2,1232 902.6,1251.6 903,1261.7 903.4,1271.9 903.8,1276.5 904.2,1287 904.6,1290.4 905,1297.4 905.4,1299.2 905.8,1308.2 906.2,1311.2 906.6,1318.3 907,1315.2 907.4,1317.8 907.8,1324.9 908.2,1327.7 908.6,1325.4 909,1331.5 909.4,1334.1 909.8,1336.6 910.2,1336 910.6,1334.7 911,1335.5 911.4,1343.8 911.8,1342.1 912.2,1344.2 912.6,1342.8 913,1343.6 913.4,1344.2 913.8,1343.5 914.2,1345 914.6,1344.1 915,1345.7 915.4,1348.7 915.8,1347.2 916.2,1346.2 916.6,1350.6 917,1350.1 917.4,1348 917.8,1345 918.2,1350.3 918.6,1350.3 919,1347 919.4,1350.5 919.8,1346.6 920.2,1347.6 920.6,1347.3 921,1348.4 921.4,1347.8 921.8,1350.5 922.2,1347.4 922.6,1348.8 923,1348.1 923.4,1348.5 923.8,1346.6 924.2,1348 924.6,1350.4 925,1349.5 925.4,1346 925.8,1347.3 926.2,1346.3 926.6,1346.8 927,1346.9 927.4,1345.9 927.8,1348.8 928.2,1349.6 928.6,1348.3 929,1347.2 929.4,1348.3 929.8,1346.7 930.2,1349.8 930.6,1352 931,1343.5 931.4,1348.7 931.8,1348.1 932.2,1348.4 932.6,1347.6 933,1345.5 933.4,1347.9 933.8,1347.4 934.2,1347.8 934.6,1348 935,1347.2 935.4,1351.9 935.8,1345.9 936.2,1347.4 936.6,1345.9 937,1347.8 937.4,1350.7 937.8,1348 938.2,1346.6 938.6,1345.8 939,1349 939.4,1346.8 939.8,1349.1 940.2,1346.8 940.6,1347.1 941,1347.9 941.4,1345.2 941.8,1350.1 942.2,1346.1 942.6,1348.3 943,1348.8 943.4,1352 943.8,1348.8 944.2,1349.5 944.6,1347.2 945,1347.8 945.4,1348 945.8,1349.8 946.2,1346.3 946.6,1348.7 947,1352.9 947.4,1346.4 947.8,1344.9 948.2,1347.1 948.6,1347.8 949,1350.9 949.4,1348.9 949.8,1350 950.2,1346.8 950.6,1348 951,1348.5 951.4,1346.6 951.8,1348.5 952.2,1347.6 952.6,1348.4 953,1345.7 953.4,1344.6 953.8,1350.4 954.2,1348.1 954.6,1347.9 955,1352.5 955.4,1349.8 955.8,1348.8 956.2,1346.9 956.6,1348.7 957,1348.5 957.4,1347.7 957.8,1350.5 958.2,1349.4 958.6,1349.1 959,1346.7 959.4,1346.9 959.8,1350 960.2,1348.5 960.6,1347.2 961,1348.7 961.4,1348.2 961.8,1347.4 962.2,1347.8 962.6,1349.4 963,1348.7 963.4,1346.7 963.8,1346.9 964.2,1348.6 964.6,1346.3 965,1348.3 965.4,1347.9 965.8,1345.9 966.2,1344 966.6,1346.7 967,1348.1 967.4,1348.1 967.8,1350.2 968.2,1348.1 968.6,1348 969,1348.7 969.4,1347.3 969.8,1351 970.2,1347.1 970.6,1346.6 971,1347.2 971.4,1350.1 971.8,1347.1 972.2,1346.8 972.6,1349.1 973,1350.1 973.4,1347.3 973.8,1349.2 974.2,1346.9 974.6,1350.4 975,1346.2 975.4,1347.6 975.8,1347.3 976.2,1346.5 976.6,1347.9 977,1349.2 977.4,1346.6 977.8,1351.3 978.2,1348.5 978.6,1348.6 979,1346.7 979.4,1347.9 979.8,1349.5 980.2,1346.3 980.6,1346.8 981,1346.6 981.4,1345.8 981.8,1349.1 982.2,1346.7 982.6,1350.8 983,1345.9 983.4,1347.4 983.8,1348.1 984.2,1346.3 984.6,1344.4 985,1346.9 985.4,1348 985.8,1346.4 986.2,1348.5 986.6,1344.8 987,1348.5 987.4,1351.6 987.8,1349.6 988.2,1349.7 988.6,1347.4 989,1347.3 989.4,1349.9 989.8,1347.4 990.2,1349.1 990.6,1346.3 991,1348.7 991.4,1348.3 991.8,1344.2 992.2,1347.8 992.6,1349 993,1348.9 993.4,1348.6 993.8,1350.2 994.2,1347.9 994.6,1346.7 995,1349.6 995.4,1351.6 995.8,1347.4 996.2,1350.6 996.6,1347.7 997,1345.5 997.4,1346.5 997.8,1346.5 998.2,1350 998.6,1348.2 999,1347.1 999.4,1348.2 999.8,1350.4 1000.2,1347.9 1000.6,1346.8 1001,1348.6 1001.4,1346.6 1001.8,1348.9 1002.2,1349.7 1002.6,1348.3 1003,1347.3 1003.4,1348.2 1003.8,1345.6 1004.2,1350.7 1004.6,1352 1005,1348 1005.4,1344.5 1005.8,1346.9 1006.2,1345.5 1006.6,1344.8 1007,1347.8 1007.4,1347.7 1007.8,1346.9 1008.2,1349.9 1008.6,1348.1 1009,1346.3 1009.4,1348.7 1009.8,1345.8 1010.2,1347.4 1010.6,1346.6 1011,1348.5 1011.4,1347.5 1011.8,1347 1012.2,1348.5 1012.6,1348.8 1013,1348.4 1013.4,1349.9 1013.8,1346.2 1014.2,1348.7 1014.6,1350.9 1015,1348 1015.4,1344.2 1015.8,1349.7 1016.2,1347.7 1016.6,1349.1 1017,1348.5 1017.4,1349.1 1017.8,1350.1 1018.2,1348.2 1018.6,1349.3 1019,1345.8 1019.4,1346.5 1019.8,1347.8 1020.2,1350.7 1020.6,1346.6 1021,1347.4 1021.4,1349.1 1021.8,1347.1 1022.2,1345.8 1022.6,1344.6 1023,1349.3 1023.4,1346.1 1023.8,1348.6 1024.2,1348.9 1024.6,1346.3 1025,1348.8 1025.4,1344.3 1025.8,1347.8 1026.2,1346.2 1026.6,1348.4 1027,1348.3 1027.4,1348.3 1027.8,1349.1 1028.2,1346.9 1028.6,1345.5 1029,1345.9 1029.4,1349.7 1029.8,1346.2 1030.2,1347.4 1030.6,1348.6 1031,1347.7 1031.4,1346.3 1031.8,1344.4 1032.2,1349.6 1032.6,1347 1033,1345.2 1033.4,1346.9 1033.8,1348.1 1034.2,1344.6 1034.6,1348.2 1035,1348 1035.4,1348.8 1035.8,1348 1036.2,1346.3 1036.6,1345.2 1037,1347.6 1037.4,1347.1 1037.8,1350.6 1038.2,1347.5 1038.6,1348.7 1039,1348.1 1039.4,1345 1039.8,1349.3 1040.2,1347.2 1040.6,1345.5 1041,1348.7 1041.4,1350.1 1041.8,1347.8 1042.2,1347.5 1042.6,1346.9 1043,1347.2 1043.4,1349.9 1043.8,1348.1 1044.2,1348.7 1044.6,1348.9 1045,1343 1045.4,1348.2 1045.8,1348.9 1046.2,1348.3 1046.6,1345.3 1047,1346.4 1047.4,1348.8 1047.8,1348.3 1048.2,1348.2 1048.6,1345.4 1049,1347.6 1049.4,1349.5 1049.8,1346.9 1050.2,1349 1050.6,1348 1051,1347.7 1051.4,1345 1051.8,1344.8 1052.2,1344.6 1052.6,1347.5 1053,1347.5 1053.4,1343.4 1053.8,1342.7 1054.2,1344.9 1054.6,1346.7 1055,1344.6 1055.4,1345 1055.8,1344.4 1056.2,1344.3 1056.6,1342.7 1057,1343.3 1057.4,1343.2 1057.8,1341.4 1058.2,1343.9 1058.6,1338.7 1059,1339.2 1059.4,1337.7 1059.8,1340.2 1060.2,1339.3 1060.6,1334.9 1061,1334.5 1061.4,1331.3 1061.8,1327 1062.2,1324.6 1062.6,1322.8 1063,1318.9 1063.4,1310.4 1063.8,1302.2 1064.2,1291.5 1064.6,1278.3 1065,1256.5 1065.4,1227.8 1065.8,1198.3 1066.2,1175.7 1066.6,1149.9 1067,1124.8 1067.4,1102 1067.8,1079.9 1068.2,1058.3 1068.6,1045.8 1069,1050.1 1069.4,1080.4 1069.8,1110.4 1070.2,1143.1 1070.6,1178.5 1071,1207.1 1071.4,1207.8 1071.8,1204.6 1072.2,1200.1 1072.6,1197.3 1073,1210.3 1073.4,1231.3 1073.8,1268.4 1074.2,1290.5 1074.6,1304 1075,1315.5 1075.4,1318.6 1075.8,1322.8 1076.2,1326.6 1076.6,1331.9 1077,1336.7 1077.4,1339.5 1077.8,1341.7 1078.2,1341.9 1078.6,1344 1079,1344.6 1079.4,1342.4 1079.8,1345.6 1080.2,1346.1 1080.6,1345.3 1081,1348 1081.4,1346.6 1081.8,1345.6 1082.2,1348.7 1082.6,1350.3 1083,1345.6 1083.4,1347.6 1083.8,1349.3 1084.2,1348.9 1084.6,1349.7 1085,1350.2 1085.4,1345 1085.8,1349.2 1086.2,1345.3 1086.6,1346.4 1087,1346.2 1087.4,1348.8 1087.8,1345.2 1088.2,1348.2 1088.6,1345.4 1089,1351.3 1089.4,1347.1 1089.8,1348 1090.2,1346 1090.6,1347 1091,1350.2 1091.4,1348.4 1091.8,1346 1092.2,1347.1 1092.6,1347.7 1093,1350.9 1093.4,1347.8 1093.8,1348.7 1094.2,1349.8 1094.6,1352 1095,1349.1 1095.4,1346.2 1095.8,1346.3 1096.2,1350.9 1096.6,1348.7 1097,1344.7 1097.4,1347.1 1097.8,1347.2 1098.2,1347.4 1098.6,1349.1 1099,1349.1 1099.4,1350.2 1099.8,1344.8 1100.2,1348.5 1100.6,1347.6 1101,1346.2 1101.4,1349.4 1101.8,1345.7 1102.2,1345.6 1102.6,1350.7 1103,1348.7 1103.4,1349.4 1103.8,1350.2 1104.2,1345.8 1104.6,1350.3 1105,1348.2 1105.4,1348.9 1105.8,1349.4 1106.2,1349.1 1106.6,1347.3 1107,1348 1107.4,1348.3 1107.8,1349.8 1108.2,1344.2 1108.6,1350.4 1109,1346.4 1109.4,1351.7 1109.8,1348.8 1110.2,1351 1110.6,1347.6 1111,1351 1111.4,1348.7 1111.8,1348.7 1112.2,1348.8 1112.6,1343.8 1113,1345.5 1113.4,1345.3 1113.8,1348.2 1114.2,1347.6 1114.6,1349.4 1115,1348.6 1115.4,1350.1 1115.8,1346.8 1116.2,1348.6 1116.6,1347.2 1117,1346 1117.4,1345 1117.8,1347.8 1118.2,1346.4 1118.6,1347.1 1119,1346.4 1119.4,1346.1 1119.8,1352.8 1120.2,1348.1 1120.6,1345.7 1121,1347.6 1121.4,1348 1121.8,1345.5 1122.2,1349.8 1122.6,1346.4 1123,1348.9 1123.4,1347.2 1123.8,1346.6 1124.2,1353.5 1124.6,1346.9 1125,1345.3 1125.4,1347 1125.8,1346.2 1126.2,1349.8 1126.6,1348.7 1127,1345.9 1127.4,1350.9 1127.8,1347.5 1128.2,1345.7 1128.6,1349.8 1129,1349 1129.4,1346.2 1129.8,1346 1130.2,1347.6 1130.6,1346.8 1131,1348.9 1131.4,1348.4 1131.8,1345.9 1132.2,1346.1 1132.6,1347.5 1133,1350.1 1133.4,1346.8 1133.8,1348.9 1134.2,1346.8 1134.6,1348.7 1135,1346.9 1135.4,1348.6 1135.8,1346.4 1136.2,1346.6 1136.6,1351.2 1137,1349.5 1137.4,1345.7 1137.8,1349.9 1138.2,1347.6 1138.6,1350.2 1139,1345.6 1139.4,1347.7 1139.8,1347.1 1140.2,1346.7 1140.6,1345.9 1141,1351.2 1141.4,1347.9 1141.8,1347.3 1142.2,1345 1142.6,1349.8 1143,1349.8 1143.4,1347.6 1143.8,1345.5 1144.2,1348.9 1144.6,1347.9 1145,1345.4 1145.4,1351.5 1145.8,1349.2 1146.2,1346.2 1146.6,1346.5 1147,1349.3 1147.4,1350 1147.8,1348.9 1148.2,1348.8 1148.6,1347.3 1149,1351.5 1149.4,1347.5 1149.8,1348.4 1150.2,1348.6 1150.6,1347.5 1151,1349.3 1151.4,1350.7 1151.8,1344.2 1152.2,1347.6 1152.6,1350.2 1153,1350.4 1153.4,1347.2 1153.8,1349.2 1154.2,1348.3 1154.6,1348.3 1155,1346.9 1155.4,1349.7 1155.8,1350.1 1156.2,1350.8 1156.6,1348.5 1157,1348.3 1157.4,1350 1157.8,1353.7 1158.2,1347.6 1158.6,1347.9 1159,1351.1 1159.4,1346.1 1159.8,1343.7 1160.2,1349.7 1160.6,1350.5 1161,1350.3 1161.4,1349.8 1161.8,1349.9 1162.2,1346.9 1162.6,1349.9 1163,1346.3 1163.4,1345.4 1163.8,1347.7 1164.2,1345.8 1164.6,1346.2 1165,1346.9 1165.4,1347.3 1165.8,1348.3 1166.2,1346.3 1166.6,1347 1167,1347.8 1167.4,1348.3 1167.8,1348.8 1168.2,1349.4 1168.6,1348.4 1169,1348.8 1169.4,1349.2 1169.8,1348 1170.2,1348.3 1170.6,1346.5 1171,1348.4 1171.4,1349.7 1171.8,1346.9 1172.2,1350.3 1172.6,1347.1 1173,1349.9 1173.4,1350.9 1173.8,1348.4 1174.2,1347.4 1174.6,1348.8 1175,1347.3 1175.4,1346.5 1175.8,1349.8 1176.2,1344.7 1176.6,1349.6 1177,1346.7 1177.4,1349.6 1177.8,1347.2 1178.2,1351.2 1178.6,1347.2 1179,1344.2 1179.4,1353.1 1179.8,1348.1 1180.2,1347.8 1180.6,1348 1181,1347.5 1181.4,1348.5 1181.8,1346.7 1182.2,1351.8 1182.6,1346.8 1183,1349.1 1183.4,1350.3 1183.8,1347.6 1184.2,1349.5 1184.6,1347.1 1185,1346.3 1185.4,1346.6 1185.8,1349.9 1186.2,1349.8 1186.6,1346.4 1187,1349.8 1187.4,1346.4 1187.8,1348.3 1188.2,1349.2 1188.6,1344.5 1189,1349.1 1189.4,1347.5 1189.8,1345.4 1190.2,1349.2 1190.6,1348.5 1191,1348.6 1191.4,1347.5 1191.8,1346.8 1192.2,1345.7 1192.6,1347.6 1193,1346.2 1193.4,1347.2 1193.8,1348.7 1194.2,1349.3 1194.6,1348.7 1195,1348.5 1195.4,1347.5 1195.8,1349.6 1196.2,1350 1196.6,1347.1 1197,1347.2 1197.4,1346.3 1197.8,1347.5 1198.2,1347.2 1198.6,1351.3 1199,1350.3 1199.4,1345.6 1199.8,1349.3 1200.2,1347.6 1200.6,1345 1201,1348.4 1201.4,1346.8 1201.8,1348.5 1202.2,1348.9 1202.6,1346.8 1203,1350.5 1203.4,1348.2 1203.8,1346.6 1204.2,1345.1 1204.6,1351.8 1205,1346.6 1205.4,1348.1 1205.8,1348.5 1206.2,1349.5 1206.6,1345.6 1207,1343.8 1207.4,1348.1 1207.8,1345.4 1208.2,1347.5 1208.6,1351.5 1209,1346.9 1209.4,1349.1 1209.8,1346 1210.2,1353.1 1210.6,1347.3 1211,1348.6 1211.4,1347.7 1211.8,1346.9 1212.2,1349.8 1212.6,1347.5 1213,1346.3 1213.4,1347 1213.8,1347.4 1214.2,1348.1 1214.6,1348.1 1215,1346.5 1215.4,1347 1215.8,1351.5 1216.2,1347.4 1216.6,1350.2 1217,1347.1 1217.4,1348.5 1217.8,1346.8 1218.2,1344.4 1218.6,1346.9 1219,1349.4 1219.4,1350 1219.8,1349.7 1220.2,1346.9 1220.6,1347.3 1221,1345.8 1221.4,1348.3 1221.8,1349.2 1222.2,1348.2 1222.6,1346.5 1223,1348.5 1223.4,1348 1223.8,1348.6 1224.2,1347.5 1224.6,1348.2 1225,1346.6 1225.4,1346.4 1225.8,1343.4 1226.2,1348.2 1226.6,1348.1 1227,1346.2 1227.4,1350.5 1227.8,1349.9 1228.2,1350.8 1228.6,1347.6 1229,1347.4 1229.4,1348.4 1229.8,1349.5 1230.2,1350.5 1230.6,1346.2 1231,1347.6 1231.4,1344.4 1231.8,1347.4 1232.2,1349.5 1232.6,1349.1 1233,1352 1233.4,1349.1 1233.8,1347.2 1234.2,1346.6 1234.6,1348.4 1235,1350.8 1235.4,1345.7 1235.8,1346.2 1236.2,1348 1236.6,1347.3 1237,1349.5 1237.4,1347.1 1237.8,1348 1238.2,1347.9 1238.6,1348.3 1239,1350.3 1239.4,1345.7 1239.8,1344.9 1240.2,1345.3 1240.6,1347.4 1241,1348.1 1241.4,1348.8 1241.8,1348.4 1242.2,1348.1 1242.6,1344.8 1243,1346.8 1243.4,1348.6 1243.8,1345.8 1244.2,1347.1 1244.6,1347.1 1245,1348.8 1245.4,1346.4 1245.8,1345 1246.2,1347.3 1246.6,1347.4 1247,1349.3 1247.4,1346.9 1247.8,1347.5 1248.2,1347 1248.6,1347.1 1249,1351.5 1249.4,1343.5 1249.8,1348.9 1250.2,1346.5 1250.6,1348 1251,1345.2 1251.4,1348.2 1251.8,1346.5 1252.2,1348.9 1252.6,1350.3 1253,1345.7 1253.4,1345.1 1253.8,1349.9 1254.2,1351.3 1254.6,1347.9 1255,1344.3 1255.4,1345.2 1255.8,1349.6 1256.2,1350.9 1256.6,1347.7 1257,1345.6 1257.4,1349.9 1257.8,1345.5 1258.2,1346.7 1258.6,1346.8 1259,1346.8 1259.4,1348.8 1259.8,1346.2 1260.2,1348.2 1260.6,1349.8 1261,1349.8 1261.4,1350.2 1261.8,1347.3 1262.2,1344.9 1262.6,1348.2 1263,1348.3 1263.4,1348.4 1263.8,1347.2 1264.2,1348.7 1264.6,1346.1 1265,1349.3 1265.4,1351 1265.8,1348.1 1266.2,1348 1266.6,1349 1267,1348.9 1267.4,1348.9 1267.8,1348.3 1268.2,1347.4 1268.6,1350.6 1269,1345.9 1269.4,1349.9 1269.8,1346.4 1270.2,1348.7 1270.6,1346.3 1271,1345.2 1271.4,1346.1 1271.8,1346.2 1272.2,1350.2 1272.6,1346.9 1273,1346.7 1273.4,1346.2 1273.8,1347.8 1274.2,1347.9 1274.6,1348.9 1275,1346.7 1275.4,1345.8 1275.8,1347.8 1276.2,1349.4 1276.6,1349.2 1277,1346.2 1277.4,1347 1277.8,1348.5 1278.2,1346.9 1278.6,1345.5 1279,1348.2 1279.4,1347.3 1279.8,1348.4 1280.2,1349.4 1280.6,1347 1281,1345.9 1281.4,1346.6 1281.8,1349.2 1282.2,1348.1 1282.6,1349.2 1283,1347.3 1283.4,1349.2 1283.8,1347.1 1284.2,1346.8 1284.6,1347.9 1285,1347.7 1285.4,1347.5 1285.8,1348 1286.2,1349.6 1286.6,1346.7 1287,1344.9 1287.4,1348.6 1287.8,1351.2 1288.2,1349.7 1288.6,1345.9 1289,1348.7 1289.4,1349.8 1289.8,1349.5 1290.2,1351.1 1290.6,1349.4 1291,1343.1 1291.4,1348.9 1291.8,1346.6 1292.2,1346.3 1292.6,1345 1293,1345.7 1293.4,1347.3 1293.8,1349.8 1294.2,1349.9 1294.6,1349.1 1295,1350 1295.4,1347.2 1295.8,1346.5 1296.2,1351.2 1296.6,1348.7 1297,1347.3 1297.4,1349.2 1297.8,1346.6 1298.2,1350.6 1298.6,1345.7 1299,1347 1299.4,1347.6 1299.8,1347.6 1300.2,1345.8 1300.6,1349.4 1301,1349 1301.4,1348 1301.8,1348.9 1302.2,1347.1 1302.6,1349.6 1303,1346.9 1303.4,1346.1 1303.8,1347.6 1304.2,1347.6 1304.6,1348.5 1305,1349.1 1305.4,1350.9 1305.8,1345.6 1306.2,1345.2 1306.6,1348.4 1307,1350.2 1307.4,1349.7 1307.8,1347.8 1308.2,1347.6 1308.6,1347.5 1309,1351 1309.4,1347.6 1309.8,1348.5 1310.2,1345.9 1310.6,1349.6 1311,1347.8 1311.4,1347.6 1311.8,1347.5 1312.2,1347.8 1312.6,1352.7 1313,1349.1 1313.4,1349.2 1313.8,1346.7 1314.2,1345.6 1314.6,1344.3 1315,1347 1315.4,1348.3 1315.8,1348.4 1316.2,1345.5 1316.6,1349.1 1317,1347.1 1317.4,1350 1317.8,1347.6 1318.2,1348.1 1318.6,1346.8 1319,1346.9 1319.4,1348.1 1319.8,1349 1320.2,1349.3 1320.6,1346.8 1321,1345.9 1321.4,1348.8 1321.8,1350.2 1322.2,1347.2 1322.6,1347.3 1323,1347.3 1323.4,1348.6 1323.8,1349.7 1324.2,1346.4 1324.6,1348.8 1325,1350.5 1325.4,1349.1 1325.8,1346.7 1326.2,1345.6 1326.6,1348.1 1327,1350.4 1327.4,1349.4 1327.8,1350.5 1328.2,1347.4 1328.6,1348.2 1329,1346.7 1329.4,1349 1329.8,1347.7 1330.2,1346.7 1330.6,1347.4 1331,1349 1331.4,1349.6 1331.8,1349.4 1332.2,1352.1 1332.6,1349.4 1333,1346.5 1333.4,1349.9 1333.8,1346.7 1334.2,1346.2 1334.6,1349.3 1335,1347.1 1335.4,1348.1 1335.8,1347.3 1336.2,1347.8 1336.6,1345.2 1337,1349.7 1337.4,1350.2 1337.8,1347.7 1338.2,1350.3 1338.6,1349.6 1339,1350.2 1339.4,1350.7 1339.8,1346.1 1340.2,1349.5 1340.6,1347.9 1341,1349.4 1341.4,1347.7 1341.8,1351.7 1342.2,1351 1342.6,1348.1 1343,1348.9 1343.4,1348.6 1343.8,1348.6 1344.2,1349.8 1344.6,1346.5 1345,1345.8 1345.4,1350.1 1345.8,1348.8 1346.2,1347.4 1346.6,1347 1347,1345.7 1347.4,1347.7 1347.8,1345.2 1348.2,1348.4 1348.6,1348.6 1349,1347 1349.4,1349.9 1349.8,1349.4 1350.2,1348.5 1350.6,1346.9 1351,1347 1351.4,1346.5 1351.8,1344.8 1352.2,1348.1 1352.6,1349.3 1353,1345.5 1353.4,1348.7 1353.8,1347.7 1354.2,1348.3 1354.6,1349.3 1355,1349.6 1355.4,1346.9 1355.8,1349.3 1356.2,1347.3 1356.6,1343.7 1357,1351.5 1357.4,1348.1 1357.8,1347.5 1358.2,1350.3 1358.6,1348.8 1359,1347.1 1359.4,1348.4 1359.8,1348.6 1360.2,1347.7 1360.6,1344 1361,1348.3 1361.4,1346.4 1361.8,1346.2 1362.2,1348.1 1362.6,1351.7 1363,1346 1363.4,1348.5 1363.8,1345.5 1364.2,1345.3 1364.6,1347.4 1365,1349.6 1365.4,1348.5 1365.8,1348.5 1366.2,1350.1 1366.6,1348.8 1367,1347 1367.4,1346.4 1367.8,1347.5 1368.2,1348.6 1368.6,1347.4 1369,1347.6 1369.4,1347 1369.8,1346.6 1370.2,1346 1370.6,1346.6 1371,1351.1 1371.4,1349.8 1371.8,1350.4 1372.2,1348.2 1372.6,1347.8 1373,1349.4 1373.4,1347.4 1373.8,1350 1374.2,1348.2 1374.6,1349.4 1375,1346.7 1375.4,1351.1 1375.8,1348.4 1376.2,1349.2 1376.6,1346.7 1377,1346.8 1377.4,1349.2 1377.8,1345.2 1378.2,1350.1 1378.6,1347 1379,1349.7 1379.4,1346.9 1379.8,1347.9 1380.2,1348.2 1380.6,1349.6 1381,1346.6 1381.4,1349 1381.8,1348.5 1382.2,1349.3 1382.6,1346.6 1383,1348 1383.4,1346.8 1383.8,1347.4 1384.2,1349.8 1384.6,1350 1385,1346.4 1385.4,1347.7 1385.8,1347.9 1386.2,1346.4 1386.6,1347.3 1387,1346.2 1387.4,1349 1387.8,1346.4 1388.2,1350.4 1388.6,1344.7 1389,1349 1389.4,1349 1389.8,1346.9 1390.2,1345.1 1390.6,1348.3 1391,1345.9 1391.4,1349.9 1391.8,1348.2 1392.2,1348 1392.6,1348.2 1393,1349.3 1393.4,1348 1393.8,1348.9 1394.2,1348.6 1394.6,1347.1 1395,1349.9 1395.4,1350.7 1395.8,1349.9 1396.2,1348.2 1396.6,1349.1 1397,1346.2 1397.4,1346.6 1397.8,1346.5 1398.2,1347 1398.6,1349.4 1399,1346.6 1399.4,1346.9 1399.8,1345.4 1400.2,1346.8 1400.6,1345.1 1401,1349.5 1401.4,1347.7 1401.8,1349.5 1402.2,1350.3 1402.6,1348.8 1403,1348.5 1403.4,1348.2 1403.8,1347.2 1404.2,1344.3 1404.6,1348.3 1405,1346.8 1405.4,1346.3 1405.8,1347 1406.2,1347.9 1406.6,1349.1 1407,1346.3 1407.4,1345.8 1407.8,1349.8 1408.2,1348.9 1408.6,1349.3 1409,1347.5 1409.4,1345.6 1409.8,1350.2 1410.2,1350.1 1410.6,1346.9 1411,1348.7 1411.4,1349.8 1411.8,1352.2 1412.2,1350 1412.6,1348.9 1413,1347.6 1413.4,1347.2 1413.8,1347.9 1414.2,1346.9 1414.6,1349.1 1415,1348.2 1415.4,1347.6 1415.8,1346.3 1416.2,1348.2 1416.6,1347.4 1417,1348.7 1417.4,1346.4 1417.8,1349.2 1418.2,1347.8 1418.6,1351.3 1419,1346.7 1419.4,1351.4 1419.8,1352.9 1420.2,1348 1420.6,1351.5 1421,1350 1421.4,1346 1421.8,1347.1 1422.2,1349.8 1422.6,1348.6 1423,1349.6 1423.4,1348.8 1423.8,1350.6 1424.2,1347.7 1424.6,1346.3 1425,1347 1425.4,1348.1 1425.8,1346.6 1426.2,1348.1 1426.6,1347.8 1427,1347.6 1427.4,1348.1 1427.8,1347.5 1428.2,1349.8 1428.6,1348.3 1429,1349.4 1429.4,1345.7 1429.8,1348.2 1430.2,1347.3 1430.6,1344.8 1431,1351.6 1431.4,1345.9 1431.8,1349.5 1432.2,1349.4 1432.6,1350.1 1433,1347.4 1433.4,1343.8 1433.8,1349.2 1434.2,1347.9 1434.6,1349.2 1435,1347.9 1435.4,1350.3 1435.8,1349 1436.2,1347.5 1436.6,1352.2 1437,1347.1 1437.4,1344.4 1437.8,1348.3 1438.2,1349 1438.6,1349.1 1439,1347.2 1439.4,1348.1 1439.8,1346.7 1440.2,1347.4 1440.6,1349.3 1441,1347.3 1441.4,1349.4 1441.8,1347.7 1442.2,1348.3 1442.6,1347.6 1443,1350.1 1443.4,1348.3 1443.8,1346.8 1444.2,1348.4 1444.6,1350.1 1445,1348.6 1445.4,1346.4 1445.8,1346.9 1446.2,1346.4 1446.6,1350.4 1447,1348.4 1447.4,1349.6 1447.8,1349.5 1448.2,1347.6 1448.6,1350 1449,1347.9 1449.4,1348.7 1449.8,1344.7 1450.2,1347.9 1450.6,1347.4 1451,1346.8 1451.4,1348.4 1451.8,1345.9 1452.2,1347.6 1452.6,1343.7 1453,1347.6 1453.4,1346.8 1453.8,1350.9 1454.2,1348.3 1454.6,1349 1455,1343.1 1455.4,1347.3 1455.8,1346 1456.2,1350.2 1456.6,1349.6 1457,1348.2 1457.4,1348.3 1457.8,1348.2 1458.2,1347.9 1458.6,1349.1 1459,1349 1459.4,1347.7 1459.8,1346.7 1460.2,1350.7 1460.6,1347.3 1461,1346.8 1461.4,1351.9 1461.8,1348.2 1462.2,1347.7 1462.6,1345.7 1463,1346.3 1463.4,1350.3 1463.8,1347.5 1464.2,1350 1464.6,1346.2 1465,1349.4 1465.4,1348.3 1465.8,1347.4 1466.2,1345.1 1466.6,1350.4 1467,1348.3 1467.4,1348.1 1467.8,1349.6 1468.2,1346.4 1468.6,1350.5 1469,1349.5 1469.4,1349.1 1469.8,1349.2 1470.2,1347 1470.6,1347.9 1471,1348.9 1471.4,1347.3 1471.8,1350.5 1472.2,1349.6 1472.6,1350.6 1473,1345.6 1473.4,1350.8 1473.8,1347.4 1474.2,1346.9 1474.6,1347.7 1475,1350.6 1475.4,1349 1475.8,1348.9 1476.2,1349.9 1476.6,1350 1477,1350.1 1477.4,1349.8 1477.8,1348.7 1478.2,1349.1 1478.6,1345.9 1479,1347.9 1479.4,1344.5 1479.8,1348 1480.2,1348.3 1480.6,1346.9 1481,1347.3 1481.4,1349.9 1481.8,1347.6 1482.2,1348.2 1482.6,1351.4 1483,1348.7 1483.4,1349.7 1483.8,1348.9 1484.2,1349.1 1484.6,1350.1 1485,1347.8 1485.4,1349.4 1485.8,1347.3 1486.2,1347.4 1486.6,1349.2 1487,1347.1 1487.4,1343.7 1487.8,1347.7 1488.2,1350.3 1488.6,1346.4 1489,1349.1 1489.4,1347.4 1489.8,1345.5 1490.2,1347.5 1490.6,1344.2 1491,1350 1491.4,1347.4 1491.8,1348.7 1492.2,1348 1492.6,1345.5 1493,1347.3 1493.4,1350 1493.8,1349.4 1494.2,1347.4 1494.6,1346.8 1495,1347.9 1495.4,1345.8 1495.8,1348.4 1496.2,1345.2 1496.6,1346.7 1497,1349.4 1497.4,1348 1497.8,1346.9 1498.2,1348.2 1498.6,1347.5 1499,1348.4 1499.4,1349.8 1499.8,1347.8 1500.2,1345.1 1500.6,1348.7 1501,1346.6 1501.4,1349.9 1501.8,1349.6 1502.2,1348 1502.6,1348.8 1503,1345.5 1503.4,1345.1 1503.8,1347.4 1504.2,1348.6 1504.6,1350.3 1505,1346.9 1505.4,1346.4 1505.8,1346.6 1506.2,1346.7 1506.6,1348.3 1507,1345.6 1507.4,1349.3 1507.8,1345.8 1508.2,1351.8 1508.6,1347.8 1509,1348.1 1509.4,1345.2 1509.8,1348.5 1510.2,1344.8 1510.6,1349.4 1511,1346.9 1511.4,1348.4 1511.8,1348.8 1512.2,1349.6 1512.6,1350.3 1513,1349.9 1513.4,1349.2 1513.8,1347 1514.2,1346.1 1514.6,1349.2 1515,1348.5 1515.4,1347.1 1515.8,1347.9 1516.2,1349.6 1516.6,1349.5 1517,1347 1517.4,1345.8 1517.8,1344.8 1518.2,1347.2 1518.6,1347.5 1519,1345.8 1519.4,1349.8 1519.8,1351.2 1520.2,1346.7 1520.6,1349.2 1521,1347.8 1521.4,1349 1521.8,1348.3 1522.2,1347.9 1522.6,1349.6 1523,1349.2 1523.4,1347.3 1523.8,1348.8 1524.2,1347 1524.6,1347.9 1525,1349 1525.4,1348.8 1525.8,1345.4 1526.2,1349 1526.6,1346 1527,1348.4 1527.4,1349.2 1527.8,1345.5 1528.2,1346.2 1528.6,1349.4 1529,1348.5 1529.4,1344.5 1529.8,1349.6 1530.2,1347 1530.6,1346 1531,1348.4 1531.4,1347 1531.8,1348.1 1532.2,1348.4 1532.6,1352.1 1533,1349.6 1533.4,1348.4 1533.8,1348.2 1534.2,1348.6 1534.6,1348.8 1535,1347 1535.4,1348.9 1535.8,1346.9 1536.2,1347.1 1536.6,1347.9 1537,1349.7 1537.4,1349.4 1537.8,1343.1 1538.2,1350 1538.6,1348.1 1539,1348.1 1539.4,1350.4 1539.8,1346.8 1540.2,1346.3 1540.6,1344.7 1541,1346 1541.4,1349.4 1541.8,1346.6 1542.2,1346.3 1542.6,1348.6 1543,1346.3 1543.4,1346.7 1543.8,1346.6 1544.2,1348.6 1544.6,1346.8 1545,1347.1 1545.4,1347.7 1545.8,1344.9 1546.2,1347.5 1546.6,1344.9 1547,1345.9 1547.4,1347.2 1547.8,1348.1 1548.2,1347.5 1548.6,1349.7 1549,1348.1 1549.4,1348.9 1549.8,1347.1 1550.2,1346.9 1550.6,1350.7 1551,1345.2 1551.4,1349.9 1551.8,1346.7 1552.2,1349 1552.6,1345.8 1553,1348.8 1553.4,1348.5 1553.8,1344.4 1554.2,1346.9 1554.6,1349 1555,1349.6 1555.4,1348.4 1555.8,1347 1556.2,1347.8 1556.6,1345.8 1557,1346.3 1557.4,1348.3 1557.8,1347.9 1558.2,1349.1 1558.6,1348.2 1559,1348.9 1559.4,1347.8 1559.8,1349 1560.2,1352 1560.6,1346.3 1561,1348.2 1561.4,1347.2 1561.8,1348.8 1562.2,1348.7 1562.6,1346.6 1563,1348.2 1563.4,1348.3 1563.8,1347.8 1564.2,1348.5 1564.6,1350.3 1565,1349 1565.4,1347.6 1565.8,1348.4 1566.2,1351.3 1566.6,1347 1567,1349.9 1567.4,1346.9 1567.8,1345.3 1568.2,1346.8 1568.6,1348.6 1569,1347.6 1569.4,1346.8 1569.8,1346.7 1570.2,1346.4 1570.6,1346.2 1571,1347 1571.4,1343.8 1571.8,1348.7 1572.2,1348.5 1572.6,1348.2 1573,1349.5 1573.4,1347 1573.8,1348 1574.2,1343.6 1574.6,1348.3 1575,1347.3 1575.4,1349 1575.8,1349.4 1576.2,1347.7 1576.6,1345.9 1577,1348.5 1577.4,1349.4 1577.8,1349.5 1578.2,1347.1 1578.6,1346.4 1579,1347.5 1579.4,1346.2 1579.8,1344.4 1580.2,1348.6 1580.6,1348.7 1581,1349 1581.4,1346.5 1581.8,1347.9 1582.2,1345.9 1582.6,1345.5 1583,1348.7 1583.4,1344.9 1583.8,1347.4 1584.2,1351.9 1584.6,1350 1585,1349.1 1585.4,1349 1585.8,1347.6 1586.2,1347 1586.6,1351.3 1587,1347.6 1587.4,1347 1587.8,1349.1 1588.2,1347.9 1588.6,1350.1 1589,1346.9 1589.4,1346.6 1589.8,1347.3 1590.2,1350.6 1590.6,1349.5 1591,1348.4 1591.4,1348.1 1591.8,1348.6 1592.2,1346.4 1592.6,1348.8 1593,1347.2 1593.4,1348.4 1593.8,1348 1594.2,1348.5 1594.6,1347.2 1595,1349.6 1595.4,1348.6 1595.8,1346.7 1596.2,1348.7 1596.6,1347.4 1597,1348.6 1597.4,1349.4 1597.8,1347.2 1598.2,1348 1598.6,1348.1 1599,1348.1 1599.4,1351.4 1599.8,1348.6 1600.2,1346.1 1600.6,1348.2 1601,1347.1 1601.4,1352.1 1601.8,1347 1602.2,1346.2 1602.6,1349.2 1603,1347.1 1603.4,1347.4 1603.8,1347.6 1604.2,1346.9 1604.6,1347.3 1605,1344.4 1605.4,1347.9 1605.8,1349.1 1606.2,1351.1 1606.6,1348.1 1607,1349.4 1607.4,1346.8 1607.8,1350.5 1608.2,1351.8 1608.6,1348.6 1609,1347.5 1609.4,1348.1 1609.8,1350.6 1610.2,1346 1610.6,1350.2 1611,1346.4 1611.4,1346.7 1611.8,1348.5 1612.2,1349.1 1612.6,1349.4 1613,1350 1613.4,1345.6 1613.8,1347.4 1614.2,1348.4 1614.6,1347.4 1615,1348.6 1615.4,1346.6 1615.8,1345.9 1616.2,1342.4 1616.6,1342.8 1617,1347.1 1617.4,1343.7 1617.8,1345.9 1618.2,1346.3 1618.6,1344.8 1619,1346.5 1619.4,1343.5 1619.8,1345.4 1620.2,1344 1620.6,1341.5 1621,1340.5 1621.4,1343.3 1621.8,1346.2 1622.2,1345.2 1622.6,1343.9 1623,1344.3 1623.4,1344.3 1623.8,1342.2 1624.2,1344.6 1624.6,1342.7 1625,1341.2 1625.4,1348.3 1625.8,1342.7 1626.2,1341.2 1626.6,1342.4 1627,1338.8 1627.4,1338.5 1627.8,1343.4 1628.2,1340.9 1628.6,1337.7 1629,1336.5 1629.4,1338.6 1629.8,1336.5 1630.2,1339.9 1630.6,1333.8 1631,1338.2 1631.4,1333.3 1631.8,1331.7 1632.2,1331.3 1632.6,1320 1633,1307.2 1633.4,1291.1 1633.8,1270.9 1634.2,1251.9 1634.6,1229 1635,1194.5 1635.4,1152.3 1635.8,1096.3 1636.2,1039.7 1636.6,986.8 1637,929.6 1637.4,871.2 1637.8,843.8 1638.2,857.4 1638.6,909.4 1639,975 1639.4,1017.3 1639.8,1052.3 1640.2,1080.6 1640.6,1101 1641,1123.2 1641.4,1133.2 1641.8,1130.9 1642.2,1124.3 1642.6,1114.3 1643,1105.3 1643.4,1093 1643.8,1080 1644.2,1076.7 1644.6,1076.1 1645,1081.8 1645.4,1098 1645.8,1120.2 1646.2,1149 1646.6,1197.1 1647,1261.8 1647.4,1299.9 1647.8,1320.8 1648.2,1326.9 1648.6,1337.4 1649,1332.9 1649.4,1335.8 1649.8,1335.7 1650.2,1338.1 1650.6,1339.4 1651,1342.9 1651.4,1341.4 1651.8,1338.6 1652.2,1340.6 1652.6,1340.8 1653,1339.8 1653.4,1342.2 1653.8,1342 1654.2,1341.1 1654.6,1340.9 1655,1343.5 1655.4,1342.4 1655.8,1344.8 1656.2,1344.5 1656.6,1341.2 1657,1339.8 1657.4,1343.7 1657.8,1342.7 1658.2,1342.2 1658.6,1343 1659,1346.9 1659.4,1344.3 1659.8,1348.1 1660.2,1346.4 1660.6,1342.4 1661,1346.4 1661.4,1348.4 1661.8,1343.1 1662.2,1344.2 1662.6,1346.4 1663,1345.9 1663.4,1349.9 1663.8,1345.8 1664.2,1350.4 1664.6,1345.4 1665,1346.5 1665.4,1348.6 1665.8,1348.9 1666.2,1348.3 1666.6,1350.7 1667,1351.1 1667.4,1351.4 1667.8,1347.8 1668.2,1349.5 1668.6,1347.6 1669,1350.5 1669.4,1344.1 1669.8,1346.9 1670.2,1347.7 1670.6,1347.2 1671,1350.7 1671.4,1345.7 1671.8,1346.6 1672.2,1346 1672.6,1348 1673,1346.5 1673.4,1349.6 1673.8,1349.5 1674.2,1344.4 1674.6,1344.4 1675,1349.4 1675.4,1348.7 1675.8,1345.3 1676.2,1348 1676.6,1345.9 1677,1349.4 1677.4,1345.8 1677.8,1347 1678.2,1348.8 1678.6,1348.1 1679,1349.8 1679.4,1348.7 1679.8,1345.5 1680.2,1348.4 1680.6,1346.1 1681,1350.5 1681.4,1350.7 1681.8,1350 1682.2,1351.8 1682.6,1349.4 1683,1350.5 1683.4,1349.6 1683.8,1349.5 1684.2,1349.5 1684.6,1348.5 1685,1351.1 1685.4,1346.2 1685.8,1345.3 1686.2,1346.7 1686.6,1350.7 1687,1347.6 1687.4,1346.6 1687.8,1346.6 1688.2,1348.8 1688.6,1347.9 1689,1350.1 1689.4,1347.5 1689.8,1349.6 1690.2,1346.5 1690.6,1348.9 1691,1353.2 1691.4,1347.7 1691.8,1347.8 1692.2,1349.7 1692.6,1346.3 1693,1347.2 1693.4,1347.1 1693.8,1348.5 1694.2,1345.7 1694.6,1350.5 1695,1348.3 1695.4,1348.3 1695.8,1347.7 1696.2,1348 1696.6,1344.1 1697,1350.2 1697.4,1346.5 1697.8,1349.4 1698.2,1347.8 1698.6,1347.7 1699,1348.9 1699.4,1350.9 1699.8,1347.9 1700.2,1347 1700.6,1348.8 1701,1343.8 1701.4,1346.6 1701.8,1346.3 1702.2,1347.4 1702.6,1345.7 1703,1349.5 1703.4,1347.5 1703.8,1348.3 1704.2,1348 1704.6,1347.5 1705,1346.9 1705.4,1350.2 1705.8,1349.4 1706.2,1350.6 1706.6,1347.7 1707,1348.5 1707.4,1348.6 1707.8,1347.5 1708.2,1348 1708.6,1345.3 1709,1346 1709.4,1346.5 1709.8,1346.1 1710.2,1348.8 1710.6,1348.6 1711,1348.7 1711.4,1347.6 1711.8,1349.7 1712.2,1349.6 1712.6,1349 1713,1347.5 1713.4,1350.7 1713.8,1346 1714.2,1345.2 1714.6,1345.8 1715,1350.1 1715.4,1348.2 1715.8,1347 1716.2,1344.1 1716.6,1347.6 1717,1346.3 1717.4,1344.5 1717.8,1349.9 1718.2,1348.1 1718.6,1350.4 1719,1348 1719.4,1349 1719.8,1346.8 1720.2,1349.1 1720.6,1347.3 1721,1349.1 1721.4,1348.4 1721.8,1346.2 1722.2,1348.1 1722.6,1348.3 1723,1346.8 1723.4,1347.8 1723.8,1349.6 1724.2,1350.1 1724.6,1348.1 1725,1344.2 1725.4,1349.3 1725.8,1351.2 1726.2,1347.6 1726.6,1346.6 1727,1348.5 1727.4,1348.4 1727.8,1349.5 1728.2,1347 1728.6,1351 1729,1349.6 1729.4,1346.3 1729.8,1349.8 1730.2,1347.8 1730.6,1349.2 1731,1348.7 1731.4,1348.1 1731.8,1348.6 1732.2,1347.3 1732.6,1346.8 1733,1347.6 1733.4,1347.6 1733.8,1348.7 1734.2,1348.4 1734.6,1345.3 1735,1349.5 1735.4,1348 1735.8,1349.5 1736.2,1349.2 1736.6,1348.5 1737,1349 1737.4,1345.6 1737.8,1350.7 1738.2,1351.3 1738.6,1349.1 1739,1347.2 1739.4,1349.2 1739.8,1347.5 1740.2,1350.8 1740.6,1347.3 1741,1346.1 1741.4,1346.6 1741.8,1346.8 1742.2,1349.3 1742.6,1348 1743,1348.5 1743.4,1347.5 1743.8,1350.3 1744.2,1348.1 1744.6,1348.4 1745,1350.7 1745.4,1348.6 1745.8,1347.2 1746.2,1347.6 1746.6,1350 1747,1348.7 1747.4,1346.8 1747.8,1350.1 1748.2,1345.6 1748.6,1344.4 1749,1346.4 1749.4,1344.9 1749.8,1347.7 1750.2,1348.1 1750.6,1347.6 1751,1347.1 1751.4,1346.3 1751.8,1349.6 1752.2,1344.7 1752.6,1349.3 1753,1348.5 1753.4,1347.9 1753.8,1348.8 1754.2,1345.4 1754.6,1349.7 1755,1348.9 1755.4,1349.9 1755.8,1344.6 1756.2,1348.5 1756.6,1347.8 1757,1344.1 1757.4,1347.5 1757.8,1348.1 1758.2,1346.7 1758.6,1348.7 1759,1349 1759.4,1347.3 1759.8,1347.5 1760.2,1349.4 1760.6,1346.4 1761,1348.9 1761.4,1350.3 1761.8,1348 1762.2,1348.7 1762.6,1348.1 1763,1349.4 1763.4,1345.5 1763.8,1345.1 1764.2,1346.6 1764.6,1347 1765,1349.7 1765.4,1350.4 1765.8,1349 1766.2,1350.2 1766.6,1347.3 1767,1347.1 1767.4,1345.4 1767.8,1350 1768.2,1348.9 1768.6,1348 1769,1345.7 1769.4,1346.3 1769.8,1348.9 1770.2,1348 1770.6,1349.9 1771,1348.3 1771.4,1346.8 1771.8,1346 1772.2,1348 1772.6,1350.8 1773,1351.4 1773.4,1346.8 1773.8,1348.9 1774.2,1346.8 1774.6,1348.5 1775,1343.2 1775.4,1346.9 1775.8,1344.9 1776.2,1350.5 1776.6,1347.4 1777,1348.8 1777.4,1348.1 1777.8,1345.7 1778.2,1349.1 1778.6,1349.9 1779,1348.4 1779.4,1349 1779.8,1349.9 1780.2,1349 1780.6,1347.8 1781,1345.2 1781.4,1346.6 1781.8,1346.7 1782.2,1349.3 1782.6,1350.3 1783,1348.1 1783.4,1349.7 1783.8,1344 1784.2,1348.5 1784.6,1346 1785,1349.6 1785.4,1350.2 1785.8,1350 1786.2,1349.4 1786.6,1350 1787,1351.1 1787.4,1347.2 1787.8,1350.8 1788.2,1347.5 1788.6,1345.8 1789,1349.1 1789.4,1349.4 1789.8,1348.7 1790.2,1347 1790.6,1349.2 1791,1347.7 1791.4,1352.3 1791.8,1348.7 1792.2,1348.8 1792.6,1347.3 1793,1349.2 1793.4,1351 1793.8,1346.9 1794.2,1347.5 1794.6,1344.9 1795,1348 1795.4,1350.9 1795.8,1346.1 1796.2,1347.4 1796.6,1346.8 1797,1347.6 1797.4,1346.8 1797.8,1347.5 1798.2,1346.2 1798.6,1348.4 1799,1349.7 1799.4,1349.4 1799.8,1344.9 1800.2,1350.3 1800.6,1349.3 1801,1350 1801.4,1346.6 1801.8,1347.1 1802.2,1349.2 1802.6,1351 1803,1346.5 1803.4,1348.5 1803.8,1348.8 1804.2,1347.5 1804.6,1348.7 1805,1347.2 1805.4,1350.2 1805.8,1345.3 1806.2,1348.6 1806.6,1347.2 1807,1348 1807.4,1346.5 1807.8,1343 1808.2,1350.6 1808.6,1349.3 1809,1348.8 1809.4,1348 1809.8,1348.6 1810.2,1347.6 1810.6,1348.3 1811,1350.5 1811.4,1347 1811.8,1346.6 1812.2,1351.3 1812.6,1347.3 1813,1348.5 1813.4,1347.8 1813.8,1349.1 1814.2,1349.2 1814.6,1348.3 1815,1346.5 1815.4,1346.5 1815.8,1348.2 1816.2,1351.2 1816.6,1345.1 1817,1347.9 1817.4,1348.9 1817.8,1347.1 1818.2,1348.5 1818.6,1347.9 1819,1349.4 1819.4,1350.9 1819.8,1347.6 1820.2,1348.6 1820.6,1348.8 1821,1348.4 1821.4,1348.1 1821.8,1344.5 1822.2,1348.2 1822.6,1346.3 1823,1347.3 1823.4,1348.8 1823.8,1349 1824.2,1347.3 1824.6,1347.3 1825,1347.6 1825.4,1346.3 1825.8,1350.7 1826.2,1351 1826.6,1347.7 1827,1350.8 1827.4,1349.4 1827.8,1346.2 1828.2,1349.6 1828.6,1349.2 1829,1348.3 1829.4,1345.6 1829.8,1347 1830.2,1344.2 1830.6,1348 1831,1347.5 1831.4,1346.2 1831.8,1345.9 1832.2,1350.3 1832.6,1345.5 1833,1349.3 1833.4,1348.2 1833.8,1350.1 1834.2,1345.3 1834.6,1348.2 1835,1350.1 1835.4,1347.8 1835.8,1345.6 1836.2,1344.7 1836.6,1346.8 1837,1349.7 1837.4,1350.6 1837.8,1348.1 1838.2,1349.5 1838.6,1349.7 1839,1349.1 1839.4,1346.6 1839.8,1349.3 1840.2,1346.3 1840.6,1348.2 1841,1349.4 1841.4,1349.9 1841.8,1347.8 1842.2,1350 1842.6,1350.6 1843,1349.7 1843.4,1348 1843.8,1348.6 1844.2,1348.1 1844.6,1348.2 1845,1349.3 1845.4,1349.9 1845.8,1348.1 1846.2,1349.3 1846.6,1348.5 1847,1348.3 1847.4,1346.4 1847.8,1348.7 1848.2,1347.9 1848.6,1348.6 1849,1349.8 1849.4,1349.4 1849.8,1349.3 1850.2,1347.2 1850.6,1345.4 1851,1347.4 1851.4,1348 1851.8,1348.4 1852.2,1350.3 1852.6,1348.6 1853,1350.5 1853.4,1347.4 1853.8,1346.2 1854.2,1349.5 1854.6,1346.2 1855,1345.4 1855.4,1347.1 1855.8,1348.6 1856.2,1349.9 1856.6,1348.1 1857,1349.6 1857.4,1348 1857.8,1345.3 1858.2,1346.2 1858.6,1345.3 1859,1347.7 1859.4,1344.6 1859.8,1345.7 1860.2,1346.7 1860.6,1349.6 1861,1348.9 1861.4,1347.4 1861.8,1348.4 1862.2,1347.6 1862.6,1352.6 1863,1345.2 1863.4,1344.6 1863.8,1344.8 1864.2,1345.6 1864.6,1347.4 1865,1349.6 1865.4,1347.6 1865.8,1347.5 1866.2,1347.7 1866.6,1348.3 1867,1346.4 1867.4,1349 1867.8,1347.9 1868.2,1348.4 1868.6,1348.9 1869,1348.9 1869.4,1349.3 1869.8,1346.5 1870.2,1348.7 1870.6,1345.3 1871,1344.4 1871.4,1347.3 1871.8,1348.6 1872.2,1348.7 1872.6,1348.5 1873,1349.3 1873.4,1345 1873.8,1347 1874.2,1347.5 1874.6,1346.6 1875,1348.5 1875.4,1348.9 1875.8,1348.4 1876.2,1348.1 1876.6,1351.8 1877,1348 1877.4,1348 1877.8,1349.9 1878.2,1351 1878.6,1346.4 1879,1346.3 1879.4,1350.2 1879.8,1349.8 1880.2,1349.3 1880.6,1347.5 1881,1349 1881.4,1345.6 1881.8,1346 1882.2,1350.5 1882.6,1345.9 1883,1347.7 1883.4,1349 1883.8,1348.5 1884.2,1346.1 1884.6,1347 1885,1348.9 1885.4,1347.2 1885.8,1350.7 1886.2,1347.7 1886.6,1351 1887,1347.9 1887.4,1350 1887.8,1348.7 1888.2,1348 1888.6,1345.7 1889,1348.9 1889.4,1348.1 1889.8,1348.5 1890.2,1347 1890.6,1346.4 1891,1346.3 1891.4,1347.7 1891.8,1349.4 1892.2,1347.3 1892.6,1346 1893,1346.5 1893.4,1346 1893.8,1345.2 1894.2,1347.2 1894.6,1346.8 1895,1347.3 1895.4,1351 1895.8,1349.4 1896.2,1350.3 1896.6,1347.9 1897,1348.3 1897.4,1346.6 1897.8,1345 1898.2,1345.3 1898.6,1347.3 1899,1348.7 1899.4,1351.6 1899.8,1347.8 1900.2,1345.3 1900.6,1347.3 1901,1348.7 1901.4,1346 1901.8,1347.1 1902.2,1348.7 1902.6,1348.1 1903,1348.6 1903.4,1348 1903.8,1347.9 1904.2,1350.2 1904.6,1349.4 1905,1348.3 1905.4,1348.8 1905.8,1347.8 1906.2,1347.8 1906.6,1348.6 1907,1348.3 1907.4,1352.2 1907.8,1348.4 1908.2,1348.7 1908.6,1351.5 1909,1346.5 1909.4,1348.2 1909.8,1350.1 1910.2,1348.4 1910.6,1347.9 1911,1346.6 1911.4,1348 1911.8,1346.8 1912.2,1349.8 1912.6,1349 1913,1347.5 1913.4,1349.9 1913.8,1346.3 1914.2,1346.6 1914.6,1349.3 1915,1348.5 1915.4,1346.1 1915.8,1346.8 1916.2,1347.6 1916.6,1347 1917,1348.4 1917.4,1347.8 1917.8,1348.8 1918.2,1347.9 1918.6,1348.6 1919,1347.3 1919.4,1348.6 1919.8,1348.6 1920.2,1349.2 1920.6,1348.6 1921,1347.4 1921.4,1347.9 1921.8,1350.2 1922.2,1347.6 1922.6,1348.1 1923,1350.6 1923.4,1349.1 1923.8,1349.1 1924.2,1346.6 1924.6,1346.5 1925,1348.5 1925.4,1351.5 1925.8,1345 1926.2,1345.2 1926.6,1348.9 1927,1348.4 1927.4,1346.4 1927.8,1349.5 1928.2,1348.3 1928.6,1347.2 1929,1347.9 1929.4,1347.1 1929.8,1348.5 1930.2,1346.8 1930.6,1346.1 1931,1346.8 1931.4,1348.6 1931.8,1349.8 1932.2,1346.9 1932.6,1346.3 1933,1348.5 1933.4,1349.8 1933.8,1347.4 1934.2,1350.5 1934.6,1346.7 1935,1350.3 1935.4,1349.1 1935.8,1345.2 1936.2,1348.9 1936.6,1347.6 1937,1347.7 1937.4,1346.8 1937.8,1348 1938.2,1346.9 1938.6,1348.2 1939,1349.7 1939.4,1350.2 1939.8,1349.8 1940.2,1349.4 1940.6,1348.7 1941,1347.7 1941.4,1346.2 1941.8,1349.6 1942.2,1347.3 1942.6,1348.3 1943,1345.7 1943.4,1348.7 1943.8,1350.2 1944.2,1347.8 1944.6,1349.5 1945,1347.7 1945.4,1348.3 1945.8,1347.2 1946.2,1343.6 1946.6,1348.6 1947,1348.8 1947.4,1348.9 1947.8,1350.8 1948.2,1349.5 1948.6,1348.7 1949,1346.9 1949.4,1352.8 1949.8,1345.8 1950.2,1347.4 1950.6,1347.2 1951,1349.8 1951.4,1348.5 1951.8,1348.9 1952.2,1345.1 1952.6,1347.1 1953,1349.7 1953.4,1347.2 1953.8,1346 1954.2,1348.3 1954.6,1347 1955,1348 1955.4,1348.6 1955.8,1346.4 1956.2,1347.9 1956.6,1350.2 1957,1347.6 1957.4,1347.7 1957.8,1347.1 1958.2,1348.6 1958.6,1348.9 1959,1346.6 1959.4,1348.2 1959.8,1350.8 1960.2,1345.3 1960.6,1349.7 1961,1349.5 1961.4,1345.5 1961.8,1345.3 1962.2,1347.1 1962.6,1350.3 1963,1347 1963.4,1348.1 1963.8,1348.2 1964.2,1347.9 1964.6,1351.3 1965,1348.5 1965.4,1346.1 1965.8,1348.5 1966.2,1349.1 1966.6,1346.2 1967,1348.3 1967.4,1347 1967.8,1345.8 1968.2,1346.5 1968.6,1349.3 1969,1347.7 1969.4,1345.3 1969.8,1349.2 1970.2,1347.5 1970.6,1343.1 1971,1346.2 1971.4,1344.1 1971.8,1347 1972.2,1352.6 1972.6,1351.4 1973,1348.4 1973.4,1346.6 1973.8,1346 1974.2,1346.8 1974.6,1348.4 1975,1350.1 1975.4,1348.1 1975.8,1350.1 1976.2,1347.8 1976.6,1344.5 1977,1348.5 1977.4,1349.7 1977.8,1349 1978.2,1349.8 1978.6,1346.5 1979,1347.6 1979.4,1348.1 1979.8,1348.6 1980.2,1349 1980.6,1349.7 1981,1347.3 1981.4,1346.3 1981.8,1347.3 1982.2,1347.7 1982.6,1347.3 1983,1346.5 1983.4,1349.5 1983.8,1349.6 1984.2,1349.7 1984.6,1349.3 1985,1348.9 1985.4,1347.3 1985.8,1347.4 1986.2,1348.5 1986.6,1344.9 1987,1348.4 1987.4,1344.7 1987.8,1351.1 1988.2,1349.1 1988.6,1347 1989,1348 1989.4,1347.2 1989.8,1350.6 1990.2,1349.9 1990.6,1348.2 1991,1347.2 1991.4,1349 1991.8,1348.5 1992.2,1348 1992.6,1347.2 1993,1345.5 1993.4,1345.8 1993.8,1346.8 1994.2,1345.3 1994.6,1346.5 1995,1351 1995.4,1348.1 1995.8,1349.1 1996.2,1346.9 1996.6,1350.1 1997,1348 1997.4,1349 1997.8,1349.4 1998.2,1348.2 1998.6,1350.6 1999,1345.7 1999.4,1346.5 1999.8,1347.7 2000.2,1346.6 2000.6,1347.3 2001,1350 2001.4,1345.7 2001.8,1346.5 2002.2,1345 2002.6,1344.3 2003,1342.2 2003.4,1346 2003.8,1347.3 2004.2,1344.8 2004.6,1346.6 2005,1342.1 2005.4,1343.8 2005.8,1343.6 2006.2,1344.9 2006.6,1343.5 2007,1344 2007.4,1345.3 2007.8,1340.8 2008.2,1342.1 2008.6,1342.6 2009,1340.5 2009.4,1341.9 2009.8,1337.9 2010.2,1338.7 2010.6,1339.5 2011,1336.4 2011.4,1342.5 2011.8,1341.4 2012.2,1339.8 2012.6,1338.4 2013,1337.7 2013.4,1334.7 2013.8,1333.6 2014.2,1329.2 2014.6,1332.6 2015,1328.8 2015.4,1323.6 2015.8,1323 2016.2,1321.9 2016.6,1311.8 2017,1303.8 2017.4,1288.7 2017.8,1277.2 2018.2,1258.8 2018.6,1228.4 2019,1197.6 2019.4,1159.6 2019.8,1101.8 2020.2,1024.8 2020.6,953.2 2021,884.8 2021.4,845.9 2021.8,872.8 2022.2,930.1 2022.6,979.6 2023,1024.1 2023.4,1061.9 2023.8,1080.2 2024.2,1097 2024.6,1109.5 2025,1115.4 2025.4,1112.3 2025.8,1108.8 2026.2,1101.8 2026.6,1096.6 2027,1092.1 2027.4,1085.4 2027.8,1088 2028.2,1095.5 2028.6,1113.1 2029,1135.5 2029.4,1168.6 2029.8,1227.3 2030.2,1271.9 2030.6,1285.4 2031,1300 2031.4,1308.9 2031.8,1314.8 2032.2,1318.3 2032.6,1321.6 2033,1325.9 2033.4,1327.8 2033.8,1333.2 2034.2,1332.8 2034.6,1334.3 2035,1337.3 2035.4,1337.2 2035.8,1338.6 2036.2,1341.8 2036.6,1342.6 2037,1341.6 2037.4,1340.6 2037.8,1342.4 2038.2,1344.9 2038.6,1341.6 2039,1344.2 2039.4,1345 2039.8,1343 2040.2,1347.8 2040.6,1345.7 2041,1343.9 2041.4,1345.1 2041.8,1347.7 2042.2,1349.5 2042.6,1347.9 2043,1347.9 2043.4,1347.4 2043.8,1350.5 2044.2,1350 2044.6,1345.3 2045,1348 2045.4,1348.9 2045.8,1347.7 2046.2,1348.7 2046.6,1349.1 2047,1346.5 2047.4,1350.1 2047.8,1348.2 2048.2,1349.8 2048.6,1348.5 2049,1347.8 2049.4,1350.2 2049.8,1348.6 2050.2,1350.6 2050.6,1349 2051,1351.6 2051.4,1346.7 2051.8,1348.1 2052.2,1346.7 2052.6,1346.2 2053,1348.3 2053.4,1345.6 2053.8,1347.8 2054.2,1350.1 2054.6,1348.9 2055,1347.1 2055.4,1347.6 2055.8,1349.2 2056.2,1350.6 2056.6,1347.6 2057,1348.2 2057.4,1348.8 2057.8,1347.7 2058.2,1348.6 2058.6,1348.4 2059,1350.2 2059.4,1347 2059.8,1348.1 2060.2,1348.6 2060.6,1346.8 2061,1347.4 2061.4,1347.9 2061.8,1345.6 2062.2,1347.2 2062.6,1346.1 2063,1347.1 2063.4,1346.9 2063.8,1347.2 2064.2,1349.1 2064.6,1350 2065,1349.3 2065.4,1346.7 2065.8,1348.5 2066.2,1345.9 2066.6,1348.9 2067,1349.2 2067.4,1347.4 2067.8,1348 2068.2,1349.3 2068.6,1349.2 2069,1347.1 2069.4,1346.8 2069.8,1345.2 2070.2,1347.4 2070.6,1347 2071,1348 2071.4,1348.9 2071.8,1345.7 2072.2,1346.7 2072.6,1347.4 2073,1345.3 2073.4,1347.6 2073.8,1347.1 2074.2,1348.5 2074.6,1349 2075,1349.1 2075.4,1347.5 2075.8,1348.3 2076.2,1348.3 2076.6,1349.7 2077,1344.9 2077.4,1347.5 2077.8,1346.7 2078.2,1348.1 2078.6,1349.6 2079,1348.3 2079.4,1348.2 2079.8,1346.8 2080.2,1348.5 2080.6,1348.3 2081,1346.3 2081.4,1349 2081.8,1347.2 2082.2,1344.5 2082.6,1347.6 2083,1348.8 2083.4,1348.7 2083.8,1348.1 2084.2,1347.9 2084.6,1349 2085,1348.9 2085.4,1344.9 2085.8,1346.7 2086.2,1348.1 2086.6,1347.8 2087,1349.3 2087.4,1349.6 2087.8,1348.2 2088.2,1347.3 2088.6,1350.7 2089,1346.5 2089.4,1347.8 2089.8,1351.2 2090.2,1349 2090.6,1348.9 2091,1347.9 2091.4,1349.9 2091.8,1352.7 2092.2,1348.5 2092.6,1347.6 2093,1349.9 2093.4,1351.1 2093.8,1348.6 2094.2,1346.6 2094.6,1348.5 2095,1346.7 2095.4,1349.5 2095.8,1347.6 2096.2,1348.8 2096.6,1348.1 2097,1349.3 2097.4,1344.7 2097.8,1348.5 2098.2,1348.3 2098.6,1348.4 2099,1345.6 2099.4,1350.2 2099.8,1346.9 2100.2,1348.7 2100.6,1347.1 2101,1347.6 2101.4,1347.2 2101.8,1345.3 2102.2,1346.9 2102.6,1350.1 2103,1346.1 2103.4,1348.2 2103.8,1345.1 2104.2,1349.8 2104.6,1345.7 2105,1346.1 2105.4,1347.7 2105.8,1348.9 2106.2,1345.8 2106.6,1347.8 2107,1348.9 2107.4,1348 2107.8,1346.7 2108.2,1348.7 2108.6,1349.8 2109,1351.8 2109.4,1350.1 2109.8,1345.2 2110.2,1350.1 2110.6,1349.7 2111,1348.5 2111.4,1349.1 2111.8,1349.8 2112.2,1347.6 2112.6,1346 2113,1347.6 2113.4,1349.1 2113.8,1347.1 2114.2,1346.9 2114.6,1345.9 2115,1348.9 2115.4,1346.2 2115.8,1347.7 2116.2,1346.8 2116.6,1350.2 2117,1349.7 2117.4,1351.8 2117.8,1346.9 2118.2,1346.4 2118.6,1348.5 2119,1345.8 2119.4,1347.2 2119.8,1349.1 2120.2,1348.1 2120.6,1349.4 2121,1346.8 2121.4,1347.2 2121.8,1347.8 2122.2,1349.4 2122.6,1349.9 2123,1350 2123.4,1348.2 2123.8,1346.8 2124.2,1347.3 2124.6,1348 2125,1345.5 2125.4,1346.5 2125.8,1345.2 2126.2,1348.5 2126.6,1348.4 2127,1346.5 2127.4,1349.6 2127.8,1348.2 2128.2,1347.8 2128.6,1349.1 2129,1348.6 2129.4,1346.3 2129.8,1346.9 2130.2,1345.7 2130.6,1349 2131,1347.8 2131.4,1349.5 2131.8,1346.9 2132.2,1346.1 2132.6,1349.9 2133,1349.4 2133.4,1345.6 2133.8,1349.8 2134.2,1346.8 2134.6,1350.5 2135,1348.8 2135.4,1347 2135.8,1347.6 2136.2,1347.7 2136.6,1343.1 2137,1349 2137.4,1347.3 2137.8,1348.9 2138.2,1342.9 2138.6,1348.5 2139,1347.2 2139.4,1345 2139.8,1349.8 2140.2,1347.5 2140.6,1344.2 2141,1344 2141.4,1345.8 2141.8,1347.3 2142.2,1344.2 2142.6,1339.7 2143,1339 2143.4,1330.4 2143.8,1329.6 2144.2,1326.1 2144.6,1322.9 2145,1320.5 2145.4,1319.1 2145.8,1318.7 2146.2,1319.6 2146.6,1315.6 2147,1312.7 2147.4,1315.1 2147.8,1313.8 2148.2,1312.3 2148.6,1314.8 2149,1314.3 2149.4,1318.5 2149.8,1317 2150.2,1318 2150.6,1321.8 2151,1326.9 2151.4,1330.9 2151.8,1332.4 2152.2,1333.5 2152.6,1332.8 2153,1334.6 2153.4,1338.5 2153.8,1335.7 2154.2,1334.3 2154.6,1333.8 2155,1332.3 2155.4,1331.9 2155.8,1329.8 2156.2,1333.1 2156.6,1331.1 2157,1334.2 2157.4,1339.4 2157.8,1339.1 2158.2,1342.8 2158.6,1341.9 2159,1345 2159.4,1348.5 2159.8,1344.2 2160.2,1347.1 2160.6,1344.7 2161,1346.8 2161.4,1346 2161.8,1347.6 2162.2,1345.6 2162.6,1344.2 2163,1348.8 2163.4,1348.1 2163.8,1350.1 2164.2,1348.3 2164.6,1348.2 2165,1346.6 2165.4,1345.7 2165.8,1348.2 2166.2,1346.1 2166.6,1350.3 2167,1350.4 2167.4,1348.9 2167.8,1350 2168.2,1347.9 2168.6,1347.1 2169,1352 2169.4,1347.6 2169.8,1350.1 2170.2,1346.7 2170.6,1348.7 2171,1349.4 2171.4,1345.2 2171.8,1345.5 2172.2,1346.8 2172.6,1347.4 2173,1348.1 2173.4,1346.7 2173.8,1346.8 2174.2,1346.3 2174.6,1346.3 2175,1348.6 2175.4,1347.1 2175.8,1346.2 2176.2,1346 2176.6,1346.6 2177,1345.3 2177.4,1348.3 2177.8,1348.6 2178.2,1345.8 2178.6,1347.1 2179,1347.4 2179.4,1349.3 2179.8,1346.7 2180.2,1347.4 2180.6,1346.3 2181,1346.4 2181.4,1346.9 2181.8,1353.5 2182.2,1349.9 2182.6,1348.6 2183,1348.4 2183.4,1345.4 2183.8,1346.3 2184.2,1349.2 2184.6,1348 2185,1349.8 2185.4,1348 2185.8,1348.9 2186.2,1348.2 2186.6,1348.9 2187,1348.6 2187.4,1349.8 2187.8,1347.1 2188.2,1347.6 2188.6,1346.8 2189,1348 2189.4,1348.8 2189.8,1348.1 2190.2,1344.7 2190.6,1346.8 2191,1347.1 2191.4,1347.4 2191.8,1346.9 2192.2,1347.4 2192.6,1349.5 2193,1349 2193.4,1350.4 2193.8,1345.3 2194.2,1346.2 2194.6,1345.9 2195,1349.7 2195.4,1349.2 2195.8,1347 2196.2,1347.1 2196.6,1348.5 2197,1350.2 2197.4,1350.6 2197.8,1346.9 2198.2,1349.5 2198.6,1347.7 2199,1350.7 2199.4,1352.4 2199.8,1348.9 2200.2,1349 2200.6,1343.7 2201,1349 2201.4,1345.1 2201.8,1347 2202.2,1349.5 2202.6,1345.3 2203,1352 2203.4,1347.1 2203.8,1349.3 2204.2,1347.1 2204.6,1349.2 2205,1347 2205.4,1347.9 2205.8,1344.1 2206.2,1349.6 2206.6,1349.2 2207,1347.4 2207.4,1347.5 2207.8,1346.2 2208.2,1346.8 2208.6,1348.4 2209,1348.5 2209.4,1349.2 2209.8,1350 2210.2,1349.7 2210.6,1348.7 2211,1348.6 2211.4,1347.7 2211.8,1350.1 2212.2,1346.8 2212.6,1346.7 2213,1348.6 2213.4,1345.6 2213.8,1347.5 2214.2,1345.4 2214.6,1346.6 2215,1353.9 2215.4,1345.2 2215.8,1349.7 2216.2,1347 2216.6,1346.1 2217,1345.5 2217.4,1349 2217.8,1347.4 2218.2,1348 2218.6,1350.8 2219,1345.7 2219.4,1344.4 2219.8,1348.2 2220.2,1350.3 2220.6,1348.3 2221,1350.4 2221.4,1349.9 2221.8,1348.6 2222.2,1346.7 2222.6,1348.3 2223,1350 2223.4,1348.9 2223.8,1348 2224.2,1348.7 2224.6,1348 2225,1349.4 2225.4,1347.7 2225.8,1350.8 2226.2,1348.7 2226.6,1348.4 2227,1345 2227.4,1344.4 2227.8,1347.7 2228.2,1347.3 2228.6,1351.3 2229,1346.8 2229.4,1346.4 2229.8,1349.4 2230.2,1344.6 2230.6,1348.2 2231,1345.8 2231.4,1343.3 2231.8,1345 2232.2,1347.7 2232.6,1348"/>
<polyline fill="none" stroke="#0000ff" stroke-width="5.2" stroke-linejoin="round"  points="337,1349.4 337.8,1348.6 338.6,1346.5 339.4,1346.3 340.2,1349.2 341,1348.8 341.8,1346.1 342.6,1349.3 343.4,1349.2 344.2,1350.2 345,1349.6 345.8,1350.5 346.6,1349.8 347.4,1349.3 348.2,1349.5 349,1344.9 349.8,1346.5 350.6,1348 351.4,1347.1 352.2,1349 353,1346.1 353.4,1344.6"/><polyline fill="none" stroke="#0000ff" stroke-width="5.2" stroke-linejoin="round"  points="354.2,1347.5 355,1344.7 355.8,1347.8 356.6,1349.4 357.4,1348.9 358.2,1347.2 359,1344.9 359.8,1345.7 360.6,1347.8 361.4,1348.4 362.2,1349 363,1346.2 363.8,1347.9 364.6,1347.1 365.4,1350.1 366.2,1350.8 367,1346.9 367.8,1346.4 368.6,1343.3 369.4,1349.6 370.2,1347.9 371,1351.1 371.8,1346.3 372.6,1348.3 373.4,1348.9 374.2,1349.9 375,1351.5 375.8,1347.4 376.6,1352.2 377.4,1349.5 378.2,1350.5 379,1346.9 379.8,1349.6 380.6,1347.6 381.4,1347.8 382.2,1348.1 383,1349.5 383.8,1346.9 384.6,1350.3 385.4,1348.6 386.2,1347.4 387,1348.6 387.8,1346.6 388.6,1348.5 389.4,1350.2 390.2,1347.7 391,1346 391.8,1346.8 392.6,1346.9 393.4,1344.8 394.2,1348.9 395,1351.2 395.8,1346.1 396.6,1347.4 397.4,1343.1 398.2,1348.4 399,1348.6 399.8,1349.7 400.6,1348.6 401.4,1346 402.2,1349.5 403,1347.7 403.8,1349.3 404.6,1347.8 405.4,1352.4 406.2,1348.5 407,1350.4 407.8,1345.1 408.6,1348.2 409.4,1346.9 410.2,1345.3 411,1346.9 411.8,1347.8 412.6,1350.8 413.4,1349.6 414.2,1350.8 415,1345.8 415.8,1349.4 416.6,1349 417.4,1350.4 418.2,1347.2 419,1347.3 419.8,1348.3 420.6,1348.7 421.4,1347.3 422.2,1346.1 423,1348.6 423.8,1349 424.6,1349.3 425.4,1349.1 426.2,1349.7 427,1350.4 427.8,1350.4 428.6,1348.1 429.4,1349.2 430.2,1348.2 431,1348.4 431.8,1346.1 432.6,1348.4 433.4,1351.6 434.2,1349.2 435,1348.3 435.8,1343.5 436.6,1349.2 437.4,1348.4 438.2,1349.7 439,1347.7 439.8,1349.5 440.6,1346.5 441.4,1346.6 442.2,1352.2 443,1347.9 443.8,1349.6 444.6,1345.2 445.4,1349.6 446.2,1348.4 447,1346.5 447.8,1346.1 448.6,1346.4 449.4,1349.5 450.2,1350.1 451,1347.9 451.8,1348.3 452.6,1349.4 453.4,1345.7 454.2,1345.2 455,1346.7 455.8,1349.2 456.6,1347.6 457.4,1349.9 458.2,1346.9 459,1349.7 459.8,1351.8 460.6,1350.5 461.4,1346.3 462.2,1350.4 463,1350.4 463.8,1350.9 464.6,1348.3 465.4,1347.5 466.2,1346.4 467,1346.2 467.8,1347.9 468.6,1350 469.4,1349.9 470.2,1347.9 471,1346.3 471.8,1347.1 472.6,1346.6 473.4,1348.4 474.2,1346.2 475,1344.1 475.8,1349.8 476.6,1350.1 477.4,1349 478.2,1347.2 479,1349.7 479.8,1346.5 480.6,1346.3 481.4,1347.1 482.2,1349.6 483,1346.5 483.8,1349 484.6,1347.2 485.4,1349.2 486.2,1346.2 487,1346 487.8,1347 488.6,1347.3 489.4,1350.1 490.2,1348.1 491,1348.4 491.8,1349 492.6,1346.7 493.4,1349.2 494.2,1346.6 495,1350.5 495.8,1347.7 496.6,1347.3 497.4,1345.5 498.2,1349.1 499,1349.6 499.8,1345.3 500.6,1349.4 501.4,1349.8 502.2,1346.9 503,1346.4 503.8,1345.8 504.6,1348.4 505.4,1346.6 506.2,1346.2 507,1347.3 507.8,1346.3 508.6,1346.8 509.4,1349.9 510.2,1348.4 511,1346 511.8,1348.8 512.6,1346.6 513.4,1348.4 514.2,1346.7 515,1348.3 515.8,1346.4 516.6,1347.9 517.4,1348.3 518.2,1351.3 519,1348.7 519.8,1346.9 520.6,1344.7 521.4,1345.3 522.2,1348.1 523,1347 523.8,1352.1 524.6,1348.2 525.4,1346.6 526.2,1349.5 527,1349.7 527.8,1346.9 528.6,1346.2 529.4,1347.6 530.2,1345.9 531,1349.3 531.8,1343.3 532.6,1347.3 533.4,1347.7 534.2,1347.3 535,1349.6 535.8,1348.5 536.6,1349 537.4,1348.8 538.2,1347.5 539,1349.1 539.8,1346.6 540.6,1348.6 541.4,1348 542.2,1349.7 543,1345.6 543.8,1346.6 544.6,1346.8 545.4,1350.6 546.2,1345.5 547,1347.6 547.8,1348.2 548.6,1347.4 549.4,1349 550.2,1346.5 551,1350.4 551.8,1347.1 552.6,1348.7 553.4,1346.5 554.2,1351.5 555,1347.5 555.8,1344.9 556.6,1349.1 557.4,1351 558.2,1349 559,1346.9 559.8,1347.1 560.6,1346.9 561.4,1349.1 562.2,1348.3 563,1343.2 563.8,1351.2 564.6,1348.4 565.4,1344.9 566.2,1347.7 567,1350.3 567.8,1347.5 568.6,1347.9 569.4,1347.1 570.2,1345.4 571,1349.7 571.8,1345.2 572.6,1347.8 573.4,1346.8 574.2,1347.7 575,1345.1 575.8,1347.6 576.6,1347.4 577.4,1344.9 578.2,1347.2 579,1350.4 579.8,1349.5 580.6,1347 581.4,1350.1 582.2,1348.4 583,1348.5 583.8,1349.7 584.6,1347.1 585.4,1346.4 586.2,1349 587,1346.8 587.8,1349 588.6,1345.2 589.4,1349.8 590.2,1347.4 591,1346.4 591.8,1350.3 592.6,1348.4 593.4,1348.9 594.2,1346.6 595,1346.8 595.8,1348.6 596.6,1346.2 597.4,1349.1 598.2,1350.3 599,1350.7 599.8,1348.9 600.6,1349.6 601.4,1347 602.2,1348.3 603,1348.9 603.8,1346.7 604.6,1347.4 605.4,1347.3 606.2,1347.9 607,1346.9 607.8,1349 608.6,1346.8 609.4,1346.9 610.2,1347.9 611,1346.5 611.8,1349.7 612.6,1346.9 613.4,1348.5 614.2,1347.4 615,1348.5 615.8,1347.3 616.6,1349.5 617.4,1348.2 618.2,1347 619,1347.1 619.8,1348.4 620.6,1345.1"/><polyline fill="none" stroke="#0000ff" stroke-width="5.2" stroke-linejoin="round"  points="621.4,1348.4 622.2,1347 623,1347.4 623.8,1347.9 624.6,1346.4 625.4,1349.7 626.2,1351.6 627,1350 627.8,1347 628.6,1345.3 629.4,1349.6 630.2,1345.1 631,1351.3 631.8,1345.4 632.6,1346.5 633.4,1349.1 634.2,1346.9 635,1345.8 635.8,1346.3 636.6,1349.3 637.4,1348.2 638.2,1349.3 639,1346 639.8,1348.8 640.6,1350.3 641.4,1350.9 642.2,1346.9 643,1346.4 643.8,1348.7 644.6,1349.6 645.4,1351.1 646.2,1349.2 647,1350.4 647.8,1349.3"/><polyline fill="none" stroke="#0000ff" stroke-width="5.2" stroke-linejoin="round"  points="648.6,1346.7 649.4,1348.3 650.2,1349.5 651,1346.1 651.8,1347.2 652.6,1346.8 653.4,1345.4 654.2,1348.3 655,1345.3 655.8,1347.1 656.6,1348.8 657.4,1346.3 658.2,1347.2 659,1351 659.8,1346.1 660.6,1349.1 661.4,1348.2 662.2,1348.2 663,1345.4 663.8,1347.9 664.6,1348.3 665.4,1344.9 666.2,1346.9 667,1347.7 667.8,1347.4 668.6,1345.4 669.4,1348.2 670.2,1346.9 671,1347.4 671.8,1346.6 672.6,1347.1 673.4,1348.6 674.2,1348.9 675,1348.1 675.8,1348.8 676.6,1345.3 677.4,1346.8 678.2,1350.3 679,1349.9 679.8,1350.6 680.6,1350.2 681.4,1348.3 682.2,1348.9 683,1349.2 683.8,1346.8 684.6,1348.2 685.4,1345.3 686.2,1346.1 687,1346.7 687.8,1349 688.6,1345.5 689.4,1346.2 690.2,1349.5 691,1345.5 691.8,1351.1 692.6,1348.7 693.4,1349.4"/><polyline fill="none" stroke="#0000ff" stroke-width="5.2" stroke-linejoin="round"  points="694.2,1349.1 695,1348.8 695.8,1344 696.6,1348 697.4,1349.9 698.2,1346.7 699,1346.7 699.8,1347.7 700.6,1348.2 701.4,1347.4 702.2,1349.6 703,1345.5 703.8,1348.4 704.6,1346.4 705.4,1347.3 706.2,1347.5 707,1350.7 707.8,1345.9 708.6,1351.1 709.4,1347.9 710.2,1348.4 711,1346.5 711.8,1348.9 712.6,1349.7 713.4,1350.2 714.2,1349.6 715,1351 715.8,1349.2 716.6,1348.3 717.4,1347.4 718.2,1346.5 719,1349.1 719.8,1348 720.6,1344 721.4,1349.6 722.2,1348.2 723,1346.8 723.8,1348.2 724.6,1348.2 725.4,1348.3 726.2,1349.8 727,1346.9 727.8,1345.8 728.6,1349 729.4,1349.4 730.2,1346.7 731,1352.6 731.8,1347.8 732.6,1345.7 733.4,1346.7 734.2,1347.5 735,1346.6 735.8,1347.4 736.6,1349.9 737.4,1346.4 738.2,1347 739,1348.2 739.8,1347.5 740.6,1347.9 741.4,1348.7 742.2,1350.4 743,1348.9 743.8,1348.7 744.6,1349.1 745.4,1349.4 746.2,1347.7 747,1349.7 747.8,1348.5 748.6,1344.7 749.4,1347.7 750.2,1350.1 751,1346.1 751.8,1349.7 752.6,1346.9 753.4,1346.5 754.2,1349.8 755,1351.7 755.8,1349.8 756.6,1349.2 757.4,1345.6 758.2,1346.8 759,1347.4 759.8,1348.2 760.6,1346 761.4,1346.8 762.2,1349.2 763,1347.8 763.8,1347.4 764.6,1348.1 765.4,1348.2 766.2,1347.6 767,1347.8 767.8,1347.9 768.6,1350.8 769.4,1347.8 770.2,1347.3 771,1346.4 771.8,1350.1 772.6,1346.4 773.4,1346.9 774.2,1349.2 775,1349.2 775.8,1350.6 776.6,1351.1 777.4,1350.6 778.2,1348.8 779,1350.8 779.8,1345.2 780.6,1346.9 781.4,1349.2 782.2,1348.6 783,1349.6 783.8,1345.4 784.6,1348.9 785.4,1345.1 786.2,1347.3 787,1344.4 787.8,1349.3 788.6,1349.4 789.4,1346.6 790.2,1349.9 791,1348.6 791.8,1346.1 792.6,1348.7 793.4,1347.2 794.2,1349.1 795,1350.2 795.8,1348.7 796.6,1349.9 797.4,1347.3 798.2,1351.3 799,1347.4 799.8,1352.1 800.6,1347.1 801.4,1347.5 802.2,1345.4 803,1347.1 803.8,1347.1 804.6,1346.8 805.4,1350.2 806.2,1350.8 807,1351.7 807.8,1349.6 808.6,1347.4 809.4,1350.2 810.2,1349.3 811,1346 811.8,1350.4 812.6,1350.9 813.4,1347.6 814.2,1347.7 815,1347.8 815.8,1346.4 816.6,1349.7 817.4,1347.1 818.2,1349.2 819,1351.5 819.8,1348.8 820.6,1347.3 821.4,1349.9 822.2,1346.7 823,1349.9 823.8,1351.3 824.6,1344.3 825.4,1351.2 826.2,1349.5 827,1348.2 827.8,1345.1 828.6,1347.2 829.4,1349.4 830.2,1346.7 831,1349.2 831.8,1349.4 832.6,1347.6 833.4,1349.5 834.2,1344.7 835,1348.7 835.8,1349 836.6,1347.4 837.4,1345.7 838.2,1347.8 839,1349.5 839.8,1345 840.6,1344.2 841.4,1348 842.2,1348.9 843,1346.2 843.8,1347.5 844.6,1344.5 845.4,1347.6 846.2,1344.7 847,1347.8 847.8,1348 848.6,1349 849.4,1345.3 850.2,1349.3 851,1347.9 851.8,1348.4 852.6,1347.2 853.4,1347.2 854.2,1350.1 855,1347.1 855.8,1347.8 856.6,1346.5 857.4,1345.6 858.2,1350.4 859,1348.6 859.8,1347.6 860.6,1347.7 861.4,1349.7 862.2,1348.9 863,1347.4 863.8,1348.4 864.6,1347.2 865.4,1349.9 866.2,1345.9 867,1348.3 867.8,1351 868.6,1343.9 869.4,1348.6 870.2,1347.8 871,1346.9 871.8,1348.6 872.6,1347.9 873.4,1349.1 874.2,1350.1 875,1350.8 875.8,1348.7 876.6,1348.8 877.4,1346.2 878.2,1346.6 879,1349.2 879.8,1347.6 880.6,1349.4 881.4,1347.6 882.2,1347.6 883,1346.7 883.8,1346 884.6,1348.4 885.4,1348.6 886.2,1346.6 887,1346.1"/><polyline fill="none" stroke="#0000ff" stroke-width="5.2" stroke-linejoin="round"  points="887.8,1344.4 888.6,1344.2"/><polyline fill="none" stroke="#0000ff" stroke-width="5.2" stroke-linejoin="round"  points="913,1343.6 913.8,1343.5 914.6,1344.1 915.4,1348.7 916.2,1346.2 917,1350.1 917.8,1345 918.6,1350.3 919.4,1350.5 920.2,1347.6 921,1348.4 921.8,1350.5 922.6,1348.8 923.4,1348.5 924.2,1348 925,1349.5 925.8,1347.3 926.6,1346.8 927.4,1345.9 928.2,1349.6 929,1347.2 929.8,1346.7 930.6,1352 931.4,1348.7 932.2,1348.4 933,1345.5 933.8,1347.4 934.6,1348 935.4,1351.9 936.2,1347.4 937,1347.8 937.8,1348 938.6,1345.8 939.4,1346.8 940.2,1346.8 941,1347.9 941.8,1350.1 942.6,1348.3 943.4,1352 944.2,1349.5 945,1347.8 945.8,1349.8 946.6,1348.7 947.4,1346.4 948.2,1347.1 949,1350.9 949.8,1350 950.6,1348 951.4,1346.6 952.2,1347.6 953,1345.7 953.8,1350.4 954.6,1347.9 955.4,1349.8 956.2,1346.9 957,1348.5 957.8,1350.5 958.6,1349.1 959.4,1346.9 960.2,1348.5 961,1348.7 961.8,1347.4 962.6,1349.4 963.4,1346.7 964.2,1348.6 965,1348.3 965.8,1345.9 966.6,1346.7 967.4,1348.1 968.2,1348.1 969,1348.7 969.8,1351 970.6,1346.6 971.4,1350.1 972.2,1346.8 973,1350.1 973.8,1349.2 974.6,1350.4 975.4,1347.6 976.2,1346.5 977,1349.2 977.8,1351.3 978.6,1348.6 979.4,1347.9 980.2,1346.3 981,1346.6 981.8,1349.1 982.6,1350.8 983.4,1347.4 984.2,1346.3 985,1346.9 985.8,1346.4 986.6,1344.8 987.4,1351.6 988.2,1349.7 989,1347.3 989.8,1347.4 990.6,1346.3 991.4,1348.3 992.2,1347.8 993,1348.9 993.8,1350.2 994.6,1346.7 995.4,1351.6 996.2,1350.6 997,1345.5 997.8,1346.5 998.6,1348.2 999.4,1348.2 1000.2,1347.9 1001,1348.6 1001.8,1348.9 1002.6,1348.3 1003.4,1348.2 1004.2,1350.7 1005,1348 1005.8,1346.9 1006.6,1344.8 1007.4,1347.7 1008.2,1349.9 1009,1346.3 1009.8,1345.8 1010.6,1346.6 1011.4,1347.5 1012.2,1348.5 1013,1348.4 1013.8,1346.2 1014.6,1350.9 1015.4,1344.2 1016.2,1347.7 1017,1348.5 1017.8,1350.1 1018.6,1349.3 1019.4,1346.5 1020.2,1350.7 1021,1347.4 1021.8,1347.1 1022.6,1344.6 1023.4,1346.1 1024.2,1348.9 1025,1348.8 1025.8,1347.8 1026.6,1348.4 1027.4,1348.3 1028.2,1346.9 1029,1345.9 1029.8,1346.2 1030.6,1348.6 1031.4,1346.3 1032.2,1349.6 1033,1345.2 1033.8,1348.1 1034.6,1348.2 1035.4,1348.8 1036.2,1346.3 1037,1347.6 1037.8,1350.6 1038.6,1348.7 1039.4,1345 1040.2,1347.2 1041,1348.7 1041.8,1347.8 1042.6,1346.9 1043.4,1349.9 1044.2,1348.7 1044.6,1348.9"/><polyline fill="none" stroke="#0000ff" stroke-width="5.2" stroke-linejoin="round"  points="1045.4,1348.2 1046.2,1348.3 1047,1346.4 1047.8,1348.3 1048.6,1345.4 1049.4,1349.5 1050.2,1349 1051,1347.7 1051.8,1344.8 1052.6,1347.5 1053.4,1343.4"/><polyline fill="none" stroke="#0000ff" stroke-width="5.2" stroke-linejoin="round"  points="1054.2,1344.9 1055,1344.6 1055.8,1344.4 1056.2,1344.3"/><polyline fill="none" stroke="#0000ff" stroke-width="5.2" stroke-linejoin="round"  points="1079.8,1345.6 1080.6,1345.3 1081.4,1346.6 1082.2,1348.7 1083,1345.6 1083.8,1349.3 1084.6,1349.7 1085.4,1345 1086.2,1345.3 1087,1346.2 1087.8,1345.2 1088.6,1345.4 1089.4,1347.1 1090.2,1346 1091,1350.2 1091.8,1346 1092.6,1347.7 1093.4,1347.8 1094.2,1349.8 1095,1349.1 1095.8,1346.3 1096.6,1348.7 1097.4,1347.1 1098.2,1347.4 1099,1349.1 1099.8,1344.8 1100.6,1347.6 1101.4,1349.4 1102.2,1345.6 1103,1348.7 1103.8,1350.2 1104.6,1350.3 1105.4,1348.9 1106.2,1349.1 1107,1348 1107.8,1349.8 1108.6,1350.4 1109.4,1351.7 1110.2,1351 1111,1351 1111.8,1348.7 1112.6,1343.8 1113.4,1345.3 1114.2,1347.6 1115,1348.6 1115.8,1346.8 1116.6,1347.2 1117.4,1345 1118.2,1346.4 1119,1346.4 1119.8,1352.8 1120.6,1345.7 1121.4,1348 1122.2,1349.8 1123,1348.9 1123.8,1346.6"/><polyline fill="none" stroke="#0000ff" stroke-width="5.2" stroke-linejoin="round"  points="1124.6,1346.9 1125.4,1347 1126.2,1349.8 1127,1345.9 1127.8,1347.5 1128.6,1349.8 1129.4,1346.2 1130.2,1347.6 1131,1348.9 1131.8,1345.9 1132.6,1347.5 1133.4,1346.8 1134.2,1346.8 1135,1346.9 1135.8,1346.4 1136.6,1351.2 1137.4,1345.7 1138.2,1347.6 1139,1345.6 1139.8,1347.1 1140.6,1345.9 1141.4,1347.9 1142.2,1345 1143,1349.8 1143.8,1345.5 1144.6,1347.9 1145.4,1351.5 1146.2,1346.2 1147,1349.3 1147.8,1348.9 1148.6,1347.3 1149.4,1347.5 1150.2,1348.6 1151,1349.3 1151.8,1344.2 1152.6,1350.2 1153.4,1347.2 1154.2,1348.3 1155,1346.9 1155.8,1350.1 1156.6,1348.5 1157.4,1350"/><polyline fill="none" stroke="#0000ff" stroke-width="5.2" stroke-linejoin="round"  points="1158.2,1347.6 1159,1351.1 1159.8,1343.7 1160.6,1350.5 1161.4,1349.8 1162.2,1346.9 1163,1346.3 1163.8,1347.7 1164.6,1346.2 1165.4,1347.3 1166.2,1346.3 1167,1347.8 1167.8,1348.8 1168.6,1348.4 1169.4,1349.2 1170.2,1348.3 1171,1348.4 1171.8,1346.9 1172.6,1347.1 1173.4,1350.9 1174.2,1347.4 1175,1347.3 1175.8,1349.8 1176.6,1349.6 1177.4,1349.6 1178.2,1351.2 1179,1344.2"/><polyline fill="none" stroke="#0000ff" stroke-width="5.2" stroke-linejoin="round"  points="1179.8,1348.1 1180.6,1348 1181.4,1348.5 1182.2,1351.8 1183,1349.1 1183.8,1347.6 1184.6,1347.1 1185.4,1346.6 1186.2,1349.8 1187,1349.8 1187.8,1348.3 1188.6,1344.5 1189.4,1347.5 1190.2,1349.2 1191,1348.6 1191.8,1346.8 1192.6,1347.6 1193.4,1347.2 1194.2,1349.3 1195,1348.5 1195.8,1349.6 1196.6,1347.1 1197.4,1346.3 1198.2,1347.2 1199,1350.3 1199.8,1349.3 1200.6,1345 1201.4,1346.8 1202.2,1348.9 1203,1350.5 1203.8,1346.6 1204.6,1351.8 1205.4,1348.1 1206.2,1349.5 1207,1343.8 1207.8,1345.4 1208.6,1351.5 1209.4,1349.1 1209.8,1346"/><polyline fill="none" stroke="#0000ff" stroke-width="5.2" stroke-linejoin="round"  points="1210.6,1347.3 1211.4,1347.7 1212.2,1349.8 1213,1346.3 1213.8,1347.4 1214.6,1348.1 1215.4,1347 1216.2,1347.4 1217,1347.1 1217.8,1346.8 1218.6,1346.9 1219.4,1350 1220.2,1346.9 1221,1345.8 1221.8,1349.2 1222.6,1346.5 1223.4,1348 1224.2,1347.5 1225,1346.6 1225.8,1343.4 1226.6,1348.1 1227.4,1350.5 1228.2,1350.8 1229,1347.4 1229.8,1349.5 1230.6,1346.2 1231.4,1344.4 1232.2,1349.5 1233,1352 1233.8,1347.2 1234.6,1348.4 1235.4,1345.7 1236.2,1348 1237,1349.5 1237.8,1348 1238.6,1348.3 1239.4,1345.7 1240.2,1345.3 1241,1348.1 1241.8,1348.4 1242.6,1344.8 1243.4,1348.6 1244.2,1347.1 1245,1348.8 1245.8,1345 1246.6,1347.4 1247.4,1346.9 1248.2,1347 1249,1351.5 1249.8,1348.9 1250.6,1348 1251.4,1348.2 1252.2,1348.9 1253,1345.7 1253.8,1349.9 1254.6,1347.9 1255.4,1345.2 1256.2,1350.9 1257,1345.6 1257.8,1345.5 1258.6,1346.8 1259.4,1348.8 1260.2,1348.2 1261,1349.8 1261.8,1347.3 1262.6,1348.2 1263.4,1348.4 1264.2,1348.7 1265,1349.3 1265.8,1348.1 1266.6,1349 1267.4,1348.9 1268.2,1347.4 1269,1345.9 1269.8,1346.4 1270.6,1346.3 1271.4,1346.1 1272.2,1350.2 1273,1346.7 1273.8,1347.8 1274.6,1348.9 1275.4,1345.8 1276.2,1349.4 1277,1346.2 1277.8,1348.5 1278.6,1345.5 1279.4,1347.3 1280.2,1349.4 1281,1345.9 1281.8,1349.2 1282.6,1349.2 1283.4,1349.2 1284.2,1346.8 1285,1347.7 1285.8,1348 1286.6,1346.7 1287.4,1348.6 1288.2,1349.7 1289,1348.7 1289.8,1349.5 1290.6,1349.4 1291.4,1348.9 1292.2,1346.3 1293,1345.7 1293.8,1349.8 1294.6,1349.1 1295.4,1347.2 1296.2,1351.2 1297,1347.3 1297.8,1346.6 1298.6,1345.7 1299.4,1347.6 1300.2,1345.8 1301,1349 1301.8,1348.9 1302.6,1349.6 1303.4,1346.1 1304.2,1347.6 1305,1349.1 1305.8,1345.6 1306.6,1348.4 1307.4,1349.7 1308.2,1347.6 1309,1351 1309.8,1348.5 1310.6,1349.6 1311.4,1347.6 1312.2,1347.8 1313,1349.1 1313.8,1346.7 1314.6,1344.3 1315.4,1348.3 1316.2,1345.5 1317,1347.1 1317.8,1347.6 1318.6,1346.8 1319.4,1348.1 1320.2,1349.3 1321,1345.9 1321.8,1350.2 1322.6,1347.3 1323.4,1348.6 1324.2,1346.4 1325,1350.5 1325.8,1346.7 1326.6,1348.1 1327.4,1349.4 1328.2,1347.4 1329,1346.7 1329.8,1347.7 1330.6,1347.4 1331.4,1349.6 1332.2,1352.1 1333,1346.5 1333.8,1346.7 1334.6,1349.3 1335.4,1348.1 1336.2,1347.8 1337,1349.7 1337.8,1347.7 1338.6,1349.6 1339.4,1350.7 1340.2,1349.5 1341,1349.4 1341.8,1351.7 1342.6,1348.1 1343.4,1348.6 1344.2,1349.8 1345,1345.8 1345.8,1348.8 1346.6,1347 1347.4,1347.7 1348.2,1348.4 1349,1347 1349.8,1349.4 1350.6,1346.9 1351.4,1346.5 1352.2,1348.1 1353,1345.5 1353.8,1347.7 1354.6,1349.3 1355.4,1346.9 1356.2,1347.3 1357,1351.5 1357.8,1347.5 1358.6,1348.8 1359.4,1348.4 1360.2,1347.7 1361,1348.3 1361.8,1346.2 1362.6,1351.7 1363.4,1348.5 1364.2,1345.3 1365,1349.6 1365.8,1348.5 1366.6,1348.8 1367.4,1346.4 1368.2,1348.6 1369,1347.6 1369.8,1346.6 1370.6,1346.6 1371.4,1349.8 1372.2,1348.2 1373,1349.4 1373.8,1350 1374.6,1349.4 1375.4,1351.1 1376.2,1349.2 1377,1346.8 1377.8,1345.2 1378.6,1347 1379.4,1346.9 1380.2,1348.2 1381,1346.6 1381.8,1348.5 1382.6,1346.6 1383.4,1346.8 1384.2,1349.8 1385,1346.4 1385.8,1347.9 1386.6,1347.3 1387.4,1349 1388.2,1350.4 1389,1349 1389.8,1346.9 1390.6,1348.3 1391.4,1349.9 1392.2,1348 1393,1349.3 1393.8,1348.9 1394.6,1347.1 1395.4,1350.7 1396.2,1348.2 1397,1346.2 1397.8,1346.5 1398.6,1349.4 1399.4,1346.9 1400.2,1346.8 1401,1349.5 1401.8,1349.5 1402.6,1348.8 1403.4,1348.2 1404.2,1344.3 1405,1346.8 1405.8,1347 1406.6,1349.1 1407.4,1345.8 1408.2,1348.9 1409,1347.5 1409.8,1350.2 1410.6,1346.9 1411.4,1349.8 1412.2,1350 1413,1347.6 1413.8,1347.9 1414.6,1349.1 1415.4,1347.6 1416.2,1348.2 1417,1348.7 1417.8,1349.2 1418.6,1351.3 1419.4,1351.4 1420.2,1348 1421,1350 1421.8,1347.1 1422.6,1348.6 1423.4,1348.8 1424.2,1347.7 1425,1347 1425.8,1346.6 1426.6,1347.8 1427.4,1348.1 1428.2,1349.8 1429,1349.4 1429.8,1348.2 1430.6,1344.8 1431.4,1345.9 1432.2,1349.4 1433,1347.4 1433.8,1349.2 1434.6,1349.2 1435.4,1350.3 1436.2,1347.5 1437,1347.1 1437.8,1348.3 1438.6,1349.1 1439.4,1348.1 1440.2,1347.4 1441,1347.3 1441.8,1347.7 1442.6,1347.6 1443.4,1348.3 1444.2,1348.4 1445,1348.6 1445.8,1346.9 1446.6,1350.4 1447.4,1349.6 1448.2,1347.6 1449,1347.9 1449.8,1344.7 1450.6,1347.4 1451.4,1348.4 1452.2,1347.6 1453,1347.6 1453.8,1350.9 1454.6,1349 1455.4,1347.3 1456.2,1350.2 1457,1348.2 1457.8,1348.2 1458.6,1349.1 1459.4,1347.7 1460.2,1350.7 1461,1346.8 1461.8,1348.2 1462.6,1345.7 1463.4,1350.3 1464.2,1350 1465,1349.4 1465.8,1347.4 1466.6,1350.4 1467.4,1348.1 1468.2,1346.4 1469,1349.5 1469.8,1349.2 1470.6,1347.9 1471.4,1347.3 1472.2,1349.6 1473,1345.6 1473.8,1347.4 1474.6,1347.7 1475.4,1349 1476.2,1349.9 1477,1350.1 1477.8,1348.7 1478.6,1345.9 1479.4,1344.5 1480.2,1348.3 1481,1347.3 1481.8,1347.6 1482.6,1351.4 1483.4,1349.7 1484.2,1349.1 1485,1347.8 1485.8,1347.3 1486.6,1349.2 1487.4,1343.7 1488.2,1350.3 1489,1349.1 1489.8,1345.5 1490.6,1344.2 1491.4,1347.4 1492.2,1348 1493,1347.3 1493.8,1349.4 1494.6,1346.8 1495.4,1345.8 1496.2,1345.2 1497,1349.4 1497.8,1346.9 1498.6,1347.5 1499.4,1349.8 1500.2,1345.1 1501,1346.6 1501.8,1349.6 1502.6,1348.8 1503.4,1345.1 1504.2,1348.6 1505,1346.9 1505.8,1346.6 1506.6,1348.3 1507.4,1349.3 1508.2,1351.8 1509,1348.1 1509.8,1348.5 1510.6,1349.4 1511.4,1348.4 1512.2,1349.6 1513,1349.9 1513.8,1347 1514.6,1349.2 1515.4,1347.1 1516.2,1349.6 1517,1347 1517.8,1344.8 1518.6,1347.5 1519.4,1349.8 1520.2,1346.7 1521,1347.8 1521.8,1348.3 1522.6,1349.6 1523.4,1347.3 1524.2,1347 1525,1349 1525.8,1345.4 1526.6,1346 1527.4,1349.2 1528.2,1346.2 1529,1348.5 1529.8,1349.6 1530.6,1346 1531.4,1347 1532.2,1348.4 1533,1349.6 1533.8,1348.2 1534.6,1348.8 1535.4,1348.9 1536.2,1347.1 1537,1349.7 1537.8,1343.1 1538.6,1348.1 1539.4,1350.4 1540.2,1346.3 1541,1346 1541.8,1346.6 1542.6,1348.6 1543.4,1346.7 1544.2,1348.6 1545,1347.1 1545.8,1344.9 1546.6,1344.9 1547.4,1347.2 1548.2,1347.5 1549,1348.1 1549.8,1347.1 1550.6,1350.7 1551.4,1349.9 1552.2,1349 1553,1348.8 1553.8,1344.4 1554.6,1349 1555.4,1348.4 1556.2,1347.8 1557,1346.3 1557.8,1347.9 1558.6,1348.2 1559.4,1347.8 1560.2,1352 1561,1348.2 1561.8,1348.8 1562.6,1346.6 1563.4,1348.3 1564.2,1348.5 1565,1349 1565.8,1348.4 1566.6,1347 1567.4,1346.9 1568.2,1346.8 1569,1347.6 1569.8,1346.7 1570.6,1346.2 1571.4,1343.8 1572.2,1348.5 1573,1349.5 1573.8,1348 1574.6,1348.3 1575.4,1349 1576.2,1347.7 1577,1348.5 1577.8,1349.5 1578.6,1346.4 1579.4,1346.2 1580.2,1348.6 1581,1349 1581.8,1347.9 1582.6,1345.5 1583.4,1344.9 1584.2,1351.9 1585,1349.1 1585.8,1347.6 1586.6,1351.3 1587.4,1347 1588.2,1347.9 1589,1346.9 1589.8,1347.3 1590.6,1349.5 1591.4,1348.1 1592.2,1346.4 1593,1347.2 1593.8,1348 1594.6,1347.2 1595.4,1348.6 1596.2,1348.7 1597,1348.6 1597.8,1347.2 1598.6,1348.1 1599.4,1351.4 1600.2,1346.1 1601,1347.1 1601.8,1347 1602.6,1349.2 1603.4,1347.4 1604.2,1346.9 1605,1344.4 1605.8,1349.1 1606.6,1348.1 1607.4,1346.8 1608.2,1351.8 1609,1347.5 1609.8,1350.6 1610.6,1350.2 1611.4,1346.7 1612.2,1349.1 1613,1350 1613.8,1347.4 1614.6,1347.4 1615.4,1346.6 1615.8,1345.9"/><polyline fill="none" stroke="#0000ff" stroke-width="5.2" stroke-linejoin="round"  points="1617,1347.1 1617.8,1345.9 1618.6,1344.8 1619.4,1343.5 1620.2,1344"/><polyline fill="none" stroke="#0000ff" stroke-width="5.2" stroke-linejoin="round"  points="1621.4,1343.3 1622.2,1345.2 1623,1344.3 1623.4,1344.3"/><polyline fill="none" stroke="#0000ff" stroke-width="5.2" stroke-linejoin="round"  points="1659,1346.9 1659.8,1348.1 1660.2,1346.4"/><polyline fill="none" stroke="#0000ff" stroke-width="5.2" stroke-linejoin="round"  points="1661,1346.4 1661.8,1343.1 1662.6,1346.4 1663.4,1349.9 1664.2,1350.4 1665,1346.5 1665.8,1348.9 1666.6,1350.7 1667.4,1351.4 1668.2,1349.5 1669,1350.5 1669.8,1346.9 1670.6,1347.2 1671.4,1345.7 1672.2,1346 1673,1346.5 1673.8,1349.5 1674.6,1344.4 1675.4,1348.7 1676.2,1348 1677,1349.4 1677.8,1347 1678.6,1348.1 1679.4,1348.7 1680.2,1348.4 1681,1350.5 1681.8,1350 1682.6,1349.4 1683.4,1349.6 1684.2,1349.5 1685,1351.1 1685.8,1345.3 1686.6,1350.7 1687.4,1346.6 1688.2,1348.8 1689,1350.1 1689.8,1349.6 1690.6,1348.9"/><polyline fill="none" stroke="#0000ff" stroke-width="5.2" stroke-linejoin="round"  points="1691.4,1347.7 1692.2,1349.7 1693,1347.2 1693.8,1348.5 1694.6,1350.5 1695.4,1348.3 1696.2,1348 1697,1350.2 1697.8,1349.4 1698.6,1347.7 1699.4,1350.9 1700.2,1347 1701,1343.8 1701.8,1346.3 1702.6,1345.7 1703.4,1347.5 1704.2,1348 1705,1346.9 1705.8,1349.4 1706.6,1347.7 1707.4,1348.6 1708.2,1348 1709,1346 1709.8,1346.1 1710.6,1348.6 1711.4,1347.6 1712.2,1349.6 1713,1347.5 1713.8,1346 1714.6,1345.8 1715.4,1348.2 1716.2,1344.1 1717,1346.3 1717.8,1349.9 1718.6,1350.4 1719.4,1349 1720.2,1349.1 1721,1349.1 1721.8,1346.2 1722.6,1348.3 1723.4,1347.8 1724.2,1350.1 1725,1344.2 1725.8,1351.2 1726.6,1346.6 1727.4,1348.4 1728.2,1347 1729,1349.6 1729.8,1349.8 1730.6,1349.2 1731.4,1348.1 1732.2,1347.3 1733,1347.6 1733.8,1348.7 1734.6,1345.3 1735.4,1348 1736.2,1349.2 1737,1349 1737.8,1350.7 1738.6,1349.1 1739.4,1349.2 1740.2,1350.8 1741,1346.1 1741.8,1346.8 1742.6,1348 1743.4,1347.5 1744.2,1348.1 1745,1350.7 1745.8,1347.2 1746.6,1350 1747.4,1346.8 1748.2,1345.6 1749,1346.4 1749.8,1347.7 1750.6,1347.6 1751.4,1346.3 1752.2,1344.7 1753,1348.5 1753.8,1348.8 1754.6,1349.7 1755.4,1349.9 1756.2,1348.5 1757,1344.1 1757.8,1348.1 1758.6,1348.7 1759.4,1347.3 1760.2,1349.4 1761,1348.9 1761.8,1348 1762.6,1348.1 1763.4,1345.5 1764.2,1346.6 1765,1349.7 1765.8,1349 1766.6,1347.3 1767.4,1345.4 1768.2,1348.9 1769,1345.7 1769.8,1348.9 1770.6,1349.9 1771.4,1346.8 1772.2,1348 1773,1351.4 1773.8,1348.9 1774.6,1348.5 1775.4,1346.9 1776.2,1350.5 1777,1348.8 1777.8,1345.7 1778.6,1349.9 1779.4,1349 1780.2,1349 1781,1345.2 1781.8,1346.7 1782.6,1350.3 1783.4,1349.7 1784.2,1348.5 1785,1349.6 1785.8,1350 1786.6,1350 1787.4,1347.2 1788.2,1347.5 1789,1349.1 1789.8,1348.7 1790.6,1349.2 1791.4,1352.3 1792.2,1348.8 1793,1349.2 1793.8,1346.9 1794.6,1344.9 1795.4,1350.9 1796.2,1347.4 1797,1347.6 1797.8,1347.5 1798.6,1348.4 1799.4,1349.4 1800.2,1350.3 1801,1350 1801.8,1347.1 1802.6,1351 1803.4,1348.5 1804.2,1347.5 1805,1347.2 1805.8,1345.3 1806.6,1347.2 1807.4,1346.5"/><polyline fill="none" stroke="#0000ff" stroke-width="5.2" stroke-linejoin="round"  points="1808.2,1350.6 1809,1348.8 1809.8,1348.6 1810.6,1348.3 1811.4,1347 1812.2,1351.3 1813,1348.5 1813.8,1349.1 1814.6,1348.3 1815.4,1346.5 1816.2,1351.2 1817,1347.9 1817.8,1347.1 1818.6,1347.9 1819.4,1350.9 1820.2,1348.6 1821,1348.4 1821.8,1344.5 1822.6,1346.3 1823.4,1348.8 1824.2,1347.3 1825,1347.6 1825.8,1350.7 1826.6,1347.7 1827.4,1349.4 1828.2,1349.6 1829,1348.3 1829.8,1347 1830.6,1348 1831.4,1346.2 1832.2,1350.3 1833,1349.3 1833.8,1350.1 1834.6,1348.2 1835.4,1347.8 1836.2,1344.7 1837,1349.7 1837.8,1348.1 1838.6,1349.7 1839.4,1346.6 1840.2,1346.3 1841,1349.4 1841.8,1347.8 1842.6,1350.6 1843.4,1348 1844.2,1348.1 1845,1349.3 1845.8,1348.1 1846.6,1348.5 1847.4,1346.4 1848.2,1347.9 1849,1349.8 1849.8,1349.3 1850.6,1345.4 1851.4,1348 1852.2,1350.3 1853,1350.5 1853.8,1346.2 1854.6,1346.2 1855.4,1347.1 1856.2,1349.9 1857,1349.6 1857.8,1345.3 1858.6,1345.3 1859.4,1344.6 1860.2,1346.7 1861,1348.9 1861.8,1348.4 1862.6,1352.6 1863.4,1344.6 1864.2,1345.6 1865,1349.6 1865.8,1347.5 1866.6,1348.3 1867.4,1349 1868.2,1348.4 1869,1348.9 1869.8,1346.5 1870.6,1345.3 1871.4,1347.3 1872.2,1348.7 1873,1349.3 1873.8,1347 1874.6,1346.6 1875.4,1348.9 1876.2,1348.1 1877,1348 1877.8,1349.9 1878.6,1346.4 1879.4,1350.2 1880.2,1349.3 1881,1349 1881.8,1346 1882.6,1345.9 1883.4,1349 1884.2,1346.1 1885,1348.9 1885.8,1350.7 1886.6,1351 1887.4,1350 1888.2,1348 1889,1348.9 1889.8,1348.5 1890.6,1346.4 1891.4,1347.7 1892.2,1347.3 1893,1346.5 1893.8,1345.2 1894.6,1346.8 1895.4,1351 1896.2,1350.3 1897,1348.3 1897.8,1345 1898.6,1347.3 1899.4,1351.6 1900.2,1345.3 1901,1348.7 1901.8,1347.1 1902.6,1348.1 1903.4,1348 1904.2,1350.2 1905,1348.3 1905.8,1347.8 1906.6,1348.6 1907.4,1352.2 1908.2,1348.7 1909,1346.5 1909.8,1350.1 1910.6,1347.9 1911.4,1348 1912.2,1349.8 1913,1347.5 1913.8,1346.3 1914.6,1349.3 1915.4,1346.1 1916.2,1347.6 1917,1348.4 1917.8,1348.8 1918.6,1348.6 1919.4,1348.6 1920.2,1349.2 1921,1347.4 1921.8,1350.2 1922.6,1348.1 1923.4,1349.1 1924.2,1346.6 1925,1348.5 1925.8,1345 1926.6,1348.9 1927.4,1346.4 1928.2,1348.3 1929,1347.9 1929.8,1348.5 1930.6,1346.1 1931.4,1348.6 1932.2,1346.9 1933,1348.5 1933.8,1347.4 1934.6,1346.7 1935.4,1349.1 1936.2,1348.9 1937,1347.7 1937.8,1348 1938.6,1348.2 1939.4,1350.2 1940.2,1349.4 1941,1347.7 1941.8,1349.6 1942.6,1348.3 1943.4,1348.7 1944.2,1347.8 1945,1347.7 1945.8,1347.2 1946.6,1348.6 1947.4,1348.9 1948.2,1349.5 1949,1346.9 1949.8,1345.8 1950.6,1347.2 1951.4,1348.5 1952.2,1345.1 1953,1349.7 1953.8,1346 1954.6,1347 1955.4,1348.6 1956.2,1347.9 1957,1347.6 1957.8,1347.1 1958.6,1348.9 1959.4,1348.2 1960.2,1345.3 1961,1349.5 1961.8,1345.3 1962.6,1350.3 1963.4,1348.1 1964.2,1347.9 1965,1348.5 1965.8,1348.5 1966.6,1346.2 1967.4,1347 1968.2,1346.5 1969,1347.7 1969.8,1349.2 1970.6,1343.1 1971.4,1344.1 1972.2,1352.6 1973,1348.4 1973.8,1346 1974.6,1348.4 1975.4,1348.1 1976.2,1347.8 1977,1348.5 1977.8,1349 1978.6,1346.5 1979.4,1348.1 1980.2,1349 1981,1347.3 1981.8,1347.3 1982.6,1347.3 1983.4,1349.5 1984.2,1349.7 1985,1348.9 1985.8,1347.4 1986.6,1344.9 1987.4,1344.7 1988.2,1349.1 1989,1348 1989.8,1350.6 1990.6,1348.2 1991.4,1349 1992.2,1348 1993,1345.5 1993.8,1346.8 1994.6,1346.5 1995.4,1348.1 1996.2,1346.9 1997,1348 1997.8,1349.4 1998.6,1350.6 1999.4,1346.5 2000.2,1346.6 2001,1350 2001.8,1346.5 2002.6,1344.3"/><polyline fill="none" stroke="#0000ff" stroke-width="5.2" stroke-linejoin="round"  points="2003.4,1346 2004.2,1344.8 2004.6,1346.6"/><polyline fill="none" stroke="#0000ff" stroke-width="5.2" stroke-linejoin="round"  points="2005.4,1343.8 2006.2,1344.9 2007,1344 2007.4,1345.3"/><polyline fill="none" stroke="#0000ff" stroke-width="5.2" stroke-linejoin="round"  points="2040.2,1347.8 2041,1343.9 2041.8,1347.7 2042.6,1347.9 2043.4,1347.4 2044.2,1350 2045,1348 2045.8,1347.7 2046.6,1349.1 2047.4,1350.1 2048.2,1349.8 2049,1347.8 2049.8,1348.6 2050.6,1349 2051.4,1346.7 2052.2,1346.7 2053,1348.3 2053.8,1347.8 2054.6,1348.9 2055.4,1347.6 2056.2,1350.6 2057,1348.2 2057.8,1347.7 2058.6,1348.4 2059.4,1347 2060.2,1348.6 2061,1347.4 2061.8,1345.6 2062.6,1346.1 2063.4,1346.9 2064.2,1349.1 2065,1349.3 2065.8,1348.5 2066.6,1348.9 2067.4,1347.4 2068.2,1349.3 2069,1347.1 2069.8,1345.2 2070.6,1347 2071.4,1348.9 2072.2,1346.7 2073,1345.3 2073.8,1347.1 2074.6,1349 2075.4,1347.5 2076.2,1348.3 2077,1344.9 2077.8,1346.7 2078.6,1349.6 2079.4,1348.2 2080.2,1348.5 2081,1346.3 2081.8,1347.2 2082.6,1347.6 2083.4,1348.7 2084.2,1347.9 2085,1348.9 2085.8,1346.7 2086.6,1347.8 2087.4,1349.6 2088.2,1347.3 2089,1346.5 2089.8,1351.2 2090.6,1348.9 2091.4,1349.9 2092.2,1348.5 2093,1349.9 2093.8,1348.6 2094.6,1348.5 2095.4,1349.5 2096.2,1348.8 2097,1349.3 2097.8,1348.5 2098.6,1348.4 2099.4,1350.2 2100.2,1348.7 2101,1347.6 2101.8,1345.3 2102.6,1350.1 2103.4,1348.2 2104.2,1349.8 2105,1346.1 2105.8,1348.9 2106.6,1347.8 2107.4,1348 2108.2,1348.7 2109,1351.8 2109.8,1345.2 2110.6,1349.7 2111.4,1349.1 2112.2,1347.6 2113,1347.6 2113.8,1347.1 2114.6,1345.9 2115.4,1346.2 2116.2,1346.8 2117,1349.7 2117.8,1346.9 2118.6,1348.5 2119.4,1347.2 2120.2,1348.1 2121,1346.8 2121.8,1347.8 2122.6,1349.9 2123.4,1348.2 2124.2,1347.3 2125,1345.5 2125.8,1345.2 2126.6,1348.4 2127.4,1349.6 2128.2,1347.8 2129,1348.6 2129.8,1346.9 2130.6,1349 2131.4,1349.5 2132.2,1346.1 2133,1349.4 2133.8,1349.8 2134.6,1350.5 2135.4,1347 2136.2,1347.7 2137,1349 2137.8,1348.9"/><polyline fill="none" stroke="#0000ff" stroke-width="5.2" stroke-linejoin="round"  points="2138.6,1348.5 2139.4,1345 2140.2,1347.5 2141,1344 2141.8,1347.3 2142.2,1344.2"/><polyline fill="none" stroke="#0000ff" stroke-width="5.2" stroke-linejoin="round"  points="2159,1345 2159.8,1344.2 2160.6,1344.7 2161.4,1346 2162.2,1345.6 2163,1348.8 2163.8,1350.1 2164.6,1348.2 2165.4,1345.7 2166.2,1346.1 2167,1350.4 2167.8,1350 2168.6,1347.1 2169.4,1347.6 2170.2,1346.7 2171,1349.4 2171.8,1345.5 2172.6,1347.4 2173.4,1346.7 2174.2,1346.3 2175,1348.6 2175.8,1346.2 2176.6,1346.6 2177.4,1348.3 2178.2,1345.8 2179,1347.4 2179.8,1346.7 2180.6,1346.3 2181.4,1346.9"/><polyline fill="none" stroke="#0000ff" stroke-width="5.2" stroke-linejoin="round"  points="2182.2,1349.9 2183,1348.4 2183.8,1346.3 2184.6,1348 2185.4,1348 2186.2,1348.2 2187,1348.6 2187.8,1347.1 2188.6,1346.8 2189.4,1348.8 2190.2,1344.7 2191,1347.1 2191.8,1346.9 2192.6,1349.5 2193.4,1350.4 2194.2,1346.2 2195,1349.7 2195.8,1347 2196.6,1348.5 2197.4,1350.6 2198.2,1349.5 2199,1350.7 2199.8,1348.9 2200.6,1343.7 2201.4,1345.1 2202.2,1349.5 2203,1352 2203.8,1349.3 2204.6,1349.2 2205.4,1347.9 2206.2,1349.6 2207,1347.4 2207.8,1346.2 2208.6,1348.4 2209.4,1349.2 2210.2,1349.7 2211,1348.6 2211.8,1350.1 2212.6,1346.7 2213.4,1345.6 2214.2,1345.4 2214.6,1346.6"/><polyline fill="none" stroke="#0000ff" stroke-width="5.2" stroke-linejoin="round"  points="2215.4,1345.2 2216.2,1347 2217,1345.5 2217.8,1347.4 2218.6,1350.8 2219.4,1344.4 2220.2,1350.3 2221,1350.4 2221.8,1348.6 2222.6,1348.3 2223.4,1348.9 2224.2,1348.7 2225,1349.4 2225.8,1350.8 2226.6,1348.4 2227.4,1344.4 2228.2,1347.3 2229,1346.8 2229.8,1349.4 2230.6,1348.2 2231.4,1343.3 2232.2,1347.7 2232.6,1348"/>
<rect x="333.5" y="37.0" width="1903.0" height="1318.5" fill="none" stroke="#000" stroke-width="6.5"/>
<g stroke="#000"><line x1="333.5" y1="1329.1" x2="357" y2="1329.1" stroke-width="4"/><line x1="2236.5" y1="1329.1" x2="2213" y2="1329.1" stroke-width="4"/><line x1="333.5" y1="1302.8" x2="357" y2="1302.8" stroke-width="4"/><line x1="2236.5" y1="1302.8" x2="2213" y2="1302.8" stroke-width="4"/><line x1="333.5" y1="1276.4" x2="357" y2="1276.4" stroke-width="4"/><line x1="2236.5" y1="1276.4" x2="2213" y2="1276.4" stroke-width="4"/><line x1="333.5" y1="1250" x2="357" y2="1250" stroke-width="4"/><line x1="2236.5" y1="1250" x2="2213" y2="1250" stroke-width="4"/><line x1="333.5" y1="1223.7" x2="364.5" y2="1223.7" stroke-width="6.5"/><line x1="2236.5" y1="1223.7" x2="2205.5" y2="1223.7" stroke-width="6.5"/><line x1="333.5" y1="1197.3" x2="357" y2="1197.3" stroke-width="4"/><line x1="2236.5" y1="1197.3" x2="2213" y2="1197.3" stroke-width="4"/><line x1="333.5" y1="1170.9" x2="357" y2="1170.9" stroke-width="4"/><line x1="2236.5" y1="1170.9" x2="2213" y2="1170.9" stroke-width="4"/><line x1="333.5" y1="1144.5" x2="357" y2="1144.5" stroke-width="4"/><line x1="2236.5" y1="1144.5" x2="2213" y2="1144.5" stroke-width="4"/><line x1="333.5" y1="1118.2" x2="357" y2="1118.2" stroke-width="4"/><line x1="2236.5" y1="1118.2" x2="2213" y2="1118.2" stroke-width="4"/><line x1="333.5" y1="1091.8" x2="364.5" y2="1091.8" stroke-width="6.5"/><line x1="2236.5" y1="1091.8" x2="2205.5" y2="1091.8" stroke-width="6.5"/><line x1="333.5" y1="1065.4" x2="357" y2="1065.4" stroke-width="4"/><line x1="2236.5" y1="1065.4" x2="2213" y2="1065.4" stroke-width="4"/><line x1="333.5" y1="1039.1" x2="357" y2="1039.1" stroke-width="4"/><line x1="2236.5" y1="1039.1" x2="2213" y2="1039.1" stroke-width="4"/><line x1="333.5" y1="1012.7" x2="357" y2="1012.7" stroke-width="4"/><line x1="2236.5" y1="1012.7" x2="2213" y2="1012.7" stroke-width="4"/><line x1="333.5" y1="986.3" x2="357" y2="986.3" stroke-width="4"/><line x1="2236.5" y1="986.3" x2="2213" y2="986.3" stroke-width="4"/><line x1="333.5" y1="960" x2="364.5" y2="960" stroke-width="6.5"/><line x1="2236.5" y1="960" x2="2205.5" y2="960" stroke-width="6.5"/><line x1="333.5" y1="933.6" x2="357" y2="933.6" stroke-width="4"/><line x1="2236.5" y1="933.6" x2="2213" y2="933.6" stroke-width="4"/><line x1="333.5" y1="907.2" x2="357" y2="907.2" stroke-width="4"/><line x1="2236.5" y1="907.2" x2="2213" y2="907.2" stroke-width="4"/><line x1="333.5" y1="880.8" x2="357" y2="880.8" stroke-width="4"/><line x1="2236.5" y1="880.8" x2="2213" y2="880.8" stroke-width="4"/><line x1="333.5" y1="854.5" x2="357" y2="854.5" stroke-width="4"/><line x1="2236.5" y1="854.5" x2="2213" y2="854.5" stroke-width="4"/><line x1="333.5" y1="828.1" x2="364.5" y2="828.1" stroke-width="6.5"/><line x1="2236.5" y1="828.1" x2="2205.5" y2="828.1" stroke-width="6.5"/><line x1="333.5" y1="801.7" x2="357" y2="801.7" stroke-width="4"/><line x1="2236.5" y1="801.7" x2="2213" y2="801.7" stroke-width="4"/><line x1="333.5" y1="775.4" x2="357" y2="775.4" stroke-width="4"/><line x1="2236.5" y1="775.4" x2="2213" y2="775.4" stroke-width="4"/><line x1="333.5" y1="749" x2="357" y2="749" stroke-width="4"/><line x1="2236.5" y1="749" x2="2213" y2="749" stroke-width="4"/><line x1="333.5" y1="722.6" x2="357" y2="722.6" stroke-width="4"/><line x1="2236.5" y1="722.6" x2="2213" y2="722.6" stroke-width="4"/><line x1="333.5" y1="696.2" x2="364.5" y2="696.2" stroke-width="6.5"/><line x1="2236.5" y1="696.2" x2="2205.5" y2="696.2" stroke-width="6.5"/><line x1="333.5" y1="669.9" x2="357" y2="669.9" stroke-width="4"/><line x1="2236.5" y1="669.9" x2="2213" y2="669.9" stroke-width="4"/><line x1="333.5" y1="643.5" x2="357" y2="643.5" stroke-width="4"/><line x1="2236.5" y1="643.5" x2="2213" y2="643.5" stroke-width="4"/><line x1="333.5" y1="617.1" x2="357" y2="617.1" stroke-width="4"/><line x1="2236.5" y1="617.1" x2="2213" y2="617.1" stroke-width="4"/><line x1="333.5" y1="590.8" x2="357" y2="590.8" stroke-width="4"/><line x1="2236.5" y1="590.8" x2="2213" y2="590.8" stroke-width="4"/><line x1="333.5" y1="564.4" x2="364.5" y2="564.4" stroke-width="6.5"/><line x1="2236.5" y1="564.4" x2="2205.5" y2="564.4" stroke-width="6.5"/><line x1="333.5" y1="538" x2="357" y2="538" stroke-width="4"/><line x1="2236.5" y1="538" x2="2213" y2="538" stroke-width="4"/><line x1="333.5" y1="511.7" x2="357" y2="511.7" stroke-width="4"/><line x1="2236.5" y1="511.7" x2="2213" y2="511.7" stroke-width="4"/><line x1="333.5" y1="485.3" x2="357" y2="485.3" stroke-width="4"/><line x1="2236.5" y1="485.3" x2="2213" y2="485.3" stroke-width="4"/><line x1="333.5" y1="458.9" x2="357" y2="458.9" stroke-width="4"/><line x1="2236.5" y1="458.9" x2="2213" y2="458.9" stroke-width="4"/><line x1="333.5" y1="432.5" x2="364.5" y2="432.5" stroke-width="6.5"/><line x1="2236.5" y1="432.5" x2="2205.5" y2="432.5" stroke-width="6.5"/><line x1="333.5" y1="406.2" x2="357" y2="406.2" stroke-width="4"/><line x1="2236.5" y1="406.2" x2="2213" y2="406.2" stroke-width="4"/><line x1="333.5" y1="379.8" x2="357" y2="379.8" stroke-width="4"/><line x1="2236.5" y1="379.8" x2="2213" y2="379.8" stroke-width="4"/><line x1="333.5" y1="353.4" x2="357" y2="353.4" stroke-width="4"/><line x1="2236.5" y1="353.4" x2="2213" y2="353.4" stroke-width="4"/><line x1="333.5" y1="327.1" x2="357" y2="327.1" stroke-width="4"/><line x1="2236.5" y1="327.1" x2="2213" y2="327.1" stroke-width="4"/><line x1="333.5" y1="300.7" x2="364.5" y2="300.7" stroke-width="6.5"/><line x1="2236.5" y1="300.7" x2="2205.5" y2="300.7" stroke-width="6.5"/><line x1="333.5" y1="274.3" x2="357" y2="274.3" stroke-width="4"/><line x1="2236.5" y1="274.3" x2="2213" y2="274.3" stroke-width="4"/><line x1="333.5" y1="248" x2="357" y2="248" stroke-width="4"/><line x1="2236.5" y1="248" x2="2213" y2="248" stroke-width="4"/><line x1="333.5" y1="221.6" x2="357" y2="221.6" stroke-width="4"/><line x1="2236.5" y1="221.6" x2="2213" y2="221.6" stroke-width="4"/><line x1="333.5" y1="195.2" x2="357" y2="195.2" stroke-width="4"/><line x1="2236.5" y1="195.2" x2="2213" y2="195.2" stroke-width="4"/><line x1="333.5" y1="168.8" x2="364.5" y2="168.8" stroke-width="6.5"/><line x1="2236.5" y1="168.8" x2="2205.5" y2="168.8" stroke-width="6.5"/><line x1="333.5" y1="142.5" x2="357" y2="142.5" stroke-width="4"/><line x1="2236.5" y1="142.5" x2="2213" y2="142.5" stroke-width="4"/><line x1="333.5" y1="116.1" x2="357" y2="116.1" stroke-width="4"/><line x1="2236.5" y1="116.1" x2="2213" y2="116.1" stroke-width="4"/><line x1="333.5" y1="89.7" x2="357" y2="89.7" stroke-width="4"/><line x1="2236.5" y1="89.7" x2="2213" y2="89.7" stroke-width="4"/><line x1="333.5" y1="63.4" x2="357" y2="63.4" stroke-width="4"/><line x1="2236.5" y1="63.4" x2="2213" y2="63.4" stroke-width="4"/><line x1="381.1" y1="37.0" x2="381.1" y2="53" stroke-width="3.5"/><line x1="381.1" y1="1355.5" x2="381.1" y2="1339.5" stroke-width="3.5"/><line x1="428.6" y1="37.0" x2="428.6" y2="53" stroke-width="3.5"/><line x1="428.6" y1="1355.5" x2="428.6" y2="1339.5" stroke-width="3.5"/><line x1="476.2" y1="37.0" x2="476.2" y2="53" stroke-width="3.5"/><line x1="476.2" y1="1355.5" x2="476.2" y2="1339.5" stroke-width="3.5"/><line x1="523.8" y1="37.0" x2="523.8" y2="53" stroke-width="3.5"/><line x1="523.8" y1="1355.5" x2="523.8" y2="1339.5" stroke-width="3.5"/><line x1="571.4" y1="37.0" x2="571.4" y2="59" stroke-width="4.5"/><line x1="571.4" y1="1355.5" x2="571.4" y2="1333.5" stroke-width="4.5"/><line x1="619" y1="37.0" x2="619" y2="53" stroke-width="3.5"/><line x1="619" y1="1355.5" x2="619" y2="1339.5" stroke-width="3.5"/><line x1="666.5" y1="37.0" x2="666.5" y2="53" stroke-width="3.5"/><line x1="666.5" y1="1355.5" x2="666.5" y2="1339.5" stroke-width="3.5"/><line x1="714.1" y1="37.0" x2="714.1" y2="53" stroke-width="3.5"/><line x1="714.1" y1="1355.5" x2="714.1" y2="1339.5" stroke-width="3.5"/><line x1="761.7" y1="37.0" x2="761.7" y2="53" stroke-width="3.5"/><line x1="761.7" y1="1355.5" x2="761.7" y2="1339.5" stroke-width="3.5"/><line x1="809.2" y1="37.0" x2="809.2" y2="59" stroke-width="4.5"/><line x1="809.2" y1="1355.5" x2="809.2" y2="1333.5" stroke-width="4.5"/><line x1="856.8" y1="37.0" x2="856.8" y2="53" stroke-width="3.5"/><line x1="856.8" y1="1355.5" x2="856.8" y2="1339.5" stroke-width="3.5"/><line x1="904.4" y1="37.0" x2="904.4" y2="53" stroke-width="3.5"/><line x1="904.4" y1="1355.5" x2="904.4" y2="1339.5" stroke-width="3.5"/><line x1="952" y1="37.0" x2="952" y2="53" stroke-width="3.5"/><line x1="952" y1="1355.5" x2="952" y2="1339.5" stroke-width="3.5"/><line x1="999.5" y1="37.0" x2="999.5" y2="53" stroke-width="3.5"/><line x1="999.5" y1="1355.5" x2="999.5" y2="1339.5" stroke-width="3.5"/><line x1="1047.1" y1="37.0" x2="1047.1" y2="59" stroke-width="4.5"/><line x1="1047.1" y1="1355.5" x2="1047.1" y2="1333.5" stroke-width="4.5"/><line x1="1094.7" y1="37.0" x2="1094.7" y2="53" stroke-width="3.5"/><line x1="1094.7" y1="1355.5" x2="1094.7" y2="1339.5" stroke-width="3.5"/><line x1="1142.3" y1="37.0" x2="1142.3" y2="53" stroke-width="3.5"/><line x1="1142.3" y1="1355.5" x2="1142.3" y2="1339.5" stroke-width="3.5"/><line x1="1189.8" y1="37.0" x2="1189.8" y2="53" stroke-width="3.5"/><line x1="1189.8" y1="1355.5" x2="1189.8" y2="1339.5" stroke-width="3.5"/><line x1="1237.4" y1="37.0" x2="1237.4" y2="53" stroke-width="3.5"/><line x1="1237.4" y1="1355.5" x2="1237.4" y2="1339.5" stroke-width="3.5"/><line x1="1285" y1="37.0" x2="1285" y2="59" stroke-width="4.5"/><line x1="1285" y1="1355.5" x2="1285" y2="1333.5" stroke-width="4.5"/><line x1="1332.6" y1="37.0" x2="1332.6" y2="53" stroke-width="3.5"/><line x1="1332.6" y1="1355.5" x2="1332.6" y2="1339.5" stroke-width="3.5"/><line x1="1380.2" y1="37.0" x2="1380.2" y2="53" stroke-width="3.5"/><line x1="1380.2" y1="1355.5" x2="1380.2" y2="1339.5" stroke-width="3.5"/><line x1="1427.7" y1="37.0" x2="1427.7" y2="53" stroke-width="3.5"/><line x1="1427.7" y1="1355.5" x2="1427.7" y2="1339.5" stroke-width="3.5"/><line x1="1475.3" y1="37.0" x2="1475.3" y2="53" stroke-width="3.5"/><line x1="1475.3" y1="1355.5" x2="1475.3" y2="1339.5" stroke-width="3.5"/><line x1="1522.9" y1="37.0" x2="1522.9" y2="59" stroke-width="4.5"/><line x1="1522.9" y1="1355.5" x2="1522.9" y2="1333.5" stroke-width="4.5"/><line x1="1570.5" y1="37.0" x2="1570.5" y2="53" stroke-width="3.5"/><line x1="1570.5" y1="1355.5" x2="1570.5" y2="1339.5" stroke-width="3.5"/><line x1="1618" y1="37.0" x2="1618" y2="53" stroke-width="3.5"/><line x1="1618" y1="1355.5" x2="1618" y2="1339.5" stroke-width="3.5"/><line x1="1665.6" y1="37.0" x2="1665.6" y2="53" stroke-width="3.5"/><line x1="1665.6" y1="1355.5" x2="1665.6" y2="1339.5" stroke-width="3.5"/><line x1="1713.2" y1="37.0" x2="1713.2" y2="53" stroke-width="3.5"/><line x1="1713.2" y1="1355.5" x2="1713.2" y2="1339.5" stroke-width="3.5"/><line x1="1760.8" y1="37.0" x2="1760.8" y2="59" stroke-width="4.5"/><line x1="1760.8" y1="1355.5" x2="1760.8" y2="1333.5" stroke-width="4.5"/><line x1="1808.3" y1="37.0" x2="1808.3" y2="53" stroke-width="3.5"/><line x1="1808.3" y1="1355.5" x2="1808.3" y2="1339.5" stroke-width="3.5"/><line x1="1855.9" y1="37.0" x2="1855.9" y2="53" stroke-width="3.5"/><line x1="1855.9" y1="1355.5" x2="1855.9" y2="1339.5" stroke-width="3.5"/><line x1="1903.5" y1="37.0" x2="1903.5" y2="53" stroke-width="3.5"/><line x1="1903.5" y1="1355.5" x2="1903.5" y2="1339.5" stroke-width="3.5"/><line x1="1951" y1="37.0" x2="1951" y2="53" stroke-width="3.5"/><line x1="1951" y1="1355.5" x2="1951" y2="1339.5" stroke-width="3.5"/><line x1="1998.6" y1="37.0" x2="1998.6" y2="59" stroke-width="4.5"/><line x1="1998.6" y1="1355.5" x2="1998.6" y2="1333.5" stroke-width="4.5"/><line x1="2046.2" y1="37.0" x2="2046.2" y2="53" stroke-width="3.5"/><line x1="2046.2" y1="1355.5" x2="2046.2" y2="1339.5" stroke-width="3.5"/><line x1="2093.8" y1="37.0" x2="2093.8" y2="53" stroke-width="3.5"/><line x1="2093.8" y1="1355.5" x2="2093.8" y2="1339.5" stroke-width="3.5"/><line x1="2141.3" y1="37.0" x2="2141.3" y2="53" stroke-width="3.5"/><line x1="2141.3" y1="1355.5" x2="2141.3" y2="1339.5" stroke-width="3.5"/><line x1="2188.9" y1="37.0" x2="2188.9" y2="53" stroke-width="3.5"/><line x1="2188.9" y1="1355.5" x2="2188.9" y2="1339.5" stroke-width="3.5"/></g>
<g font-family="'Liberation Sans', Arial, sans-serif" font-size="53.5" fill="#000" text-anchor="end">
<text x="305" y="1374.5">0</text>
<text x="305" y="1242.7">700</text>
<text x="305" y="1110.8">1400</text>
<text x="305" y="979">2100</text>
<text x="305" y="847.1">2800</text>
<text x="305" y="715.2">3500</text>
<text x="305" y="583.4">4200</text>
<text x="305" y="451.5">4900</text>
<text x="305" y="319.7">5600</text>
<text x="305" y="187.8">6300</text>
<text x="305" y="56">7000</text>
</g>
<g font-family="'Liberation Sans', Arial, sans-serif" font-size="64.5" fill="#000" text-anchor="middle">
<text x="340" y="1448">20</text>
<text x="577.9" y="1448">30</text>
<text x="815.8" y="1448">40</text>
<text x="1053.6" y="1448">50</text>
<text x="1291.5" y="1448">60</text>
<text x="1529.4" y="1448">70</text>
<text x="1767.2" y="1448">80</text>
<text x="2005.1" y="1448">90</text>
<text x="2245" y="1448">100</text>
</g>
<text transform="translate(76,555) rotate(-90)" font-family="'Liberation Sans', Arial, sans-serif" font-size="74.3" text-anchor="middle" fill="#000">Intensity (arb. units)</text>
<text x="1556" y="1522.5" font-family="'Liberation Serif', 'Times New Roman', serif" font-size="76" fill="#3a3a3a">2θ (°)</text>
<rect x="467.9" y="100.4" width="113.5" height="124.3" fill="none" stroke="#000" stroke-width="4.4"/>
<text x="524.5" y="186" font-family="'Liberation Serif', 'Times New Roman', serif" font-size="75" text-anchor="middle" fill="#000">a</text>
<text x="1131" y="339" font-family="'Liberation Serif', 'Times New Roman', serif" font-size="91.1" fill="#00b040">cold rolled &amp; heat treated</text>
<text x="1401.5" y="752" font-family="'Liberation Serif', 'Times New Roman', serif" font-size="90.1" fill="#ff0000">cold rolled</text>
<text x="1156" y="1223" font-family="'Liberation Serif', 'Times New Roman', serif" font-size="89" fill="#0b4a8a">annealed</text>
<g stroke="#cdcdcd" stroke-width="2.9"><line x1="603.8" y1="1749.2" x2="603.8" y2="2985" stroke-dasharray="11.7 7.1" stroke-dashoffset="4.9"/><line x1="837.6" y1="1749.2" x2="837.6" y2="2985" stroke-dasharray="11.7 7.1" stroke-dashoffset="4.9"/><line x1="1071.4" y1="1749.2" x2="1071.4" y2="2985" stroke-dasharray="11.7 7.1" stroke-dashoffset="4.9"/><line x1="1305.2" y1="1749.2" x2="1305.2" y2="2985" stroke-dasharray="11.7 7.1" stroke-dashoffset="4.9"/><line x1="1539" y1="1749.2" x2="1539" y2="2985" stroke-dasharray="11.7 7.1" stroke-dashoffset="4.9"/><line x1="1772.8" y1="1749.2" x2="1772.8" y2="2985" stroke-dasharray="11.7 7.1" stroke-dashoffset="4.9"/><line x1="373" y1="2882.1" x2="2005.5" y2="2882.1" stroke-dasharray="11 7.7" stroke-dashoffset="4.3"/><line x1="373" y1="2676.3" x2="2005.5" y2="2676.3" stroke-dasharray="11 7.7" stroke-dashoffset="4.3"/><line x1="373" y1="2470.5" x2="2005.5" y2="2470.5" stroke-dasharray="11 7.7" stroke-dashoffset="4.3"/><line x1="373" y1="2264.8" x2="2005.5" y2="2264.8" stroke-dasharray="11 7.7" stroke-dashoffset="4.3"/><line x1="373" y1="2059" x2="2005.5" y2="2059" stroke-dasharray="11 7.7" stroke-dashoffset="4.3"/><line x1="373" y1="1853.2" x2="2005.5" y2="1853.2" stroke-dasharray="11 7.7" stroke-dashoffset="4.3"/></g>
<polyline fill="none" stroke="#ff0000" stroke-width="5.5" stroke-linejoin="round"  points="371,2868.4 372.9,2837.8 374.8,2865.9 376.7,2860.5 378.6,2842.2 380.5,2848.2 382.4,2876 384.3,2852.1 386.2,2846.4 388.1,2863.7 390,2854.9 391.9,2861 393.8,2860.9 395.7,2839.5 397.6,2845.6 399.5,2861 401.4,2864.3 403.3,2846.8 405.2,2851.1 407.1,2855.8 409,2850.6 410.9,2864.1 412.8,2859 414.7,2858.7 416.6,2840.9 418.5,2851.9 420.4,2860.6 422.3,2858 424.2,2841.4 426.1,2847.7 428,2855.6 429.9,2853.8 431.8,2843.6 433.7,2852.9 435.6,2852.3 437.5,2856.1 439.4,2872.2 441.3,2844 443.2,2850.8 445.1,2841.5 447,2819.9 448.9,2852 450.8,2843.1 452.7,2851.9 454.6,2855.3 456.5,2855.8 458.4,2851.5 460.3,2847.5 462.2,2831.1 464.1,2844 466,2852.8 467.9,2837.8 469.8,2855.8 471.7,2840.1 473.6,2844.5 475.5,2851.8 477.4,2842 479.3,2835.3 481.2,2839.8 483.1,2864.3 485,2863 486.9,2846.8 488.8,2848.5 490.7,2859.6 492.6,2837.8 494.5,2840.3 496.4,2832.9 498.3,2841.9 500.2,2827.4 502.1,2851 504,2848.2 505.9,2837.5 507.8,2840.1 509.7,2859.2 511.6,2851.6 513.5,2837.4 515.4,2842 517.3,2850.5 519.2,2845.9 521.1,2844.3 523,2844.8 524.9,2837.7 526.8,2835.5 528.7,2850.1 530.6,2818 532.5,2838.6 534.4,2842.9 536.3,2821.8 538.2,2841.1 540.1,2853.3 542,2854.7 543.9,2847 545.8,2847.2 547.7,2858.9 549.6,2844.5 551.5,2849.3 553.4,2826.5 555.3,2835.2 557.2,2848.7 559.1,2828.8 561,2841.6 562.9,2860.7 564.8,2839.6 566.7,2823.7 568.6,2838.2 570.5,2845.5 572.4,2837.9 574.3,2844.9 576.2,2832.1 578.1,2835.3 580,2841.6 581.9,2829.1 583.8,2819.3 585.7,2833.9 587.6,2823.3 589.5,2828 591.4,2838.9 593.3,2836.1 595.2,2820.1 597.1,2831.8 599,2825.2 600.9,2852.9 602.8,2826.8 604.7,2854.4 606.6,2812.4 608.5,2830.4 610.4,2823.4 612.3,2840.4 614.2,2832.9 616.1,2844 618,2841.8 619.9,2827.4 621.8,2833.2 623.7,2831.9 625.6,2829.6 627.5,2810.1 629.4,2813.7 631.3,2801.9 633.2,2827.3 635.1,2830.9 637,2820 638.9,2812.7 640.8,2839.3 642.7,2812.6 644.6,2824 646.5,2813.3 648.4,2814.7 650.3,2821.6 652.2,2827.6 654.1,2820 656,2801.1 657.9,2837.8 659.8,2811.7 661.7,2815.1 663.6,2814.7 665.5,2808.3 667.4,2804 669.3,2808.9 671.2,2789.3 673.1,2810.7 675,2774.2 676.9,2831.3 678.8,2779.2 680.7,2806.4 682.6,2817.7 684.5,2811.6 686.4,2804 688.3,2792.2 690.2,2794 692.1,2770.2 694,2791 695.9,2790.9 697.8,2789 699.7,2771.1 701.6,2775.5 703.5,2746.3 705.4,2778.2 707.3,2770.4 709.2,2767.9 711.1,2769.2 713,2757.6 714.9,2761.9 716.8,2783.1 718.7,2769.3 720.6,2753 722.5,2779 724.4,2737.8 726.3,2702.1 728.2,2703.9 730.1,2740.4 732,2732.9 733.9,2704.5 735.8,2703.2 737.7,2662.5 739.6,2662.3 741.5,2646.6 743.4,2646.3 745.3,2600.7 747.2,2606.4 749.1,2524.4 751,2561.6 752.9,2562.7 754.8,2558 756.7,2551.7 758.6,2547 760.5,2488.7 762.4,2456.6 764.3,2399.9 766.2,2420.1 768.1,2374.6 770,2371.5 771.9,2365.5 773.8,2309.2 775.7,2276.6 776,2244.2 779,2182.4 782,2141.3 784,2079.6 787,2048.7 789,2007.5 791,1976.7 793,1956.1 795,1925.2 797,1868.6 799.4,1853.2 801,1878.9 804.6,1925.2 807,1889.2 809.5,1873.8 811.9,1853.2 813.5,1868.6 815,1878.9 817,1884.1 819,1873.8 820.5,1925.2 821.5,1976.7 822.5,2017.8 824,2048.7 826.4,2100.1 829.5,2161.9 832.6,2203 835,2264.8 836.5,2217.9 838.4,2269 840.3,2346.5 842.2,2345.8 844.1,2422.9 846,2348.6 847.9,2469.3 849.8,2482.1 851.7,2489.3 853.6,2508.9 855.5,2479.3 857.4,2521.3 859.3,2589.2 861.2,2573.4 863.1,2590.9 865,2572.6 866.9,2671.5 868.8,2654.6 870.7,2677.9 872.6,2657.2 874.5,2649.9 876.4,2686.1 878.3,2639 880.2,2719.9 882.1,2702 884,2727 885.9,2749.3 887.8,2734.7 889.7,2730.7 891.6,2751.6 893.5,2756.6 895.4,2749.8 897.3,2766.8 899.2,2741.1 901.1,2752 903,2766.3 904.9,2753.3 906.8,2814.2 908.7,2795.6 910.6,2761.5 912.5,2801.3 914.4,2774.6 916.3,2786.5 918.2,2794.9 920.1,2802.7 922,2820.3 923.9,2827.6 925.8,2832.9 927.7,2803.8 929.6,2812.5 931.5,2809.3 933.4,2830.8 935.3,2815.9 937.2,2803 939.1,2829.1 941,2826.6 942.9,2825.9 944.8,2795 946.7,2808.1 948.6,2798.5 950.5,2790.4 952.4,2828.1 954.3,2821.7 956.2,2856.3 958.1,2825.6 960,2834 961.9,2827.6 963.8,2827.3 965.7,2856 967.6,2826 969.5,2836.1 971.4,2846.6 973.3,2839.1 975.2,2822.7 977.1,2840.7 979,2816.5 980.9,2827.5 982.8,2834.4 984.7,2845.9 986.6,2845.3 988.5,2822.3 990.4,2836 992.3,2833.4 994.2,2833.4 996.1,2827 998,2828.4 999.9,2841.4 1001.8,2834 1003.7,2839.8 1005.6,2832 1007.5,2855.5 1009.4,2841 1011.3,2824 1013.2,2853.3 1015.1,2847 1017,2837.2 1018.9,2853.6 1020.8,2839.3 1022.7,2837 1024.6,2832.1 1026.5,2838.8 1028.4,2837.8 1030.3,2846 1032.2,2838.7 1034.1,2838.7 1036,2836.6 1037.9,2833.8 1039.8,2833.9 1041.7,2834.7 1043.6,2839.5 1045.5,2841.6 1047.4,2848.1 1049.3,2835.6 1051.2,2829.7 1053.1,2848.2 1055,2836.4 1056.9,2844.6 1058.8,2845.3 1060.7,2854.4 1062.6,2846.5 1064.5,2837.2 1066.4,2838.7 1068.3,2835.2 1070.2,2851.3 1072.1,2867.6 1074,2836.8 1075.9,2844.9 1077.8,2837.4 1079.7,2825.2 1081.6,2833.5 1083.5,2867 1085.4,2850.1 1087.3,2848.4 1089.2,2828.2 1091.1,2853 1093,2848.7 1094.9,2833.8 1096.8,2864.1 1098.7,2851.3 1100.6,2860 1102.5,2856.9 1104.4,2840.8 1106.3,2845.3 1108.2,2847.2 1110.1,2846.4 1112,2850.4 1113.9,2846.6 1115.8,2840.6 1117.7,2854.1 1119.6,2844.4 1121.5,2850.7 1123.4,2836.1 1125.3,2833.1 1127.2,2838.9 1129.1,2835.1 1131,2850.7 1132.9,2849.1 1134.8,2843.6 1136.7,2848.8 1138.6,2839.6 1140.5,2847.5 1142.4,2858.9 1144.3,2856.3 1146.2,2843.1 1148.1,2821.4 1150,2844.7 1151.9,2861.9 1153.8,2843.5 1155.7,2853.2 1157.6,2859.8 1159.5,2819 1161.4,2821.4 1163.3,2846.6 1165.2,2846.6 1167.1,2849.1 1169,2837.8 1170.9,2837.6 1172.8,2835.1 1174.7,2857.5 1176.6,2849.2 1178.5,2838.1 1180.4,2844.8 1182.3,2861.6 1184.2,2846.4 1186.1,2836.1 1188,2868.4 1189.9,2830.6 1191.8,2848.1 1193.7,2831.3 1195.6,2836.6 1197.5,2842.7 1199.4,2847.4 1201.3,2848.3 1203.2,2853.6 1205.1,2845.1 1207,2843.2 1208.9,2862.1 1210.8,2853 1212.7,2871 1214.6,2862.9 1216.5,2855.1 1218.4,2842.2 1220.3,2847.1 1222.2,2846.2 1224.1,2851.9 1226,2858.7 1227.9,2838.8 1229.8,2840.2 1231.7,2859.2 1233.6,2850.5 1235.5,2843.6 1237.4,2858.4 1239.3,2855.7 1241.2,2843 1243.1,2846.2 1245,2837.7 1246.9,2850.3 1248.8,2840.8 1250.7,2842 1252.6,2828 1254.5,2855 1256.4,2847.7 1258.3,2857.2 1260.2,2840.9 1262.1,2839.9 1264,2830.2 1265.9,2849 1267.8,2838.4 1269.7,2844.6 1271.6,2829.7 1273.5,2846.3 1275.4,2848.6 1277.3,2838.1 1279.2,2847.5 1281.1,2853.6 1283,2864.6 1284.9,2841.9 1286.8,2834 1288.7,2845.3 1290.6,2836.4 1292.5,2850.4 1294.4,2839 1296.3,2837.9 1298.2,2850.6 1300.1,2860.6 1302,2849.2 1303.9,2846.4 1305.8,2839.4 1307.7,2866.1 1309.6,2831.9 1311.5,2840.7 1313.4,2849.3 1315.3,2857.4 1317.2,2853.2 1319.1,2842.6 1321,2842.6 1322.9,2843.2 1324.8,2862.8 1326.7,2851.5 1328.6,2847.2 1330.5,2849.1 1332.4,2853.2 1334.3,2845.3 1336.2,2834.6 1338.1,2859.8 1340,2834.5 1341.9,2856.5 1343.8,2856.3 1345.7,2857 1347.6,2839 1349.5,2842 1351.4,2836 1353.3,2854.6 1355.2,2858.6 1357.1,2825.5 1359,2841.2 1360.9,2871.7 1362.8,2857.2 1364.7,2846.1 1366.6,2832 1368.5,2827.6 1370.4,2857.4 1372.3,2839.8 1374.2,2848.6 1376.1,2849.6 1378,2850.8 1379.9,2858.9 1381.8,2855.7 1383.7,2850.1 1385.6,2841.9 1387.5,2860.6 1389.4,2831.9 1391.3,2850.2 1393.2,2838.4 1395.1,2856.3 1397,2858.5 1398.9,2835.1 1400.8,2840.6 1402.7,2866.2 1404.6,2841.4 1406.5,2862.8 1408.4,2841.8 1410.3,2838.4 1412.2,2846.3 1414.1,2849.6 1416,2848.1 1417.9,2846.9 1419.8,2854.7 1421.7,2841.9 1423.6,2852.4 1425.5,2863.8 1427.4,2843 1429.3,2827.9 1431.2,2835.3 1433.1,2847.8 1435,2853.6 1436.9,2851.3 1438.8,2832.3 1440.7,2838.1 1442.6,2854.7 1444.5,2843.4 1446.4,2830.4 1448.3,2844.9 1450.2,2844.3 1452.1,2851.3 1454,2862.7 1455.9,2836.5 1457.8,2838.8 1459.7,2838 1461.6,2832.4 1463.5,2846.1 1465.4,2849.5 1467.3,2840.7 1469.2,2857.7 1471.1,2865.2 1473,2848.9 1474.9,2851.6 1476.8,2854.2 1478.7,2844.1 1480.6,2837.6 1482.5,2851.6 1484.4,2865.7 1486.3,2862.5 1488.2,2854.3 1490.1,2847.1 1492,2845 1493.9,2839.7 1495.8,2823.6 1497.7,2855 1499.6,2834 1501.5,2846.4 1503.4,2842.7 1505.3,2847.9 1507.2,2833.1 1509.1,2835.5 1511,2828.7 1512.9,2822.4 1514.8,2857.7 1516.7,2844.8 1518.6,2834.3 1520.5,2833 1522.4,2837.7 1524.3,2850.5 1526.2,2821.9 1528.1,2852.6 1530,2833.1 1531.9,2847.4 1533.8,2845.8 1535.7,2833.6 1537.6,2851.5 1539.5,2834.4 1541.4,2841.6 1543.3,2853.5 1545.2,2843.2 1547.1,2839.8 1549,2835.1 1550.9,2830.4 1552.8,2856.6 1554.7,2850.2 1556.6,2849.6 1558.5,2856.7 1560.4,2820.5 1562.3,2846.2 1564.2,2844.3 1566.1,2845.3 1568,2850.3 1569.9,2830.7 1571.8,2838.8 1573.7,2847.5 1575.6,2843.5 1577.5,2835.5 1579.4,2836.3 1581.3,2830.1 1583.2,2825.4 1585.1,2844.6 1587,2849.8 1588.9,2844.1 1590.8,2837.4 1592.7,2845.5 1594.6,2835.2 1596.5,2852.1 1598.4,2839 1600.3,2834.8 1602.2,2847.8 1604.1,2830.1 1606,2820.3 1607.9,2872.4 1609.8,2847.3 1611.7,2840.7 1613.6,2830.2 1615.5,2849.9 1617.4,2837 1619.3,2823.2 1621.2,2835.7 1623.1,2845.1 1625,2845.5 1626.9,2836.6 1628.8,2834.4 1630.7,2835.3 1632.6,2839.4 1634.5,2863.3 1636.4,2848.9 1638.3,2843.4 1640.2,2838.4 1642.1,2834.5 1644,2847.3 1645.9,2833.1 1647.8,2824 1649.7,2835.5 1651.6,2832.7 1653.5,2845.8 1655.4,2852.2 1657.3,2836.5 1659.2,2837.8 1661.1,2830.8 1663,2845.8 1664.9,2853.4 1666.8,2853.4 1668.7,2840.5 1670.6,2863.9 1672.5,2829.7 1674.4,2848.1 1676.3,2844 1678.2,2847 1680.1,2828 1682,2858.2 1683.9,2837.3 1685.8,2840.5 1687.7,2832.8 1689.6,2836.3 1691.5,2856.1 1693.4,2862 1695.3,2867.7 1697.2,2849.1 1699.1,2841.2 1701,2844.6 1702.9,2850.5 1704.8,2841.4 1706.7,2861.1 1708.6,2834 1710.5,2831.9 1712.4,2834.6 1714.3,2839.7 1716.2,2829.4 1718.1,2861.5 1720,2857.8 1721.9,2847.1 1723.8,2847.4 1725.7,2850.9 1727.6,2842.5 1729.5,2850.9 1731.4,2831.5 1733.3,2847.2 1735.2,2871.6 1737.1,2852.3 1739,2855.3 1740.9,2862.8 1742.8,2838.8 1744.7,2858.2 1746.6,2867 1748.5,2852.7 1750.4,2830.6 1752.3,2848.3 1754.2,2830.1 1756.1,2842.3 1758,2830.7 1759.9,2842.2 1761.8,2843 1763.7,2878.3 1765.6,2862.9 1767.5,2863.1 1769.4,2852.5 1771.3,2840.3 1773.2,2842.6 1775.1,2844 1777,2868.9 1778.9,2860.1 1780.8,2852.2 1782.7,2845.4 1784.6,2849 1786.5,2859.4 1788.4,2865 1790.3,2841.2 1792.2,2860.5 1794.1,2852.5 1796,2850.9 1797.9,2846.5 1799.8,2858.3 1801.7,2862.7 1803.6,2853.1 1805.5,2859.7 1807.4,2849.9 1809.3,2865.9 1811.2,2855.3 1813.1,2863.7 1815,2830.9 1816.9,2868.9 1818.8,2856.7 1820.7,2854.9 1822.6,2857.2 1824.5,2864.1 1826.4,2861.1 1828.3,2853.8 1830.2,2837.9 1832.1,2839.6 1834,2834.7 1835.9,2856.6 1837.8,2849.8 1839.7,2839.1 1841.6,2846.2 1843.5,2849.2 1845.4,2850.4 1847.3,2843.4 1849.2,2856.5 1851.1,2848.6 1853,2859.2 1854.9,2844.6 1856.8,2846.5 1858.7,2852.1 1860.6,2864.4 1862.5,2853.3 1864.4,2837.2 1866.3,2857.5 1868.2,2849.5 1870.1,2868.9 1872,2862.7 1873.9,2853.3 1875.8,2844.8 1877.7,2845.6 1879.6,2858.8 1881.5,2836 1883.4,2879 1885.3,2867.3 1887.2,2843.9 1889.1,2842 1891,2838 1892.9,2861.9 1894.8,2866.9 1896.7,2867.6 1898.6,2863.1 1900.5,2850.5 1902.4,2858.1 1904.3,2858.2 1906.2,2849.1 1908.1,2856.7 1910,2853.3 1911.9,2841.7 1913.8,2861.4 1915.7,2854.3 1917.6,2862.2 1919.5,2848.8 1921.4,2865.9 1923.3,2863.9 1925.2,2849.7 1927.1,2873.7 1929,2839.6 1930.9,2850.3 1932.8,2857.5 1934.7,2859.2 1936.6,2851.6 1938.5,2852.7 1940.4,2865 1942.3,2855.2 1944.2,2864 1946.1,2861.1 1948,2856.9 1949.9,2856.1 1951.8,2859.5 1953.7,2857.7 1955.6,2860.6 1957.5,2859.8 1959.4,2843.8 1961.3,2845 1963.2,2865 1965.1,2876 1967,2850.6 1968.9,2841.8 1970.8,2859.5 1972.7,2854.4 1974.6,2857.5 1976.5,2855 1978.4,2862.2 1980.3,2858.1 1982.2,2860.1 1984.1,2860.5 1986,2856.8 1987.9,2869.9 1989.8,2849.2 1991.7,2857.7 1993.6,2856.9 1995.5,2864.5 1997.4,2875.5 1999.3,2859.8 2001.2,2862.9 2003.1,2879 2005,2849.8 2006.9,2847"/>
<polyline fill="none" stroke="#000" stroke-width="5" stroke-linejoin="round"  points="372.5,2874.3 374,2874.3 375.5,2873.9 377,2873.1 378.5,2871.8 380,2871.3 381.5,2872.1 383,2873.9 384.5,2875.5 386,2874.6 387.5,2873.2 389,2871.2 390.5,2871.2 392,2872.5 393.5,2874.7 395,2876.1 396.5,2874.2 398,2873.6 399.5,2872.7 401,2872.6 402.5,2872.9 404,2872.5 405.5,2873.7 407,2874.6 408.5,2875.7 410,2873.4 411.5,2871.5 413,2872 414.5,2875.2 416,2875.5 417.5,2873.4 419,2873 420.5,2873.9 422,2874.4 423.5,2873.4 425,2872.9 426.5,2873.9 428,2875.7 429.5,2877.1 431,2875.1 432.5,2874 434,2872.1 435.5,2873 437,2872.3 438.5,2872.5 440,2873.7 441.5,2873.9 443,2875.4 444.5,2874.6 446,2874.6 447.5,2871.4 449,2871.2 450.5,2872.2 452,2873.6 453.5,2873.7 455,2873.8 456.5,2872.5 458,2871.9 459.5,2870.4 461,2871.1 462.5,2871.8 464,2873.4 465.5,2872.1 467,2872.3 468.5,2871.2 470,2873.8 471.5,2872.8 473,2874 474.5,2873.5 476,2874.7 477.5,2875 479,2874.5 480.5,2872.7 482,2871.8 483.5,2872.6 485,2873.4 486.5,2875.8 488,2875.1 489.5,2873.6 491,2873.5 492.5,2873.7 494,2874.8 495.5,2871.3 497,2870 498.5,2871.1 500,2871.3 501.5,2871 503,2871 504.5,2872.2 506,2874.3 507.5,2874.2 509,2873.2 510.5,2873.4 512,2872.2 513.5,2873 515,2871.7 516.5,2873.2 518,2872.8 519.5,2873.2 521,2872.9 522.5,2874.8 524,2874.5 525.5,2874.6 527,2872.4 528.5,2872.1 530,2871.5 531.5,2872.3 533,2872.4 534.5,2872.4 536,2870.8 537.5,2870.8 539,2870.8 540.5,2870.6 542,2867.7 543.5,2865.8 545,2865.9 546.5,2865.3 548,2865.5 549.5,2866.2 551,2868.3 552.5,2868.3 554,2868.8 555.5,2868.9 557,2870.6 558.5,2870.8 560,2871.6 561.5,2873.8 563,2873.1 564.5,2873 566,2870.7 567.5,2871.5 569,2871.9 570.5,2870.9 572,2870.6 573.5,2869.2 575,2871.1 576.5,2868.8 578,2868.7 579.5,2866.5 581,2868.4 582.5,2869 584,2868.6 585.5,2870.5 587,2868.9 588.5,2870.2 590,2868.6 591.5,2870.3 593,2868.7 594.5,2868.5 596,2868.3 597.5,2871.5 599,2872.7 600.5,2873.3 602,2873.5 603.5,2875.5 605,2877 606.5,2876.5 608,2874.6 609.5,2873.5 611,2872.7 612.5,2872.9 614,2873 615.5,2873.7 617,2873.2 618.5,2874.4 620,2873.8 621.5,2874.2 623,2872.4 624.5,2874.1 626,2872.8 627.5,2874.8 629,2873.3 630.5,2875.1 632,2874.9 633.5,2874.7 635,2875.1 636.5,2873.6 638,2872.5 639.5,2870.5 641,2872.5 642.5,2873.7 644,2874.4 645.5,2873 647,2873.5 648.5,2872.6 650,2871.3 651.5,2871 653,2870.7 654.5,2872.5 656,2870.8 657.5,2872.7 659,2873.2 660.5,2875.5 662,2874 663.5,2872.3 665,2873.3 666.5,2873.7 668,2874.2 669.5,2870.8 671,2871.2 672.5,2872.7 674,2876.2 675.5,2876.1 677,2874.5 678.5,2873 680,2872.9 681.5,2874 683,2874.2 684.5,2874.1 686,2871.3 687.5,2871.4 689,2872.3 690.5,2874.8 692,2874.9 693.5,2875.8 695,2875.4 696.5,2875.1 698,2873.2 699.5,2874 701,2874.4 702.5,2874.3 704,2872.8 705.5,2872.3 707,2873.6 708.5,2873.7 710,2872.7 711.5,2871.8 713,2874.5 714.5,2875.1 716,2874 717.5,2871.8 719,2872.8 720.5,2872.7 722,2872.1 723.5,2871.7 725,2872.8 726.5,2873.3 728,2872.4 729.5,2872.2 731,2873.3 732.5,2874.7 734,2874.7 735.5,2873.4 737,2873.3 738.5,2872.8 740,2873.7 741.5,2872.4 743,2871.6 744.5,2870.2 746,2870.8 747.5,2871.6 749,2873.8 750.5,2872.5 752,2873.4 753.5,2872.2 755,2873.5 756.5,2873.2 758,2872.1 759.5,2871.7 760,2870.9 760.8,2869.7 761.6,2868.8 762.4,2868.9 763.2,2869.7 764,2870.3 764.8,2868.5 765.6,2868.8 766.4,2868 767.2,2866.9 768,2865.7 768.8,2864.6 769.6,2865 770.4,2865.5 771.2,2864.8 772,2863.8 772.8,2861.7 773.6,2860.8 774.4,2861.7 775.2,2861.2 776,2861.3 776.8,2859.8 777.6,2860.1 778.4,2859.5 779.2,2858.1 780,2856.4 780.8,2854.2 781.6,2851.8 782.4,2849 783.2,2846.7 784,2844.3 784.8,2841.7 785.6,2838.2 786.4,2835.3 787.2,2830.6 788,2823.8 788.8,2818.4 789.6,2811.6 790.4,2806 791.2,2797.4 792,2788.4 792.8,2778.3 793.6,2767.1 794.4,2756.2 795.2,2743.6 796,2730.3 796.8,2714.2 797.6,2695.5 798.4,2670.5 799.2,2632.8 800,2580.9 800.8,2523.5 801.6,2464.8 802.4,2404.2 803.2,2242.2 804,2172 804.8,2124.3 805.6,2087.7 806.4,2055 807.2,2018.3 808,1980.6 808.8,1950.9 809.6,1939.8 809.6,1940.7 810.4,1958.7 811.2,2003.3 812,2069.9 812.8,2229.8 813.6,2362.4 814.4,2435.9 815.2,2484.3 816,2510.7 816.3,2513.7 816.8,2508.9 817.6,2489.6 818.4,2463.4 819.2,2442.7 820,2420.6 820.8,2404.6 821.3,2401.6 821.6,2403.1 822.4,2426.5 823.2,2459.2 824,2495.4 824.8,2538.1 825.6,2581.4 826.4,2620.1 827.2,2657.1 828,2688.4 828.8,2720.6 829.6,2748.4 830.4,2771.9 831.2,2785.8 832,2797.3 832.8,2807.5 833.6,2815.2 834.4,2823.5 835.2,2827.4 836,2833.5 836.8,2837.1 837.6,2843.4 838.4,2846 839.2,2849.7 840,2851.7 840.8,2854.2 841.6,2856.5 842.4,2858 843.2,2860.4 844,2861.4 844.8,2861 845.6,2859.8 846.4,2860.3 847.2,2860.2 848,2861 848.8,2860.8 849.6,2861.8 850.4,2861.3 851.2,2861.7 852,2862.8 852.8,2865.4 853.6,2863.4 854.4,2862.3 855.2,2862.2 856,2864.1 856.8,2864.5 857.6,2864.2 858.4,2863.3 859.2,2863.9 860,2862.8 860.8,2863.6 861.6,2863.6 862.4,2865.2 863.2,2865.4 864,2865.1 864.8,2866.1 865.6,2866.1 866.4,2865.9 867.2,2864.2 868,2864.6 868.8,2866.1 869.6,2868 870.4,2869.4 871.2,2869.9 872,2870.2 872.8,2869.7 873.6,2870.2 874.4,2869.9 875.2,2869.3 876,2869.1 876.8,2868.6 877.6,2871.2 878.4,2871.1 879.2,2872.5 880,2870 880.8,2871.8 881.6,2871.8 882.4,2872.6 883.2,2869.9 884,2870.6 884.8,2871.5 885.6,2873.9 886.4,2871.5 887.2,2869.8 888,2869.1 888.8,2869.7 889.6,2871.9 890.4,2873.1 891.2,2873.5 892,2873.4 892.8,2872 893.6,2872.7 894.4,2871.4 895.2,2872.1 896,2872 896.8,2872.3 897.6,2872.1 898.4,2871 899.2,2872.3 900.5,2873.1 902,2873.5 903.5,2872.7 905,2872.4 906.5,2874 908,2874.9 909.5,2874.5 911,2873.9 912.5,2874.2 914,2874.9 915.5,2874.3 917,2872.5 918.5,2870.7 920,2871.7 921.5,2873.4 923,2874.2 924.5,2873.8 926,2872.4 927.5,2872.2 929,2872.2 930.5,2872.9 932,2874.9 933.5,2875.8 935,2875.2 936.5,2872.3 938,2872.4 939.5,2874.1 941,2876.2 942.5,2874.3 944,2874.6 945.5,2874.2 947,2873.8 948.5,2874.1 950,2875 951.5,2875.5 953,2872.9 954.5,2872.6 956,2872.5 957.5,2872.6 959,2873.1 960.5,2873.8 962,2875 963.5,2874.2 965,2873.9 966.5,2874.3 968,2875.6 969.5,2876.9 971,2877 972.5,2875.7 974,2873.9 975.5,2873.3 977,2873.7 978.5,2874.8 980,2873.8 981.5,2873.4 983,2872.9 984.5,2874 986,2874 987.5,2874.3 989,2872.9 990.5,2872.8 992,2871.6 993.5,2872.1 995,2871.9 996.5,2874.3 998,2874.8 999.5,2875.7 1001,2873.6 1002.5,2873.1 1004,2872.1 1005.5,2873 1007,2872.2 1008.5,2874.1 1010,2873.4 1011.5,2874.8 1013,2874 1014.5,2875.2 1016,2874.9 1017.5,2873.9 1019,2872.4 1020.5,2872.9 1022,2873.8 1023.5,2873.8 1025,2872.4 1026.5,2872.6 1028,2874 1029.5,2874.6 1031,2874.1 1032.5,2873 1034,2873.8 1035.5,2874.1 1037,2872.2 1038.5,2870.7 1040,2868.9 1041.5,2871 1043,2872.4 1044.5,2872.7 1046,2871.8 1047.5,2871.4 1049,2872.6 1050.5,2873.4 1052,2873.3 1053.5,2874.3 1055,2874.2 1056.5,2873.5 1058,2873.7 1059.5,2872.8 1061,2874.3 1062.5,2873.9 1064,2876.1 1065.5,2875.2 1067,2874.3 1068.5,2875 1070,2874.9 1071.5,2874.5 1073,2873.7 1074.5,2875.6 1076,2876.9 1077.5,2876.9 1079,2874.5 1080.5,2873.9 1082,2873 1083.5,2871.3 1085,2870.9 1086.5,2871.5 1088,2873 1089.5,2872 1091,2870.8 1092.5,2871.4 1094,2873.5 1095.5,2876.1 1097,2876.8 1098.5,2876.1 1100,2875.6 1101.5,2876.1 1103,2876.1 1104.5,2875.5 1106,2874.8 1107.5,2873 1109,2871.9 1110.5,2872.5 1112,2873.2 1113.5,2874.1 1115,2873.7 1116.5,2874.9 1118,2872.6 1119.5,2872.1 1121,2872.3 1122.5,2874.7 1124,2874 1125.5,2873.1 1127,2873.2 1128.5,2874.5 1130,2875.2 1131.5,2876.2 1133,2875.4 1134.5,2874.4 1136,2872.9 1137.5,2873 1139,2872.3 1140.5,2872.3 1142,2871.8 1143.5,2873.7 1145,2874.4 1146.5,2875.2 1148,2873.4 1149.5,2873.2 1151,2873 1152.5,2874.1 1154,2872.7 1155.5,2873 1157,2873.4 1158.5,2874.5 1160,2874.1 1161.5,2872.3 1163,2871.6 1164.5,2871.2 1166,2872.5 1167.5,2873.4 1169,2872.5 1170.5,2872 1172,2871.5 1173.5,2874.6 1175,2875.8 1176.5,2876.5 1178,2874 1179.5,2872.6 1181,2872.4 1182.5,2874.3 1184,2874.8 1185.5,2875.5 1187,2875.9 1188.5,2876.7 1190,2876.4 1191.5,2874.5 1193,2873.1 1194.5,2872.7 1196,2872.8 1197.5,2873.9 1199,2874 1200.5,2874.9 1202,2873.9 1203.5,2873.9 1205,2872.1 1206.5,2872.2 1208,2872.5 1209.5,2873.5 1211,2873.9 1212.5,2873.6 1214,2875.6 1215.5,2876.3 1217,2874.8 1218.5,2872.6 1220,2870.6 1221.5,2872.7 1223,2874 1224.5,2875.4 1226,2875.3 1227.5,2874.6 1229,2873.4 1230.5,2871.9 1232,2871.9 1233.5,2871.2 1235,2871.6 1236.5,2872 1238,2872.8 1239.5,2873.2 1241,2872.2 1242.5,2874.4 1244,2874.3 1245.5,2875 1247,2872.2 1248.5,2873.4 1250,2874 1251.5,2875.1 1253,2875.2 1254.5,2872.8 1256,2873.9 1257.5,2872.4 1259,2874.4 1260.5,2874.1 1262,2874.5 1263.5,2874.3 1265,2873.3 1266.5,2874 1268,2872.2 1269.5,2872.1 1271,2872.8 1272.5,2872.3 1274,2872.8 1275.5,2872.2 1277,2873.6 1278.5,2873.7 1280,2872.4 1281.5,2871.9 1283,2871 1284.5,2872.7 1286,2873.2 1287.5,2874.7 1289,2874.9 1290.5,2875.8 1292,2876.2 1293.5,2874.6 1295,2874.2 1296.5,2873 1298,2873.4 1299.5,2873 1301,2872.9 1302.5,2873.5 1304,2873.8 1305.5,2874.3 1307,2874.1 1308.5,2874.8 1310,2874.4 1311.5,2873.5 1313,2871.1 1314.5,2871.2 1316,2871.5 1317.5,2873.9 1319,2874.1 1320.5,2873.3 1322,2870.7 1323.5,2870.3 1325,2869.9 1326.5,2870.2 1328,2868.8 1329.5,2869.6 1331,2871.4 1332.5,2873 1334,2872.6 1335.5,2872.6 1337,2872.7 1338.5,2874.4 1340,2874.4 1341.5,2875.6 1343,2873.9 1344.5,2874 1346,2872.8 1347.5,2873.3 1349,2872.9 1350.5,2873.9 1352,2874.8 1353.5,2875.4 1355,2874.3 1356.5,2874.2 1358,2872.3 1359.5,2872.6 1361,2871.5 1362.5,2873 1364,2874 1365.5,2874.5 1367,2872.7 1368.5,2870.1 1370,2868.6 1371.5,2869.4 1373,2870.2 1374.5,2870.8 1376,2870.5 1377.5,2869.5 1379,2868.7 1380.5,2867.5 1382,2868.5 1383.5,2868 1385,2870.3 1386.5,2870 1388,2871.8 1389.5,2870.4 1391,2870.6 1392.5,2869.5 1394,2870.4 1395.5,2869.8 1397,2872 1398.5,2871.7 1400,2872.3 1401.5,2870.8 1403,2872 1404.5,2874.3 1406,2873.9 1407.5,2873.9 1409,2872.5 1410.5,2874.1 1412,2872.3 1413.5,2871.6 1415,2870.5 1416.5,2870.6 1418,2870.8 1419.5,2872 1421,2872 1422.5,2871.6 1424,2871.2 1425.5,2873.8 1427,2875.1 1428.5,2875 1430,2873.9 1431.5,2872.7 1433,2870.8 1434.5,2870.4 1436,2870.8 1437.5,2872.3 1439,2870.9 1440.5,2873 1442,2874.1 1443.5,2874.4 1445,2872.7 1446.5,2873.7 1448,2874.4 1449.5,2875.4 1451,2873.3 1452.5,2872.9 1454,2872.1 1455.5,2873.8 1457,2874.2 1458.5,2874.2 1460,2873.5 1461.5,2874.4 1463,2874.5 1464.5,2875.1 1466,2873.9 1467.5,2872.5 1469,2872.4 1470.5,2874.2 1472,2874.5 1473.5,2872.7 1475,2871.2 1476.5,2870.9 1478,2871.3 1479.5,2871.7 1481,2872.9 1482.5,2874.1 1484,2874.3 1485.5,2875.5 1487,2873.7 1488.5,2874.5 1490,2872.9 1491.5,2873.8 1493,2872.9 1494.5,2873.2 1496,2874.1 1497.5,2874.4 1499,2873.7 1500.5,2872.5 1502,2873.3 1503.5,2874 1505,2876 1506.5,2875 1508,2874.8 1509.5,2874.5 1511,2873.3 1512.5,2874.5 1514,2872.3 1515.5,2874.9 1517,2873.2 1518.5,2875.8 1520,2874.8 1521.5,2876.5 1523,2874.7 1524.5,2874.9 1526,2874 1527.5,2874.1 1529,2874.3 1530.5,2874.6 1532,2874.6 1533.5,2874.6 1535,2873.7 1536.5,2875.4 1538,2873 1539.5,2872.4 1540,2872.1 1540.8,2874.4 1541.6,2875.5 1542.4,2873.7 1543.2,2872.3 1544,2871.1 1544.8,2870.5 1545.6,2871.9 1546.4,2872.6 1547.2,2873.6 1548,2872.1 1548.8,2872.2 1549.6,2873.5 1550.4,2874.3 1551.2,2872 1552,2870.4 1552.8,2869 1553.6,2871 1554.4,2871.1 1555.2,2872 1556,2872.1 1556.8,2871 1557.6,2871.3 1558.4,2872.6 1559.2,2872.5 1560,2871.6 1560.8,2870.3 1561.6,2871.1 1562.4,2870.9 1563.2,2870.1 1564,2870.7 1564.8,2870.2 1565.6,2868.3 1566.4,2867.4 1567.2,2869.3 1568,2870.5 1568.8,2869.3 1569.6,2869.1 1570.4,2871.2 1571.2,2873.4 1572,2873 1572.8,2872.6 1573.6,2871.8 1574.4,2871.7 1575.2,2872.2 1576,2871.5 1576.8,2869.9 1577.6,2870.2 1578.4,2870.6 1579.2,2872.1 1580,2871 1580.8,2870.7 1581.6,2871.2 1582.4,2869.8 1583.2,2870.1 1584,2870 1584.8,2870.3 1585.6,2869.9 1586.4,2867.8 1587.2,2867.9 1588,2868.2 1588.8,2867.8 1589.6,2867.6 1590.4,2866.9 1591.2,2867.2 1592,2867.8 1592.8,2868 1593.6,2869.8 1594.4,2867.6 1595.2,2868.1 1596,2868.3 1596.8,2870.7 1597.6,2868.4 1598.4,2866.5 1599.2,2866 1600,2868 1600.8,2866.8 1601.6,2866.5 1602.4,2865.6 1603.2,2867.8 1604,2865 1604.8,2865.3 1605.6,2865.5 1606.4,2867.1 1607.2,2865.9 1608,2864.6 1608.8,2865 1609.6,2866.4 1610.4,2866.5 1611.2,2864.1 1612,2863.6 1612.8,2861.5 1613.6,2861 1614.4,2858.3 1615.2,2858.9 1616,2859.5 1616.8,2859.4 1617.6,2860.7 1618.4,2861.2 1619.2,2862.9 1620,2863.4 1620.8,2862.9 1621.6,2862.7 1622.4,2860.6 1623.2,2862.3 1624,2860.7 1624.8,2860.2 1625.6,2859.3 1626.4,2860.6 1627.2,2861.5 1628,2860.8 1628.8,2860.2 1629.6,2860.1 1630.4,2859.3 1631.2,2857.9 1632,2855.6 1632.8,2854.4 1633.6,2854.4 1634.4,2853.6 1635.2,2853.2 1636,2851.2 1636.8,2848.4 1637.6,2844.2 1638.4,2837.4 1639.2,2828.4 1640,2815 1640.8,2800.8 1641.6,2780.7 1642.4,2757.4 1643.2,2730.6 1644,2702.1 1644.8,2669.7 1645.6,2628.4 1646.4,2577.7 1647.2,2517.4 1648,2443 1648.8,2352.5 1649.6,2279.6 1650.4,2236.4 1651.2,2210.1 1652,2193.2 1652.8,2183.4 1653.6,2179.5 1653.7,2180.1 1654.4,2217.5 1655.2,2280.8 1656,2338.7 1656.8,2405.1 1657.6,2473 1658.4,2521.3 1659.2,2564.3 1660,2617.2 1660.8,2653.4 1660.8,2652.1 1661.6,2642.5 1662.4,2626.3 1663.2,2608.1 1664,2585.4 1664.8,2565.6 1665.6,2548 1666.4,2530.6 1667.2,2515.2 1667.7,2512.9 1668,2514.7 1668.8,2539.8 1669.6,2571.4 1670.4,2605.2 1671.2,2640.2 1672,2672.4 1672.8,2706.9 1673.6,2738.4 1674.4,2765.7 1675.2,2788.6 1676,2806.2 1676.8,2822 1677.6,2833.3 1678.4,2841.7 1679.2,2850.6 1680,2856.5 1680.8,2859.9 1681.6,2859.5 1682.4,2858.8 1683.2,2857.8 1684,2858 1684.8,2860.1 1685.6,2863.6 1686.4,2865.3 1687.2,2864.9 1688,2864.4 1688.8,2864.3 1689.6,2864.4 1690.4,2865.3 1691.2,2866.3 1692,2866.3 1692.8,2865.3 1693.6,2864 1694.4,2865.2 1695.2,2866.6 1696,2866.4 1696.8,2867 1697.6,2865.9 1698.4,2866.5 1699.2,2865.9 1700,2867.3 1700.8,2867.4 1701.6,2868.9 1702.4,2867.7 1703.2,2868.5 1704,2866.2 1704.8,2867 1705.6,2866.8 1706.4,2868.2 1707.2,2869.3 1708,2869.4 1708.8,2869.4 1709.6,2868.5 1710.4,2868.4 1711.2,2868.2 1712,2867.3 1712.8,2866.7 1713.6,2866.1 1714.4,2865.5 1715.2,2866.2 1716,2866.8 1716.8,2867.7 1717.6,2867.9 1718.4,2868.6 1719.2,2869.5 1720,2868.9 1720.8,2867.8 1721.6,2867.2 1722.4,2867.8 1723.2,2869.3 1724,2870.1 1724.8,2870.6 1725.6,2869.7 1726.4,2870 1727.2,2867.8 1728,2867.3 1728.8,2865.9 1729.6,2867.7 1730.4,2867.7 1731.2,2868 1732,2865.9 1732.8,2866.8 1733.6,2866.2 1734.4,2868.4 1735.2,2867.5 1736,2867.4 1736.8,2866.4 1737.6,2865.9 1738.4,2867 1739.2,2869 1740,2872 1740.8,2871.9 1741.6,2870.7 1742.4,2869.4 1743.2,2868.5 1744,2867.3 1744.8,2867.7 1745.6,2867.1 1746.4,2868.5 1747.2,2868.8 1748,2869.2 1748.8,2868.2 1749.6,2866.9 1750.4,2868.5 1751.2,2868.2 1752,2868.5 1752.8,2868.5 1753.6,2869.7 1754.4,2870 1755.2,2869.6 1756,2870.2 1756.8,2869.2 1757.6,2869.8 1758.4,2869.2 1759.2,2870.8 1760,2870.3 1760.8,2872.1 1761.6,2870.7 1762.4,2869.9 1763.2,2868.8 1764,2869.7 1764.8,2871.1 1765.6,2870.6 1766.4,2871.8 1767.2,2873.3 1768,2874.7 1768.8,2875.3 1769.6,2874.8 1770.5,2876 1772,2875.8 1773.5,2874.8 1775,2872.8 1776.5,2873.3 1778,2872.4 1779.5,2872.9 1781,2871.9 1782.5,2873.4 1784,2873.9 1785.5,2874.1 1787,2874.7 1788.5,2875 1790,2876.6 1791.5,2875.7 1793,2874.3 1794.5,2872.8 1796,2873.3 1797.5,2873.9 1799,2873.2 1800.5,2873.3 1802,2873.2 1803.5,2873.6 1805,2873.3 1806.5,2873 1808,2872.7 1809.5,2872.8 1811,2871.6 1812.5,2872.6 1814,2872.4 1815.5,2873.7 1817,2873.2 1818.5,2874.1 1820,2874.3 1821.5,2875.1 1823,2874.3 1824.5,2873.9 1826,2872.5 1827.5,2872.4 1829,2873.2 1830.5,2872.1 1832,2872.2 1833.5,2870.3 1835,2872.7 1836.5,2872.4 1838,2872.6 1839.5,2872.6 1841,2873.8 1842.5,2874.3 1844,2872.3 1845.5,2870.7 1847,2871.1 1848.5,2872.8 1850,2873.2 1851.5,2872.8 1853,2872.7 1854.5,2874.3 1856,2874.1 1857.5,2874.7 1859,2874.5 1860.5,2875.8 1862,2874 1863.5,2873.9 1865,2873.5 1866.5,2872.9 1868,2871.5 1869.5,2871.8 1871,2873.9 1872.5,2875.5 1874,2874.2 1875.5,2874.6 1877,2873.3 1878.5,2873.6 1880,2873 1881.5,2873.3 1883,2873.2 1884.5,2872.7 1886,2871.5 1887.5,2871.4 1889,2870.3 1890.5,2872.4 1892,2873.1 1893.5,2874.2 1895,2873.3 1896.5,2874.9 1898,2875 1899.5,2873.9 1901,2871.7 1902.5,2872.2 1904,2873.3 1905.5,2874.2 1907,2872.9 1908.5,2873.4 1910,2873.8 1911.5,2875.6 1913,2874.4 1914.5,2872.4 1916,2870.9 1917.5,2871.1 1919,2872 1920.5,2873.2 1922,2873.2 1923.5,2872.6 1925,2870.9 1926.5,2871.5 1928,2873.3 1929.5,2874.7 1931,2873.6 1932.5,2873.5 1934,2872.8 1935.5,2873.6 1937,2873.3 1938.5,2874.2 1940,2874 1941.5,2874.4 1943,2874 1944.5,2873.4 1946,2872.2 1947.5,2873.6 1949,2875.4 1950.5,2875.4 1952,2874.4 1953.5,2872.9 1955,2872.6 1956.5,2871.1 1958,2870.3 1959.5,2872.2 1961,2873.7 1962.5,2875.5 1964,2874.8 1965.5,2873.4 1967,2872.6 1968.5,2872.9 1970,2874 1971.5,2875.3 1973,2875 1974.5,2875.7 1976,2873.2 1977.5,2872.2 1979,2871.4 1980.5,2873.1 1982,2873.1 1983.5,2872.8 1985,2871.7 1986.5,2872.2 1988,2870.3 1989.5,2870.8 1991,2871.8 1992.5,2874.4 1994,2875.4 1995.5,2873.1 1997,2872.5 1998.5,2871.4 2000,2873.9 2001.5,2873.3 2003,2874.9 2004.5,2874.1 2006,2874.5 2007.5,2873.7"/>
<g stroke="#000" stroke-linecap="round"><line x1="370.0" y1="1750.3" x2="370.0" y2="2985" stroke-width="6"/><line x1="359" y1="2985" x2="2006.6" y2="2985" stroke-width="6.5"/><line x1="344" y1="2882.1" x2="370.0" y2="2882.1" stroke-width="6"/><line x1="357" y1="2779.2" x2="370.0" y2="2779.2" stroke-width="6"/><line x1="344" y1="2676.3" x2="370.0" y2="2676.3" stroke-width="6"/><line x1="357" y1="2573.4" x2="370.0" y2="2573.4" stroke-width="6"/><line x1="344" y1="2470.5" x2="370.0" y2="2470.5" stroke-width="6"/><line x1="357" y1="2367.6" x2="370.0" y2="2367.6" stroke-width="6"/><line x1="344" y1="2264.8" x2="370.0" y2="2264.8" stroke-width="6"/><line x1="357" y1="2161.9" x2="370.0" y2="2161.9" stroke-width="6"/><line x1="344" y1="2059" x2="370.0" y2="2059" stroke-width="6"/><line x1="357" y1="1956.1" x2="370.0" y2="1956.1" stroke-width="6"/><line x1="344" y1="1853.2" x2="370.0" y2="1853.2" stroke-width="6"/><line x1="357" y1="1750.3" x2="370.0" y2="1750.3" stroke-width="6"/><line x1="370" y1="2985" x2="370" y2="3011" stroke-width="6"/><line x1="486.9" y1="2985" x2="486.9" y2="2999" stroke-width="6"/><line x1="603.8" y1="2985" x2="603.8" y2="3011" stroke-width="6"/><line x1="720.7" y1="2985" x2="720.7" y2="2999" stroke-width="6"/><line x1="837.6" y1="2985" x2="837.6" y2="3011" stroke-width="6"/><line x1="954.5" y1="2985" x2="954.5" y2="2999" stroke-width="6"/><line x1="1071.4" y1="2985" x2="1071.4" y2="3011" stroke-width="6"/><line x1="1188.3" y1="2985" x2="1188.3" y2="2999" stroke-width="6"/><line x1="1305.2" y1="2985" x2="1305.2" y2="3011" stroke-width="6"/><line x1="1422.1" y1="2985" x2="1422.1" y2="2999" stroke-width="6"/><line x1="1539" y1="2985" x2="1539" y2="3011" stroke-width="6"/><line x1="1655.9" y1="2985" x2="1655.9" y2="2999" stroke-width="6"/><line x1="1772.8" y1="2985" x2="1772.8" y2="3011" stroke-width="6"/><line x1="1889.7" y1="2985" x2="1889.7" y2="2999" stroke-width="6"/><line x1="2006.6" y1="2985" x2="2006.6" y2="3011" stroke-width="6"/></g>
<g font-family="'Liberation Serif', 'Times New Roman', serif" font-size="48.5" fill="#000" text-anchor="end">
<text x="329" y="2896.6">0.0</text>
<text x="329" y="2690.8">0.2</text>
<text x="329" y="2485">0.4</text>
<text x="329" y="2279.3">0.6</text>
<text x="329" y="2073.5">0.8</text>
<text x="329" y="1867.7">1.0</text>
</g>
<g font-family="'Liberation Serif', 'Times New Roman', serif" font-size="47" fill="#000" text-anchor="middle">
<text x="370" y="3064">40</text>
<text x="603.8" y="3064">42</text>
<text x="837.6" y="3064">44</text>
<text x="1071.4" y="3064">46</text>
<text x="1305.2" y="3064">48</text>
<text x="1539" y="3064">50</text>
<text x="1772.8" y="3064">52</text>
<text x="2006.6" y="3064">54</text>
</g>
<text transform="translate(191,2373) rotate(-90)" font-family="'Liberation Serif', 'Times New Roman', serif" font-weight="bold" font-size="60" text-anchor="middle" fill="#000">Normalized Intensity</text>
<text x="1057" y="3196" font-family="'Liberation Serif', 'Times New Roman', serif" font-size="84" fill="#000"><tspan font-weight="bold">2θ</tspan><tspan dx="-4"> (</tspan><tspan font-size="47" dy="-45">0</tspan><tspan dy="45">)</tspan></text>
<rect x="411.5" y="1709" width="65" height="137" fill="#fff" stroke="#000" stroke-width="2.6"/>
<text x="446.5" y="1816" font-family="'Liberation Serif', 'Times New Roman', serif" font-size="110" text-anchor="middle" fill="#000">b</text>
<rect x="979" y="2060.5" width="467" height="141.5" fill="#fff" stroke="#000" stroke-width="3"/>
<line x1="1021" y1="2103" x2="1146" y2="2103" stroke="#000" stroke-width="4.5" stroke-linecap="round"/>
<line x1="1021" y1="2171" x2="1146" y2="2171" stroke="#ff0000" stroke-width="4.5" stroke-linecap="round"/>
<g font-family="'Liberation Serif', 'Times New Roman', serif" font-size="55" fill="#000">
<text x="1161" y="2121" font-size="54.5">Annealed</text>
<text x="1160.5" y="2190" font-size="53.8">Cold Rolled</text>
</g>
<rect x="419" y="2389" width="238" height="80" fill="#fff" stroke="#000" stroke-width="3"/>
<text x="440" y="2450" font-family="'Liberation Serif', 'Times New Roman', serif" font-size="48" fill="#000">2θ = 43.7<tspan font-size="27" dy="-30">0</tspan></text>
<line x1="659" y1="2442" x2="759" y2="2442" stroke="#000" stroke-width="3.5"/><polygon points="794,2442 759,2433.5 759,2450.5" fill="#000"/>
<rect x="1194" y="2379.5" width="300" height="91.0" fill="#fff" stroke="#000" stroke-width="3"/>
<text x="1221" y="2449" font-family="'Liberation Serif', 'Times New Roman', serif" font-size="55" fill="#000">2θ = 50.98<tspan font-size="30" dy="-32">0</tspan></text>
<line x1="1503" y1="2422" x2="1597" y2="2422" stroke="#000" stroke-width="3"/><polygon points="1632,2422 1597,2413.5 1597,2430.5" fill="#000"/>
<rect x="973" y="2595" width="90" height="67.5" fill="#fff" stroke="#000" stroke-width="3"/>
<text x="988" y="2648" font-family="'Liberation Serif', 'Times New Roman', serif" font-size="50" fill="#000">CR</text>
<line x1="954" y1="2625.5" x2="903" y2="2625.5" stroke="#000" stroke-width="3.5"/><polygon points="868,2625.5 903,2617.0 903,2634.0" fill="#000"/>
<rect x="974" y="2687" width="207" height="64.5" fill="#fff" stroke="#000" stroke-width="3"/>
<text x="989" y="2737" font-family="'Liberation Serif', 'Times New Roman', serif" font-size="47.5" fill="#000">Annealed</text>
<line x1="968" y1="2717.5" x2="870" y2="2717.5" stroke="#000" stroke-width="3.5"/><polygon points="835,2717.5 870,2709.0 870,2726.0" fill="#000"/>
</svg></body></html>
